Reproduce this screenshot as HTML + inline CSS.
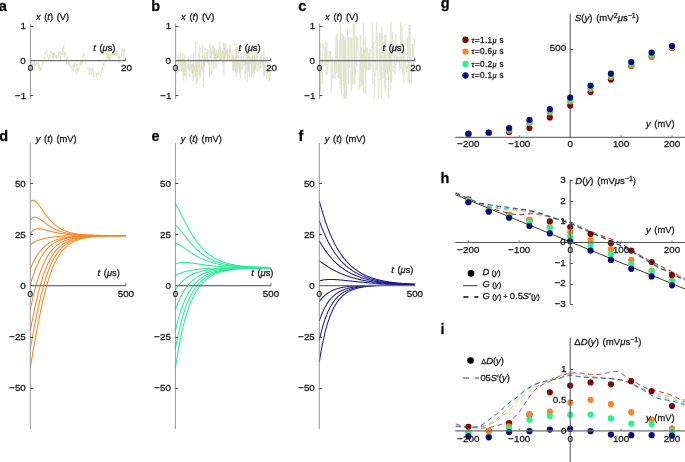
<!DOCTYPE html>
<html><head><meta charset="utf-8"><style>
html,body{margin:0;padding:0;background:#fff;width:685px;height:462px;overflow:hidden}
svg{display:block;font-family:"Liberation Sans", sans-serif;will-change:transform}
text{stroke:#1a1a1a;stroke-width:0.28px;stroke-linejoin:round}
</style></head><body>
<svg width="685" height="462" viewBox="0 0 685 462">
<rect width="685" height="462" fill="#fff"/>
<text x="-1.20" y="10.70" font-size="14.5" text-anchor="start" font-weight="bold" font-style="normal" fill="#000" >a</text>
<text x="151.20" y="10.70" font-size="14.5" text-anchor="start" font-weight="bold" font-style="normal" fill="#000" >b</text>
<text x="298.20" y="10.80" font-size="14.5" text-anchor="start" font-weight="bold" font-style="normal" fill="#000" >c</text>
<text x="-0.80" y="140.60" font-size="14.5" text-anchor="start" font-weight="bold" font-style="normal" fill="#000" >d</text>
<text x="151.60" y="140.80" font-size="14.5" text-anchor="start" font-weight="bold" font-style="normal" fill="#000" >e</text>
<text x="298.60" y="140.80" font-size="14.5" text-anchor="start" font-weight="bold" font-style="normal" fill="#000" >f</text>
<text x="440.80" y="7.60" font-size="14.5" text-anchor="start" font-weight="bold" font-style="normal" fill="#000" >g</text>
<text x="440.60" y="182.70" font-size="14.5" text-anchor="start" font-weight="bold" font-style="normal" fill="#000" >h</text>
<text x="440.60" y="333.80" font-size="14.5" text-anchor="start" font-weight="bold" font-style="normal" fill="#000" >i</text>
<polyline points="30.4,62.3 30.8,58.8 31.2,59.5 31.6,65.0 32.0,64.8 32.4,65.8 32.8,62.9 33.2,65.1 33.6,63.1 34.0,71.2 34.4,61.2 34.8,65.9 35.2,63.5 35.6,65.7 36.0,66.2 36.4,63.6 36.8,62.3 37.2,65.2 37.6,64.8 38.0,62.2 38.3,66.9 38.7,69.0 39.1,63.5 39.5,66.9 39.9,70.7 40.3,67.6 40.7,66.8 41.1,69.1 41.5,70.2 41.9,65.4 42.3,61.7 42.7,63.9 43.1,64.2 43.5,59.8 43.9,57.6 44.3,59.3 44.7,55.3 45.1,52.3 45.5,54.5 45.9,54.7 46.3,50.9 46.7,51.7 47.1,49.6 47.5,57.1 47.9,55.7 48.3,56.7 48.7,59.8 49.1,54.8 49.5,53.9 49.9,57.5 50.3,51.0 50.7,52.5 51.1,52.9 51.5,53.4 51.9,51.6 52.3,58.1 52.7,52.2 53.1,52.0 53.5,59.2 53.9,53.3 54.2,55.5 54.6,52.8 55.0,56.7 55.4,55.9 55.8,55.2 56.2,59.1 56.6,55.1 57.0,57.5 57.4,55.6 57.8,58.4 58.2,53.5 58.6,54.7 59.0,56.8 59.4,54.3 59.8,52.2 60.2,50.5 60.6,60.2 61.0,52.4 61.4,52.7 61.8,53.3 62.2,55.1 62.6,47.4 63.0,53.9 63.4,47.5 63.8,45.2 64.2,55.2 64.6,52.9 65.0,57.3 65.4,54.2 65.8,51.9 66.2,51.8 66.6,64.3 67.0,61.5 67.4,58.4 67.8,56.5 68.2,60.7 68.6,64.8 69.0,62.4 69.4,64.1 69.8,65.3 70.1,67.3 70.5,64.3 70.9,64.9 71.3,66.4 71.7,67.1 72.1,70.6 72.5,68.6 72.9,63.9 73.3,68.4 73.7,72.4 74.1,64.6 74.5,67.3 74.9,63.0 75.3,69.4 75.7,71.3 76.1,74.6 76.5,66.8 76.9,63.5 77.3,73.0 77.7,71.8 78.1,67.6 78.5,71.1 78.9,68.9 79.3,68.5 79.7,66.3 80.1,63.0 80.5,65.1 80.9,61.1 81.3,63.7 81.7,60.1 82.1,66.0 82.5,62.6 82.9,54.6 83.3,57.3 83.7,53.0 84.1,54.4 84.5,53.5 84.9,56.4 85.3,57.1 85.7,61.8 86.0,64.9 86.4,66.4 86.8,67.1 87.2,69.7 87.6,68.6 88.0,67.9 88.4,67.5 88.8,69.9 89.2,75.2 89.6,70.3 90.0,70.1 90.4,68.1 90.8,70.1 91.2,74.2 91.6,75.0 92.0,67.4 92.4,71.6 92.8,68.9 93.2,68.5 93.6,77.7 94.0,73.8 94.4,73.3 94.8,72.7 95.2,72.5 95.6,73.2 96.0,73.0 96.4,77.7 96.8,73.4 97.2,75.3 97.6,73.2 98.0,75.3 98.4,72.6 98.8,72.4 99.2,74.3 99.6,74.7 100.0,75.8 100.4,77.1 100.8,74.9 101.2,74.4 101.6,70.3 101.9,70.0 102.3,66.9 102.7,71.0 103.1,63.0 103.5,66.5 103.9,65.3 104.3,62.8 104.7,62.8 105.1,59.3 105.5,60.8 105.9,61.3 106.3,59.6 106.7,52.2 107.1,54.9 107.5,58.0 107.9,54.8 108.3,59.7 108.7,50.2 109.1,60.2 109.5,54.6 109.9,54.7 110.3,60.9 110.7,56.0 111.1,54.2 111.5,55.4 111.9,55.5 112.3,52.9 112.7,54.7 113.1,53.6 113.5,54.4 113.9,51.6 114.3,55.7 114.7,50.1 115.1,53.7 115.5,55.9 115.9,52.0 116.3,48.6 116.7,51.2 117.1,56.0 117.5,52.9 117.8,56.8 118.2,56.3 118.6,56.1 119.0,63.1 119.4,55.3 119.8,58.4 120.2,57.0 120.6,58.9 121.0,58.6 121.4,56.5 121.8,50.9 122.2,48.0 122.6,52.7 123.0,49.1 123.4,52.7 123.8,57.3 124.2,50.8 124.6,49.6 125.0,51.9 125.4,49.4" fill="none" stroke="#d8dbc0" stroke-width="0.6" stroke-linejoin="round" />
<line x1="30.40" y1="23.50" x2="30.40" y2="99.00" stroke="#8c8c8c" stroke-width="0.9" />
<line x1="30.40" y1="26.50" x2="33.20" y2="26.50" stroke="#444" stroke-width="1.0" />
<line x1="30.40" y1="95.50" x2="33.20" y2="95.50" stroke="#444" stroke-width="1.0" />
<line x1="30.40" y1="60.70" x2="125.40" y2="60.70" stroke="#707070" stroke-width="1.3" />
<line x1="125.40" y1="61.30" x2="125.40" y2="58.10" stroke="#707070" stroke-width="0.9" />
<text x="25.90" y="28.80" font-size="9.8" text-anchor="end" font-weight="normal" font-style="normal" fill="#111" >1</text>
<text x="25.80" y="63.90" font-size="9.8" text-anchor="end" font-weight="normal" font-style="normal" fill="#111" >0</text>
<text x="26.20" y="98.60" font-size="9.8" text-anchor="end" font-weight="normal" font-style="normal" fill="#111" >&#8722;1</text>
<text x="30.40" y="71.00" font-size="9.8" text-anchor="middle" font-weight="normal" font-style="normal" fill="#111" >0</text>
<text x="126.40" y="71.00" font-size="9.8" text-anchor="middle" font-weight="normal" font-style="normal" fill="#111" >20</text>
<text x="93.20" y="51.20" font-size="9.3" fill="#111" word-spacing="1.1"><tspan font-style="italic">t</tspan> (<tspan font-style="italic">&#956;</tspan>s)</text>
<text x="35.90" y="19.50" font-size="9.3" fill="#111" word-spacing="1.1"><tspan font-style="italic">x</tspan> (<tspan font-style="italic">t</tspan>) (V)</text>
<polyline points="175.6,64.9 175.9,60.6 176.2,73.0 176.6,74.0 176.9,64.3 177.2,67.2 177.5,67.5 177.8,57.3 178.1,54.9 178.5,72.1 178.8,58.5 179.1,60.9 179.4,62.0 179.7,59.3 180.0,71.2 180.4,59.1 180.7,53.0 181.0,64.3 181.3,71.9 181.6,60.4 182.0,59.0 182.3,66.3 182.6,71.4 182.9,53.9 183.2,80.6 183.5,59.3 183.9,69.8 184.2,75.7 184.5,55.6 184.8,68.4 185.1,76.3 185.4,60.5 185.8,73.1 186.1,80.5 186.4,69.0 186.7,65.2 187.0,63.5 187.4,67.6 187.7,67.3 188.0,64.2 188.3,70.3 188.6,57.9 188.9,69.4 189.3,64.9 189.6,64.3 189.9,76.7 190.2,70.3 190.5,55.2 190.9,68.8 191.2,69.4 191.5,64.5 191.8,72.3 192.1,64.1 192.4,73.8 192.8,63.7 193.1,80.9 193.4,53.5 193.7,75.8 194.0,77.3 194.3,66.5 194.7,70.8 195.0,65.4 195.3,76.8 195.6,61.4 195.9,41.2 196.3,84.6 196.6,59.1 196.9,71.5 197.2,63.8 197.5,81.3 197.8,70.8 198.2,61.5 198.5,68.0 198.8,53.1 199.1,75.3 199.4,61.8 199.7,44.8 200.1,77.8 200.4,68.8 200.7,64.7 201.0,65.8 201.3,58.6 201.7,66.1 202.0,70.4 202.3,61.6 202.6,45.5 202.9,60.6 203.2,86.9 203.6,58.7 203.9,72.6 204.2,56.8 204.5,67.2 204.8,47.5 205.1,60.5 205.5,56.4 205.8,62.5 206.1,61.9 206.4,58.7 206.7,51.9 207.1,59.2 207.4,63.3 207.7,49.1 208.0,61.1 208.3,59.1 208.6,64.7 209.0,60.8 209.3,62.0 209.6,77.6 209.9,43.3 210.2,56.5 210.5,58.0 210.9,47.4 211.2,54.7 211.5,52.9 211.8,75.3 212.1,51.5 212.5,52.8 212.8,44.3 213.1,45.2 213.4,48.1 213.7,67.0 214.0,69.3 214.4,47.6 214.7,58.3 215.0,48.0 215.3,59.5 215.6,53.4 216.0,68.4 216.3,49.1 216.6,61.8 216.9,52.0 217.2,54.2 217.5,58.0 217.9,53.6 218.2,57.5 218.5,50.4 218.8,54.3 219.1,60.9 219.4,59.1 219.8,41.6 220.1,60.7 220.4,46.5 220.7,55.1 221.0,59.6 221.4,59.5 221.7,52.7 222.0,53.5 222.3,50.3 222.6,65.4 222.9,55.6 223.3,54.5 223.6,41.7 223.9,75.6 224.2,43.8 224.5,60.6 224.8,48.0 225.2,58.6 225.5,48.7 225.8,42.7 226.1,54.1 226.4,50.4 226.8,52.3 227.1,60.7 227.4,48.6 227.7,58.3 228.0,60.4 228.3,54.2 228.7,57.8 229.0,49.6 229.3,58.5 229.6,59.9 229.9,44.6 230.2,53.1 230.6,48.8 230.9,55.5 231.2,59.3 231.5,60.8 231.8,59.6 232.2,51.0 232.5,60.3 232.8,70.0 233.1,56.3 233.4,71.1 233.7,54.8 234.1,70.4 234.4,66.4 234.7,57.3 235.0,61.7 235.3,72.7 235.7,51.2 236.0,47.1 236.3,76.4 236.6,42.6 236.9,72.1 237.2,62.0 237.6,62.9 237.9,72.5 238.2,48.9 238.5,62.4 238.8,68.1 239.1,63.0 239.5,74.2 239.8,62.1 240.1,56.2 240.4,78.4 240.7,62.2 241.1,62.8 241.4,56.0 241.7,56.0 242.0,70.0 242.3,68.0 242.6,59.5 243.0,68.3 243.3,65.2 243.6,55.5 243.9,53.7 244.2,65.1 244.5,65.1 244.9,59.3 245.2,79.8 245.5,59.3 245.8,73.4 246.1,42.8 246.5,64.7 246.8,62.5 247.1,65.7 247.4,82.4 247.7,52.7 248.0,54.6 248.4,72.0 248.7,56.0 249.0,60.5 249.3,76.4 249.6,52.6 249.9,56.5 250.3,63.9 250.6,63.9 250.9,57.4 251.2,77.1 251.5,58.7 251.9,56.8 252.2,74.9 252.5,52.4 252.8,69.8 253.1,77.2 253.4,59.9 253.8,71.7 254.1,58.2 254.4,73.6 254.7,52.0 255.0,72.1 255.3,57.6 255.7,69.2 256.0,63.6 256.3,53.7 256.6,64.1 256.9,65.6 257.3,71.6 257.6,51.3 257.9,60.6 258.2,65.9 258.5,59.9 258.8,71.4 259.2,67.8 259.5,67.4 259.8,58.4 260.1,61.5 260.4,68.5 260.8,55.0 261.1,58.7 261.4,62.5 261.7,55.0 262.0,67.7 262.3,62.8 262.7,60.1 263.0,65.1 263.3,57.6 263.6,75.8 263.9,50.2 264.2,75.0 264.6,63.1 264.9,76.3 265.2,57.5 265.5,58.3 265.8,59.9 266.2,61.6 266.5,79.6 266.8,68.6 267.1,69.8 267.4,73.3 267.7,56.8 268.1,69.2 268.4,68.2 268.7,66.8 269.0,80.6 269.3,78.5 269.6,81.3 270.0,72.4 270.3,78.7 270.6,77.4" fill="none" stroke="#d8dbc0" stroke-width="0.6" stroke-linejoin="round" />
<line x1="175.60" y1="23.50" x2="175.60" y2="99.00" stroke="#8c8c8c" stroke-width="0.9" />
<line x1="175.60" y1="26.50" x2="178.40" y2="26.50" stroke="#444" stroke-width="1.0" />
<line x1="175.60" y1="95.50" x2="178.40" y2="95.50" stroke="#444" stroke-width="1.0" />
<line x1="175.60" y1="60.70" x2="270.60" y2="60.70" stroke="#707070" stroke-width="1.3" />
<line x1="270.60" y1="61.30" x2="270.60" y2="58.10" stroke="#707070" stroke-width="0.9" />
<text x="171.10" y="28.80" font-size="9.8" text-anchor="end" font-weight="normal" font-style="normal" fill="#111" >1</text>
<text x="171.00" y="63.90" font-size="9.8" text-anchor="end" font-weight="normal" font-style="normal" fill="#111" >0</text>
<text x="171.40" y="98.60" font-size="9.8" text-anchor="end" font-weight="normal" font-style="normal" fill="#111" >&#8722;1</text>
<text x="175.60" y="71.00" font-size="9.8" text-anchor="middle" font-weight="normal" font-style="normal" fill="#111" >0</text>
<text x="271.60" y="71.00" font-size="9.8" text-anchor="middle" font-weight="normal" font-style="normal" fill="#111" >20</text>
<text x="238.40" y="51.20" font-size="9.3" fill="#111" word-spacing="1.1"><tspan font-style="italic">t</tspan> (<tspan font-style="italic">&#956;</tspan>s)</text>
<text x="181.10" y="19.50" font-size="9.3" fill="#111" word-spacing="1.1"><tspan font-style="italic">x</tspan> (<tspan font-style="italic">t</tspan>) (V)</text>
<polyline points="319.6,60.7 320.1,42.0 320.6,91.7 321.1,58.0 321.6,59.2 322.1,84.7 322.6,60.3 323.1,43.3 323.6,48.5 324.1,46.9 324.6,65.5 325.1,62.5 325.6,41.3 326.1,74.9 326.6,49.1 327.1,42.3 327.6,74.4 328.1,65.8 328.6,58.8 329.2,51.1 329.7,56.2 330.2,59.8 330.7,51.4 331.2,92.2 331.7,63.0 332.2,56.9 332.7,78.3 333.2,76.9 333.7,75.2 334.2,70.8 334.7,59.7 335.2,78.8 335.7,49.4 336.2,35.8 336.7,73.2 337.2,33.6 337.7,66.5 338.2,77.8 338.7,58.3 339.2,78.7 339.7,40.2 340.2,88.9 340.7,26.5 341.2,64.4 341.7,94.3 342.2,33.6 342.7,44.6 343.2,80.9 343.7,35.5 344.2,98.9 344.7,39.8 345.2,97.9 345.7,37.5 346.2,98.9 346.7,90.3 347.2,42.0 347.7,28.5 348.3,83.9 348.8,37.0 349.3,68.3 349.8,63.3 350.3,49.0 350.8,36.9 351.3,91.7 351.8,38.5 352.3,63.6 352.8,84.3 353.3,23.3 353.8,41.9 354.3,84.8 354.8,22.5 355.3,75.6 355.8,57.6 356.3,35.9 356.8,66.7 357.3,52.7 357.8,37.6 358.3,47.6 358.8,50.4 359.3,89.1 359.8,76.6 360.3,34.8 360.8,87.1 361.3,47.5 361.8,84.6 362.3,54.3 362.8,85.4 363.3,22.5 363.8,93.6 364.3,49.6 364.8,68.4 365.3,36.7 365.8,94.9 366.3,47.6 366.8,69.6 367.4,48.0 367.9,57.6 368.4,70.0 368.9,52.8 369.4,70.3 369.9,48.7 370.4,67.3 370.9,69.4 371.4,57.7 371.9,55.6 372.4,23.4 372.9,84.1 373.4,46.0 373.9,41.2 374.4,98.9 374.9,73.4 375.4,76.2 375.9,56.5 376.4,22.5 376.9,70.2 377.4,36.0 377.9,74.5 378.4,97.9 378.9,85.9 379.4,32.9 379.9,68.6 380.4,80.1 380.9,33.6 381.4,98.3 381.9,26.0 382.4,49.4 382.9,78.5 383.4,72.8 383.9,41.2 384.4,87.5 384.9,35.0 385.4,91.7 385.9,34.3 386.5,69.6 387.0,64.6 387.5,74.7 388.0,51.0 388.5,97.4 389.0,50.8 389.5,71.5 390.0,44.6 390.5,88.9 391.0,22.5 391.5,82.5 392.0,71.7 392.5,32.2 393.0,43.2 393.5,70.9 394.0,72.1 394.5,55.9 395.0,74.6 395.5,60.6 396.0,33.7 396.5,64.7 397.0,56.6 397.5,56.3 398.0,63.5 398.5,45.0 399.0,51.7 399.5,70.7 400.0,54.9 400.5,22.5 401.0,69.2 401.5,60.5 402.0,25.2 402.5,74.7 403.0,74.1 403.5,43.6 404.0,83.1 404.5,60.4 405.0,55.2 405.6,65.1 406.1,72.2 406.6,65.7 407.1,69.0 407.6,37.1 408.1,82.6 408.6,61.9 409.1,24.9 409.6,84.6 410.1,25.3 410.6,52.0 411.1,66.8 411.6,82.9 412.1,44.0 412.6,55.7 413.1,45.9 413.6,65.4 414.1,37.9 414.6,45.7" fill="none" stroke="#d9dcc2" stroke-width="0.6" stroke-linejoin="round" />
<line x1="319.60" y1="23.50" x2="319.60" y2="99.00" stroke="#8c8c8c" stroke-width="0.9" />
<line x1="319.60" y1="26.50" x2="322.40" y2="26.50" stroke="#444" stroke-width="1.0" />
<line x1="319.60" y1="95.50" x2="322.40" y2="95.50" stroke="#444" stroke-width="1.0" />
<line x1="319.60" y1="60.70" x2="414.60" y2="60.70" stroke="#707070" stroke-width="1.3" />
<line x1="414.60" y1="61.30" x2="414.60" y2="58.10" stroke="#707070" stroke-width="0.9" />
<text x="315.10" y="28.80" font-size="9.8" text-anchor="end" font-weight="normal" font-style="normal" fill="#111" >1</text>
<text x="315.00" y="63.90" font-size="9.8" text-anchor="end" font-weight="normal" font-style="normal" fill="#111" >0</text>
<text x="315.40" y="98.60" font-size="9.8" text-anchor="end" font-weight="normal" font-style="normal" fill="#111" >&#8722;1</text>
<text x="319.60" y="71.00" font-size="9.8" text-anchor="middle" font-weight="normal" font-style="normal" fill="#111" >0</text>
<text x="415.60" y="71.00" font-size="9.8" text-anchor="middle" font-weight="normal" font-style="normal" fill="#111" >20</text>
<text x="382.40" y="51.20" font-size="9.3" fill="#111" word-spacing="1.1"><tspan font-style="italic">t</tspan> (<tspan font-style="italic">&#956;</tspan>s)</text>
<text x="325.10" y="19.50" font-size="9.3" fill="#111" word-spacing="1.1"><tspan font-style="italic">x</tspan> (<tspan font-style="italic">t</tspan>) (V)</text>
<polyline points="30.3,202.4 30.4,202.3 30.5,202.2 30.5,202.0 30.6,201.9 30.7,201.8 30.8,201.7 30.8,201.6 30.9,201.5 31.0,201.4 31.1,201.3 31.2,201.2 31.2,201.1 31.3,201.1 31.4,201.0 31.5,200.9 31.5,200.8 31.6,200.8 31.7,200.7 31.8,200.7 31.9,200.6 31.9,200.6 32.0,200.5 32.1,200.5 32.2,200.4 32.3,200.4 32.3,200.4 32.4,200.3 32.5,200.3 32.6,200.3 32.6,200.3 32.7,200.3 32.8,200.2 32.9,200.2 33.0,200.2 33.0,200.2 33.1,200.2 33.2,200.2 33.3,200.2 33.3,200.2 33.4,200.2 33.5,200.2 33.6,200.2 33.7,200.3 33.7,200.3 33.8,200.3 33.9,200.3 34.0,200.3 34.0,200.4 34.1,200.4 34.3,200.5 34.7,200.7 35.1,200.9 35.5,201.2 35.8,201.5 36.2,201.9 36.6,202.2 37.0,202.7 37.4,203.1 37.8,203.5 38.1,204.0 38.5,204.5 38.9,205.0 39.3,205.5 39.7,206.0 40.1,206.6 40.4,207.1 40.8,207.7 41.2,208.2 41.6,208.8 42.0,209.3 42.4,209.9 42.7,210.4 43.1,211.0 43.5,211.5 43.9,212.1 44.3,212.6 44.7,213.2 45.0,213.7 45.4,214.2 45.8,214.7 46.2,215.2 46.6,215.8 47.0,216.3 47.3,216.8 47.7,217.2 48.1,217.7 48.5,218.2 48.9,218.6 49.3,219.1 49.6,219.5 50.0,220.0 50.4,220.4 50.8,220.8 51.2,221.2 51.6,221.6 51.9,222.0 52.3,222.4 52.7,222.8 53.1,223.2 53.5,223.5 53.9,223.9 54.2,224.2 54.6,224.6 55.0,224.9 55.4,225.2 55.8,225.5 56.2,225.8 56.5,226.1 56.9,226.4 57.3,226.7 57.7,226.9 58.1,227.2 58.5,227.5 58.8,227.7 59.2,228.0 59.6,228.2 60.0,228.4 60.4,228.6 60.8,228.9 61.1,229.1 61.5,229.3 61.9,229.5 62.3,229.7 62.7,229.9 63.1,230.0 63.4,230.2 63.8,230.4 64.2,230.6 64.6,230.7 65.0,230.9 65.4,231.0 65.7,231.2 66.1,231.3 66.5,231.5 66.9,231.6 67.3,231.7 67.7,231.8 68.0,232.0 68.4,232.1 68.8,232.2 69.2,232.3 69.6,232.4 70.0,232.5 70.3,232.6 70.7,232.7 71.1,232.8 71.5,232.9 71.9,233.0 72.3,233.1 72.6,233.2 73.0,233.2 73.4,233.3 73.8,233.4 74.2,233.5 74.6,233.5 74.9,233.6 75.3,233.7 75.7,233.7 76.1,233.8 76.5,233.9 76.9,233.9 77.2,234.0 77.6,234.0 78.0,234.1 78.4,234.1 78.8,234.2 79.1,234.2 79.5,234.3 79.9,234.3 80.3,234.4 80.7,234.4 81.1,234.4 81.4,234.5 81.8,234.5 82.2,234.6 82.6,234.6 83.0,234.6 83.4,234.7 83.7,234.7 84.1,234.7 84.5,234.7 84.9,234.8 85.3,234.8 85.7,234.8 86.0,234.8 86.4,234.9 86.8,234.9 87.2,234.9 87.6,234.9 88.0,235.0 88.3,235.0 88.7,235.0 89.1,235.0 89.5,235.0 89.9,235.1 90.3,235.1 90.6,235.1 91.0,235.1 91.4,235.1 91.8,235.1 92.2,235.1 92.6,235.2 92.9,235.2 93.3,235.2 93.7,235.2 94.1,235.2 94.5,235.2 94.9,235.2 95.2,235.2 95.6,235.3 96.0,235.3 96.4,235.3 96.8,235.3 97.2,235.3 97.5,235.3 97.9,235.3 98.3,235.3 98.7,235.3 99.1,235.3 99.5,235.3 99.8,235.3 100.2,235.4 100.6,235.4 101.0,235.4 101.4,235.4 101.8,235.4 102.1,235.4 102.5,235.4 102.9,235.4 103.3,235.4 103.7,235.4 104.1,235.4 104.4,235.4 104.8,235.4 105.2,235.4 105.6,235.4 106.0,235.4 106.4,235.4 106.7,235.4 107.1,235.4 107.5,235.4 107.9,235.4 108.3,235.4 108.7,235.4 109.0,235.5 109.4,235.5 109.8,235.5 110.2,235.5 110.6,235.5 111.0,235.5 111.3,235.5 111.7,235.5 112.1,235.5 112.5,235.5 112.9,235.5 113.3,235.5 113.6,235.5 114.0,235.5 114.4,235.5 114.8,235.5 115.2,235.5 115.6,235.5 115.9,235.5 116.3,235.5 116.7,235.5 117.1,235.5 117.5,235.5 117.9,235.5 118.2,235.5 118.6,235.5 119.0,235.5 119.4,235.5 119.8,235.5 120.2,235.5 120.5,235.5 120.9,235.5 121.3,235.5 121.7,235.5 122.1,235.5 122.5,235.5 122.8,235.5 123.2,235.5 123.6,235.5 124.0,235.5 124.4,235.5 124.8,235.5 125.1,235.5 125.5,235.5 125.9,235.5" fill="none" stroke="#f08a2a" stroke-width="1.05" stroke-linejoin="round" />
<polyline points="30.3,220.4 30.4,220.3 30.5,220.1 30.5,220.0 30.6,219.9 30.7,219.8 30.8,219.7 30.8,219.5 30.9,219.4 31.0,219.3 31.1,219.2 31.2,219.1 31.2,219.0 31.3,218.9 31.4,218.8 31.5,218.8 31.5,218.7 31.6,218.6 31.7,218.5 31.8,218.4 31.9,218.4 31.9,218.3 32.0,218.2 32.1,218.1 32.2,218.1 32.3,218.0 32.3,218.0 32.4,217.9 32.5,217.8 32.6,217.8 32.6,217.7 32.7,217.7 32.8,217.6 32.9,217.6 33.0,217.6 33.0,217.5 33.1,217.5 33.2,217.4 33.3,217.4 33.3,217.4 33.4,217.4 33.5,217.3 33.6,217.3 33.7,217.3 33.7,217.2 33.8,217.2 33.9,217.2 34.0,217.2 34.0,217.2 34.1,217.2 34.3,217.1 34.7,217.1 35.1,217.1 35.5,217.1 35.8,217.2 36.2,217.3 36.6,217.4 37.0,217.6 37.4,217.7 37.8,217.9 38.1,218.1 38.5,218.3 38.9,218.5 39.3,218.7 39.7,219.0 40.1,219.2 40.4,219.5 40.8,219.8 41.2,220.0 41.6,220.3 42.0,220.6 42.4,220.9 42.7,221.2 43.1,221.4 43.5,221.7 43.9,222.0 44.3,222.3 44.7,222.6 45.0,222.9 45.4,223.2 45.8,223.5 46.2,223.7 46.6,224.0 47.0,224.3 47.3,224.6 47.7,224.8 48.1,225.1 48.5,225.4 48.9,225.6 49.3,225.9 49.6,226.1 50.0,226.4 50.4,226.6 50.8,226.9 51.2,227.1 51.6,227.3 51.9,227.6 52.3,227.8 52.7,228.0 53.1,228.2 53.5,228.4 53.9,228.6 54.2,228.8 54.6,229.0 55.0,229.2 55.4,229.4 55.8,229.6 56.2,229.7 56.5,229.9 56.9,230.1 57.3,230.2 57.7,230.4 58.1,230.5 58.5,230.7 58.8,230.8 59.2,231.0 59.6,231.1 60.0,231.3 60.4,231.4 60.8,231.5 61.1,231.6 61.5,231.8 61.9,231.9 62.3,232.0 62.7,232.1 63.1,232.2 63.4,232.3 63.8,232.4 64.2,232.5 64.6,232.6 65.0,232.7 65.4,232.8 65.7,232.9 66.1,233.0 66.5,233.1 66.9,233.1 67.3,233.2 67.7,233.3 68.0,233.4 68.4,233.4 68.8,233.5 69.2,233.6 69.6,233.6 70.0,233.7 70.3,233.8 70.7,233.8 71.1,233.9 71.5,233.9 71.9,234.0 72.3,234.0 72.6,234.1 73.0,234.1 73.4,234.2 73.8,234.2 74.2,234.3 74.6,234.3 74.9,234.4 75.3,234.4 75.7,234.4 76.1,234.5 76.5,234.5 76.9,234.5 77.2,234.6 77.6,234.6 78.0,234.6 78.4,234.7 78.8,234.7 79.1,234.7 79.5,234.8 79.9,234.8 80.3,234.8 80.7,234.8 81.1,234.9 81.4,234.9 81.8,234.9 82.2,234.9 82.6,235.0 83.0,235.0 83.4,235.0 83.7,235.0 84.1,235.0 84.5,235.0 84.9,235.1 85.3,235.1 85.7,235.1 86.0,235.1 86.4,235.1 86.8,235.1 87.2,235.2 87.6,235.2 88.0,235.2 88.3,235.2 88.7,235.2 89.1,235.2 89.5,235.2 89.9,235.2 90.3,235.2 90.6,235.3 91.0,235.3 91.4,235.3 91.8,235.3 92.2,235.3 92.6,235.3 92.9,235.3 93.3,235.3 93.7,235.3 94.1,235.3 94.5,235.3 94.9,235.3 95.2,235.4 95.6,235.4 96.0,235.4 96.4,235.4 96.8,235.4 97.2,235.4 97.5,235.4 97.9,235.4 98.3,235.4 98.7,235.4 99.1,235.4 99.5,235.4 99.8,235.4 100.2,235.4 100.6,235.4 101.0,235.4 101.4,235.4 101.8,235.4 102.1,235.4 102.5,235.4 102.9,235.4 103.3,235.4 103.7,235.4 104.1,235.4 104.4,235.5 104.8,235.5 105.2,235.5 105.6,235.5 106.0,235.5 106.4,235.5 106.7,235.5 107.1,235.5 107.5,235.5 107.9,235.5 108.3,235.5 108.7,235.5 109.0,235.5 109.4,235.5 109.8,235.5 110.2,235.5 110.6,235.5 111.0,235.5 111.3,235.5 111.7,235.5 112.1,235.5 112.5,235.5 112.9,235.5 113.3,235.5 113.6,235.5 114.0,235.5 114.4,235.5 114.8,235.5 115.2,235.5 115.6,235.5 115.9,235.5 116.3,235.5 116.7,235.5 117.1,235.5 117.5,235.5 117.9,235.5 118.2,235.5 118.6,235.5 119.0,235.5 119.4,235.5 119.8,235.5 120.2,235.5 120.5,235.5 120.9,235.5 121.3,235.5 121.7,235.5 122.1,235.5 122.5,235.5 122.8,235.5 123.2,235.5 123.6,235.5 124.0,235.5 124.4,235.5 124.8,235.5 125.1,235.5 125.5,235.5 125.9,235.5" fill="none" stroke="#f08a2a" stroke-width="1.05" stroke-linejoin="round" />
<polyline points="30.3,233.9 30.4,233.8 30.5,233.6 30.5,233.5 30.6,233.4 30.7,233.2 30.8,233.1 30.8,233.0 30.9,232.9 31.0,232.8 31.1,232.7 31.2,232.6 31.2,232.5 31.3,232.3 31.4,232.2 31.5,232.1 31.5,232.0 31.6,231.9 31.7,231.8 31.8,231.8 31.9,231.7 31.9,231.6 32.0,231.5 32.1,231.4 32.2,231.3 32.3,231.2 32.3,231.2 32.4,231.1 32.5,231.0 32.6,230.9 32.6,230.8 32.7,230.8 32.8,230.7 32.9,230.6 33.0,230.6 33.0,230.5 33.1,230.4 33.2,230.4 33.3,230.3 33.3,230.3 33.4,230.2 33.5,230.1 33.6,230.1 33.7,230.0 33.7,230.0 33.8,229.9 33.9,229.9 34.0,229.8 34.0,229.8 34.1,229.7 34.3,229.6 34.7,229.4 35.1,229.2 35.5,229.1 35.8,229.0 36.2,228.9 36.6,228.8 37.0,228.7 37.4,228.7 37.8,228.7 38.1,228.6 38.5,228.6 38.9,228.6 39.3,228.7 39.7,228.7 40.1,228.7 40.4,228.8 40.8,228.8 41.2,228.9 41.6,229.0 42.0,229.1 42.4,229.1 42.7,229.2 43.1,229.3 43.5,229.4 43.9,229.5 44.3,229.6 44.7,229.7 45.0,229.8 45.4,229.9 45.8,230.0 46.2,230.1 46.6,230.2 47.0,230.3 47.3,230.4 47.7,230.5 48.1,230.7 48.5,230.8 48.9,230.9 49.3,231.0 49.6,231.1 50.0,231.2 50.4,231.3 50.8,231.4 51.2,231.5 51.6,231.6 51.9,231.7 52.3,231.8 52.7,231.9 53.1,232.0 53.5,232.1 53.9,232.2 54.2,232.3 54.6,232.3 55.0,232.4 55.4,232.5 55.8,232.6 56.2,232.7 56.5,232.8 56.9,232.8 57.3,232.9 57.7,233.0 58.1,233.1 58.5,233.1 58.8,233.2 59.2,233.3 59.6,233.3 60.0,233.4 60.4,233.5 60.8,233.5 61.1,233.6 61.5,233.6 61.9,233.7 62.3,233.8 62.7,233.8 63.1,233.9 63.4,233.9 63.8,234.0 64.2,234.0 64.6,234.1 65.0,234.1 65.4,234.1 65.7,234.2 66.1,234.2 66.5,234.3 66.9,234.3 67.3,234.4 67.7,234.4 68.0,234.4 68.4,234.5 68.8,234.5 69.2,234.5 69.6,234.6 70.0,234.6 70.3,234.6 70.7,234.7 71.1,234.7 71.5,234.7 71.9,234.7 72.3,234.8 72.6,234.8 73.0,234.8 73.4,234.8 73.8,234.9 74.2,234.9 74.6,234.9 74.9,234.9 75.3,234.9 75.7,235.0 76.1,235.0 76.5,235.0 76.9,235.0 77.2,235.0 77.6,235.1 78.0,235.1 78.4,235.1 78.8,235.1 79.1,235.1 79.5,235.1 79.9,235.1 80.3,235.2 80.7,235.2 81.1,235.2 81.4,235.2 81.8,235.2 82.2,235.2 82.6,235.2 83.0,235.2 83.4,235.2 83.7,235.3 84.1,235.3 84.5,235.3 84.9,235.3 85.3,235.3 85.7,235.3 86.0,235.3 86.4,235.3 86.8,235.3 87.2,235.3 87.6,235.3 88.0,235.3 88.3,235.3 88.7,235.4 89.1,235.4 89.5,235.4 89.9,235.4 90.3,235.4 90.6,235.4 91.0,235.4 91.4,235.4 91.8,235.4 92.2,235.4 92.6,235.4 92.9,235.4 93.3,235.4 93.7,235.4 94.1,235.4 94.5,235.4 94.9,235.4 95.2,235.4 95.6,235.4 96.0,235.4 96.4,235.4 96.8,235.4 97.2,235.4 97.5,235.4 97.9,235.5 98.3,235.5 98.7,235.5 99.1,235.5 99.5,235.5 99.8,235.5 100.2,235.5 100.6,235.5 101.0,235.5 101.4,235.5 101.8,235.5 102.1,235.5 102.5,235.5 102.9,235.5 103.3,235.5 103.7,235.5 104.1,235.5 104.4,235.5 104.8,235.5 105.2,235.5 105.6,235.5 106.0,235.5 106.4,235.5 106.7,235.5 107.1,235.5 107.5,235.5 107.9,235.5 108.3,235.5 108.7,235.5 109.0,235.5 109.4,235.5 109.8,235.5 110.2,235.5 110.6,235.5 111.0,235.5 111.3,235.5 111.7,235.5 112.1,235.5 112.5,235.5 112.9,235.5 113.3,235.5 113.6,235.5 114.0,235.5 114.4,235.5 114.8,235.5 115.2,235.5 115.6,235.5 115.9,235.5 116.3,235.5 116.7,235.5 117.1,235.5 117.5,235.5 117.9,235.5 118.2,235.5 118.6,235.5 119.0,235.5 119.4,235.5 119.8,235.5 120.2,235.5 120.5,235.5 120.9,235.5 121.3,235.5 121.7,235.5 122.1,235.5 122.5,235.5 122.8,235.5 123.2,235.5 123.6,235.5 124.0,235.5 124.4,235.5 124.8,235.5 125.1,235.5 125.5,235.5 125.9,235.5" fill="none" stroke="#f08a2a" stroke-width="1.05" stroke-linejoin="round" />
<polyline points="30.3,244.7 30.4,244.7 30.5,244.6 30.5,244.5 30.6,244.5 30.7,244.4 30.8,244.4 30.8,244.3 30.9,244.3 31.0,244.2 31.1,244.2 31.2,244.1 31.2,244.1 31.3,244.0 31.4,243.9 31.5,243.9 31.5,243.8 31.6,243.8 31.7,243.7 31.8,243.7 31.9,243.6 31.9,243.6 32.0,243.5 32.1,243.5 32.2,243.4 32.3,243.4 32.3,243.3 32.4,243.3 32.5,243.2 32.6,243.2 32.6,243.1 32.7,243.1 32.8,243.1 32.9,243.0 33.0,243.0 33.0,242.9 33.1,242.9 33.2,242.8 33.3,242.8 33.3,242.7 33.4,242.7 33.5,242.6 33.6,242.6 33.7,242.5 33.7,242.5 33.8,242.5 33.9,242.4 34.0,242.4 34.0,242.3 34.1,242.3 34.3,242.2 34.7,242.0 35.1,241.8 35.5,241.6 35.8,241.4 36.2,241.2 36.6,241.1 37.0,240.9 37.4,240.7 37.8,240.6 38.1,240.4 38.5,240.3 38.9,240.1 39.3,240.0 39.7,239.9 40.1,239.7 40.4,239.6 40.8,239.5 41.2,239.4 41.6,239.2 42.0,239.1 42.4,239.0 42.7,238.9 43.1,238.8 43.5,238.7 43.9,238.6 44.3,238.5 44.7,238.4 45.0,238.3 45.4,238.3 45.8,238.2 46.2,238.1 46.6,238.0 47.0,237.9 47.3,237.9 47.7,237.8 48.1,237.7 48.5,237.7 48.9,237.6 49.3,237.5 49.6,237.5 50.0,237.4 50.4,237.3 50.8,237.3 51.2,237.2 51.6,237.2 51.9,237.1 52.3,237.1 52.7,237.0 53.1,237.0 53.5,237.0 53.9,236.9 54.2,236.9 54.6,236.8 55.0,236.8 55.4,236.7 55.8,236.7 56.2,236.7 56.5,236.6 56.9,236.6 57.3,236.6 57.7,236.5 58.1,236.5 58.5,236.5 58.8,236.4 59.2,236.4 59.6,236.4 60.0,236.4 60.4,236.3 60.8,236.3 61.1,236.3 61.5,236.3 61.9,236.2 62.3,236.2 62.7,236.2 63.1,236.2 63.4,236.2 63.8,236.1 64.2,236.1 64.6,236.1 65.0,236.1 65.4,236.1 65.7,236.1 66.1,236.0 66.5,236.0 66.9,236.0 67.3,236.0 67.7,236.0 68.0,236.0 68.4,236.0 68.8,235.9 69.2,235.9 69.6,235.9 70.0,235.9 70.3,235.9 70.7,235.9 71.1,235.9 71.5,235.9 71.9,235.8 72.3,235.8 72.6,235.8 73.0,235.8 73.4,235.8 73.8,235.8 74.2,235.8 74.6,235.8 74.9,235.8 75.3,235.8 75.7,235.8 76.1,235.8 76.5,235.7 76.9,235.7 77.2,235.7 77.6,235.7 78.0,235.7 78.4,235.7 78.8,235.7 79.1,235.7 79.5,235.7 79.9,235.7 80.3,235.7 80.7,235.7 81.1,235.7 81.4,235.7 81.8,235.7 82.2,235.7 82.6,235.7 83.0,235.7 83.4,235.7 83.7,235.6 84.1,235.6 84.5,235.6 84.9,235.6 85.3,235.6 85.7,235.6 86.0,235.6 86.4,235.6 86.8,235.6 87.2,235.6 87.6,235.6 88.0,235.6 88.3,235.6 88.7,235.6 89.1,235.6 89.5,235.6 89.9,235.6 90.3,235.6 90.6,235.6 91.0,235.6 91.4,235.6 91.8,235.6 92.2,235.6 92.6,235.6 92.9,235.6 93.3,235.6 93.7,235.6 94.1,235.6 94.5,235.6 94.9,235.6 95.2,235.6 95.6,235.6 96.0,235.6 96.4,235.6 96.8,235.6 97.2,235.6 97.5,235.6 97.9,235.6 98.3,235.6 98.7,235.6 99.1,235.6 99.5,235.6 99.8,235.6 100.2,235.6 100.6,235.6 101.0,235.6 101.4,235.6 101.8,235.6 102.1,235.6 102.5,235.5 102.9,235.5 103.3,235.5 103.7,235.5 104.1,235.5 104.4,235.5 104.8,235.5 105.2,235.5 105.6,235.5 106.0,235.5 106.4,235.5 106.7,235.5 107.1,235.5 107.5,235.5 107.9,235.5 108.3,235.5 108.7,235.5 109.0,235.5 109.4,235.5 109.8,235.5 110.2,235.5 110.6,235.5 111.0,235.5 111.3,235.5 111.7,235.5 112.1,235.5 112.5,235.5 112.9,235.5 113.3,235.5 113.6,235.5 114.0,235.5 114.4,235.5 114.8,235.5 115.2,235.5 115.6,235.5 115.9,235.5 116.3,235.5 116.7,235.5 117.1,235.5 117.5,235.5 117.9,235.5 118.2,235.5 118.6,235.5 119.0,235.5 119.4,235.5 119.8,235.5 120.2,235.5 120.5,235.5 120.9,235.5 121.3,235.5 121.7,235.5 122.1,235.5 122.5,235.5 122.8,235.5 123.2,235.5 123.6,235.5 124.0,235.5 124.4,235.5 124.8,235.5 125.1,235.5 125.5,235.5 125.9,235.5" fill="none" stroke="#f08a2a" stroke-width="1.05" stroke-linejoin="round" />
<polyline points="30.3,269.2 30.4,269.0 30.5,268.9 30.5,268.7 30.6,268.5 30.7,268.3 30.8,268.1 30.8,267.9 30.9,267.7 31.0,267.5 31.1,267.3 31.2,267.1 31.2,266.9 31.3,266.7 31.4,266.5 31.5,266.4 31.5,266.2 31.6,266.0 31.7,265.8 31.8,265.6 31.9,265.5 31.9,265.3 32.0,265.1 32.1,264.9 32.2,264.7 32.3,264.6 32.3,264.4 32.4,264.2 32.5,264.0 32.6,263.9 32.6,263.7 32.7,263.5 32.8,263.4 32.9,263.2 33.0,263.0 33.0,262.9 33.1,262.7 33.2,262.5 33.3,262.4 33.3,262.2 33.4,262.1 33.5,261.9 33.6,261.7 33.7,261.6 33.7,261.4 33.8,261.3 33.9,261.1 34.0,261.0 34.0,260.8 34.1,260.6 34.3,260.3 34.7,259.5 35.1,258.8 35.5,258.1 35.8,257.5 36.2,256.8 36.6,256.2 37.0,255.6 37.4,255.0 37.8,254.4 38.1,253.8 38.5,253.3 38.9,252.8 39.3,252.2 39.7,251.7 40.1,251.3 40.4,250.8 40.8,250.3 41.2,249.9 41.6,249.5 42.0,249.0 42.4,248.6 42.7,248.2 43.1,247.8 43.5,247.5 43.9,247.1 44.3,246.8 44.7,246.4 45.0,246.1 45.4,245.8 45.8,245.5 46.2,245.2 46.6,244.9 47.0,244.6 47.3,244.3 47.7,244.1 48.1,243.8 48.5,243.5 48.9,243.3 49.3,243.1 49.6,242.8 50.0,242.6 50.4,242.4 50.8,242.2 51.2,242.0 51.6,241.8 51.9,241.6 52.3,241.4 52.7,241.2 53.1,241.1 53.5,240.9 53.9,240.7 54.2,240.6 54.6,240.4 55.0,240.3 55.4,240.1 55.8,240.0 56.2,239.9 56.5,239.7 56.9,239.6 57.3,239.5 57.7,239.4 58.1,239.2 58.5,239.1 58.8,239.0 59.2,238.9 59.6,238.8 60.0,238.7 60.4,238.6 60.8,238.5 61.1,238.4 61.5,238.3 61.9,238.3 62.3,238.2 62.7,238.1 63.1,238.0 63.4,237.9 63.8,237.9 64.2,237.8 64.6,237.7 65.0,237.7 65.4,237.6 65.7,237.5 66.1,237.5 66.5,237.4 66.9,237.4 67.3,237.3 67.7,237.2 68.0,237.2 68.4,237.1 68.8,237.1 69.2,237.0 69.6,237.0 70.0,237.0 70.3,236.9 70.7,236.9 71.1,236.8 71.5,236.8 71.9,236.7 72.3,236.7 72.6,236.7 73.0,236.6 73.4,236.6 73.8,236.6 74.2,236.5 74.6,236.5 74.9,236.5 75.3,236.5 75.7,236.4 76.1,236.4 76.5,236.4 76.9,236.3 77.2,236.3 77.6,236.3 78.0,236.3 78.4,236.2 78.8,236.2 79.1,236.2 79.5,236.2 79.9,236.2 80.3,236.1 80.7,236.1 81.1,236.1 81.4,236.1 81.8,236.1 82.2,236.1 82.6,236.0 83.0,236.0 83.4,236.0 83.7,236.0 84.1,236.0 84.5,236.0 84.9,236.0 85.3,235.9 85.7,235.9 86.0,235.9 86.4,235.9 86.8,235.9 87.2,235.9 87.6,235.9 88.0,235.9 88.3,235.8 88.7,235.8 89.1,235.8 89.5,235.8 89.9,235.8 90.3,235.8 90.6,235.8 91.0,235.8 91.4,235.8 91.8,235.8 92.2,235.8 92.6,235.8 92.9,235.7 93.3,235.7 93.7,235.7 94.1,235.7 94.5,235.7 94.9,235.7 95.2,235.7 95.6,235.7 96.0,235.7 96.4,235.7 96.8,235.7 97.2,235.7 97.5,235.7 97.9,235.7 98.3,235.7 98.7,235.7 99.1,235.7 99.5,235.7 99.8,235.7 100.2,235.6 100.6,235.6 101.0,235.6 101.4,235.6 101.8,235.6 102.1,235.6 102.5,235.6 102.9,235.6 103.3,235.6 103.7,235.6 104.1,235.6 104.4,235.6 104.8,235.6 105.2,235.6 105.6,235.6 106.0,235.6 106.4,235.6 106.7,235.6 107.1,235.6 107.5,235.6 107.9,235.6 108.3,235.6 108.7,235.6 109.0,235.6 109.4,235.6 109.8,235.6 110.2,235.6 110.6,235.6 111.0,235.6 111.3,235.6 111.7,235.6 112.1,235.6 112.5,235.6 112.9,235.6 113.3,235.6 113.6,235.6 114.0,235.6 114.4,235.6 114.8,235.6 115.2,235.6 115.6,235.6 115.9,235.6 116.3,235.6 116.7,235.6 117.1,235.6 117.5,235.6 117.9,235.6 118.2,235.6 118.6,235.6 119.0,235.5 119.4,235.5 119.8,235.5 120.2,235.5 120.5,235.5 120.9,235.5 121.3,235.5 121.7,235.5 122.1,235.5 122.5,235.5 122.8,235.5 123.2,235.5 123.6,235.5 124.0,235.5 124.4,235.5 124.8,235.5 125.1,235.5 125.5,235.5 125.9,235.5" fill="none" stroke="#f08a2a" stroke-width="1.05" stroke-linejoin="round" />
<polyline points="30.3,284.8 30.4,284.5 30.5,284.2 30.5,284.0 30.6,283.7 30.7,283.4 30.8,283.2 30.8,282.9 30.9,282.6 31.0,282.4 31.1,282.1 31.2,281.8 31.2,281.6 31.3,281.3 31.4,281.0 31.5,280.8 31.5,280.5 31.6,280.3 31.7,280.0 31.8,279.8 31.9,279.5 31.9,279.3 32.0,279.0 32.1,278.8 32.2,278.5 32.3,278.3 32.3,278.0 32.4,277.8 32.5,277.5 32.6,277.3 32.6,277.1 32.7,276.8 32.8,276.6 32.9,276.4 33.0,276.1 33.0,275.9 33.1,275.6 33.2,275.4 33.3,275.2 33.3,275.0 33.4,274.7 33.5,274.5 33.6,274.3 33.7,274.0 33.7,273.8 33.8,273.6 33.9,273.4 34.0,273.2 34.0,272.9 34.1,272.7 34.3,272.2 34.7,271.1 35.1,270.1 35.5,269.1 35.8,268.2 36.2,267.2 36.6,266.3 37.0,265.4 37.4,264.5 37.8,263.7 38.1,262.9 38.5,262.1 38.9,261.3 39.3,260.5 39.7,259.8 40.1,259.1 40.4,258.4 40.8,257.7 41.2,257.1 41.6,256.4 42.0,255.8 42.4,255.2 42.7,254.6 43.1,254.0 43.5,253.5 43.9,253.0 44.3,252.4 44.7,251.9 45.0,251.4 45.4,251.0 45.8,250.5 46.2,250.0 46.6,249.6 47.0,249.2 47.3,248.8 47.7,248.4 48.1,248.0 48.5,247.6 48.9,247.2 49.3,246.9 49.6,246.5 50.0,246.2 50.4,245.9 50.8,245.6 51.2,245.3 51.6,245.0 51.9,244.7 52.3,244.4 52.7,244.1 53.1,243.9 53.5,243.6 53.9,243.4 54.2,243.2 54.6,242.9 55.0,242.7 55.4,242.5 55.8,242.3 56.2,242.1 56.5,241.9 56.9,241.7 57.3,241.5 57.7,241.3 58.1,241.1 58.5,241.0 58.8,240.8 59.2,240.6 59.6,240.5 60.0,240.3 60.4,240.2 60.8,240.0 61.1,239.9 61.5,239.8 61.9,239.6 62.3,239.5 62.7,239.4 63.1,239.3 63.4,239.2 63.8,239.1 64.2,238.9 64.6,238.8 65.0,238.7 65.4,238.6 65.7,238.6 66.1,238.5 66.5,238.4 66.9,238.3 67.3,238.2 67.7,238.1 68.0,238.0 68.4,238.0 68.8,237.9 69.2,237.8 69.6,237.7 70.0,237.7 70.3,237.6 70.7,237.6 71.1,237.5 71.5,237.4 71.9,237.4 72.3,237.3 72.6,237.3 73.0,237.2 73.4,237.2 73.8,237.1 74.2,237.1 74.6,237.0 74.9,237.0 75.3,236.9 75.7,236.9 76.1,236.8 76.5,236.8 76.9,236.8 77.2,236.7 77.6,236.7 78.0,236.7 78.4,236.6 78.8,236.6 79.1,236.6 79.5,236.5 79.9,236.5 80.3,236.5 80.7,236.4 81.1,236.4 81.4,236.4 81.8,236.4 82.2,236.3 82.6,236.3 83.0,236.3 83.4,236.3 83.7,236.2 84.1,236.2 84.5,236.2 84.9,236.2 85.3,236.2 85.7,236.1 86.0,236.1 86.4,236.1 86.8,236.1 87.2,236.1 87.6,236.0 88.0,236.0 88.3,236.0 88.7,236.0 89.1,236.0 89.5,236.0 89.9,236.0 90.3,235.9 90.6,235.9 91.0,235.9 91.4,235.9 91.8,235.9 92.2,235.9 92.6,235.9 92.9,235.9 93.3,235.9 93.7,235.8 94.1,235.8 94.5,235.8 94.9,235.8 95.2,235.8 95.6,235.8 96.0,235.8 96.4,235.8 96.8,235.8 97.2,235.8 97.5,235.8 97.9,235.7 98.3,235.7 98.7,235.7 99.1,235.7 99.5,235.7 99.8,235.7 100.2,235.7 100.6,235.7 101.0,235.7 101.4,235.7 101.8,235.7 102.1,235.7 102.5,235.7 102.9,235.7 103.3,235.7 103.7,235.7 104.1,235.7 104.4,235.7 104.8,235.7 105.2,235.6 105.6,235.6 106.0,235.6 106.4,235.6 106.7,235.6 107.1,235.6 107.5,235.6 107.9,235.6 108.3,235.6 108.7,235.6 109.0,235.6 109.4,235.6 109.8,235.6 110.2,235.6 110.6,235.6 111.0,235.6 111.3,235.6 111.7,235.6 112.1,235.6 112.5,235.6 112.9,235.6 113.3,235.6 113.6,235.6 114.0,235.6 114.4,235.6 114.8,235.6 115.2,235.6 115.6,235.6 115.9,235.6 116.3,235.6 116.7,235.6 117.1,235.6 117.5,235.6 117.9,235.6 118.2,235.6 118.6,235.6 119.0,235.6 119.4,235.6 119.8,235.6 120.2,235.6 120.5,235.6 120.9,235.6 121.3,235.6 121.7,235.6 122.1,235.6 122.5,235.6 122.8,235.6 123.2,235.6 123.6,235.6 124.0,235.5 124.4,235.5 124.8,235.5 125.1,235.5 125.5,235.5 125.9,235.5" fill="none" stroke="#f08a2a" stroke-width="1.05" stroke-linejoin="round" />
<polyline points="30.3,309.1 30.4,308.7 30.5,308.4 30.5,308.0 30.6,307.7 30.7,307.3 30.8,306.9 30.8,306.6 30.9,306.2 31.0,305.9 31.1,305.5 31.2,305.2 31.2,304.8 31.3,304.5 31.4,304.1 31.5,303.8 31.5,303.4 31.6,303.1 31.7,302.7 31.8,302.4 31.9,302.0 31.9,301.7 32.0,301.4 32.1,301.0 32.2,300.7 32.3,300.3 32.3,300.0 32.4,299.7 32.5,299.3 32.6,299.0 32.6,298.7 32.7,298.4 32.8,298.0 32.9,297.7 33.0,297.4 33.0,297.0 33.1,296.7 33.2,296.4 33.3,296.1 33.3,295.8 33.4,295.4 33.5,295.1 33.6,294.8 33.7,294.5 33.7,294.2 33.8,293.9 33.9,293.6 34.0,293.2 34.0,292.9 34.1,292.6 34.3,291.9 34.7,290.4 35.1,288.9 35.5,287.5 35.8,286.1 36.2,284.8 36.6,283.4 37.0,282.1 37.4,280.8 37.8,279.6 38.1,278.4 38.5,277.2 38.9,276.0 39.3,274.9 39.7,273.8 40.1,272.7 40.4,271.6 40.8,270.6 41.2,269.6 41.6,268.6 42.0,267.7 42.4,266.7 42.7,265.8 43.1,264.9 43.5,264.1 43.9,263.3 44.3,262.4 44.7,261.7 45.0,260.9 45.4,260.1 45.8,259.4 46.2,258.7 46.6,258.0 47.0,257.4 47.3,256.7 47.7,256.1 48.1,255.5 48.5,254.9 48.9,254.3 49.3,253.7 49.6,253.2 50.0,252.7 50.4,252.2 50.8,251.7 51.2,251.2 51.6,250.7 51.9,250.2 52.3,249.8 52.7,249.4 53.1,249.0 53.5,248.6 53.9,248.2 54.2,247.8 54.6,247.4 55.0,247.1 55.4,246.7 55.8,246.4 56.2,246.0 56.5,245.7 56.9,245.4 57.3,245.1 57.7,244.8 58.1,244.5 58.5,244.3 58.8,244.0 59.2,243.8 59.6,243.5 60.0,243.3 60.4,243.0 60.8,242.8 61.1,242.6 61.5,242.4 61.9,242.2 62.3,242.0 62.7,241.8 63.1,241.6 63.4,241.4 63.8,241.2 64.2,241.0 64.6,240.9 65.0,240.7 65.4,240.6 65.7,240.4 66.1,240.3 66.5,240.1 66.9,240.0 67.3,239.8 67.7,239.7 68.0,239.6 68.4,239.5 68.8,239.3 69.2,239.2 69.6,239.1 70.0,239.0 70.3,238.9 70.7,238.8 71.1,238.7 71.5,238.6 71.9,238.5 72.3,238.4 72.6,238.3 73.0,238.2 73.4,238.2 73.8,238.1 74.2,238.0 74.6,237.9 74.9,237.9 75.3,237.8 75.7,237.7 76.1,237.6 76.5,237.6 76.9,237.5 77.2,237.5 77.6,237.4 78.0,237.3 78.4,237.3 78.8,237.2 79.1,237.2 79.5,237.1 79.9,237.1 80.3,237.0 80.7,237.0 81.1,236.9 81.4,236.9 81.8,236.9 82.2,236.8 82.6,236.8 83.0,236.7 83.4,236.7 83.7,236.7 84.1,236.6 84.5,236.6 84.9,236.6 85.3,236.5 85.7,236.5 86.0,236.5 86.4,236.4 86.8,236.4 87.2,236.4 87.6,236.4 88.0,236.3 88.3,236.3 88.7,236.3 89.1,236.3 89.5,236.2 89.9,236.2 90.3,236.2 90.6,236.2 91.0,236.2 91.4,236.1 91.8,236.1 92.2,236.1 92.6,236.1 92.9,236.1 93.3,236.1 93.7,236.0 94.1,236.0 94.5,236.0 94.9,236.0 95.2,236.0 95.6,236.0 96.0,235.9 96.4,235.9 96.8,235.9 97.2,235.9 97.5,235.9 97.9,235.9 98.3,235.9 98.7,235.9 99.1,235.9 99.5,235.8 99.8,235.8 100.2,235.8 100.6,235.8 101.0,235.8 101.4,235.8 101.8,235.8 102.1,235.8 102.5,235.8 102.9,235.8 103.3,235.8 103.7,235.8 104.1,235.7 104.4,235.7 104.8,235.7 105.2,235.7 105.6,235.7 106.0,235.7 106.4,235.7 106.7,235.7 107.1,235.7 107.5,235.7 107.9,235.7 108.3,235.7 108.7,235.7 109.0,235.7 109.4,235.7 109.8,235.7 110.2,235.7 110.6,235.7 111.0,235.7 111.3,235.6 111.7,235.6 112.1,235.6 112.5,235.6 112.9,235.6 113.3,235.6 113.6,235.6 114.0,235.6 114.4,235.6 114.8,235.6 115.2,235.6 115.6,235.6 115.9,235.6 116.3,235.6 116.7,235.6 117.1,235.6 117.5,235.6 117.9,235.6 118.2,235.6 118.6,235.6 119.0,235.6 119.4,235.6 119.8,235.6 120.2,235.6 120.5,235.6 120.9,235.6 121.3,235.6 121.7,235.6 122.1,235.6 122.5,235.6 122.8,235.6 123.2,235.6 123.6,235.6 124.0,235.6 124.4,235.6 124.8,235.6 125.1,235.6 125.5,235.6 125.9,235.6" fill="none" stroke="#f08a2a" stroke-width="1.05" stroke-linejoin="round" />
<polyline points="30.3,330.6 30.4,330.2 30.5,329.7 30.5,329.3 30.6,328.9 30.7,328.5 30.8,328.1 30.8,327.7 30.9,327.3 31.0,326.9 31.1,326.4 31.2,326.0 31.2,325.6 31.3,325.2 31.4,324.8 31.5,324.4 31.5,324.0 31.6,323.6 31.7,323.2 31.8,322.8 31.9,322.4 31.9,322.0 32.0,321.6 32.1,321.2 32.2,320.8 32.3,320.4 32.3,320.0 32.4,319.6 32.5,319.3 32.6,318.9 32.6,318.5 32.7,318.1 32.8,317.7 32.9,317.3 33.0,316.9 33.0,316.5 33.1,316.2 33.2,315.8 33.3,315.4 33.3,315.0 33.4,314.6 33.5,314.2 33.6,313.9 33.7,313.5 33.7,313.1 33.8,312.7 33.9,312.4 34.0,312.0 34.0,311.6 34.1,311.3 34.3,310.3 34.7,308.6 35.1,306.8 35.5,305.0 35.8,303.3 36.2,301.6 36.6,300.0 37.0,298.4 37.4,296.8 37.8,295.2 38.1,293.6 38.5,292.1 38.9,290.6 39.3,289.2 39.7,287.8 40.1,286.4 40.4,285.0 40.8,283.6 41.2,282.3 41.6,281.0 42.0,279.8 42.4,278.6 42.7,277.4 43.1,276.2 43.5,275.1 43.9,273.9 44.3,272.9 44.7,271.8 45.0,270.8 45.4,269.8 45.8,268.8 46.2,267.8 46.6,266.9 47.0,266.0 47.3,265.1 47.7,264.2 48.1,263.4 48.5,262.6 48.9,261.8 49.3,261.0 49.6,260.3 50.0,259.5 50.4,258.8 50.8,258.1 51.2,257.5 51.6,256.8 51.9,256.2 52.3,255.6 52.7,255.0 53.1,254.4 53.5,253.8 53.9,253.3 54.2,252.8 54.6,252.2 55.0,251.7 55.4,251.3 55.8,250.8 56.2,250.3 56.5,249.9 56.9,249.4 57.3,249.0 57.7,248.6 58.1,248.2 58.5,247.8 58.8,247.5 59.2,247.1 59.6,246.8 60.0,246.4 60.4,246.1 60.8,245.8 61.1,245.5 61.5,245.2 61.9,244.9 62.3,244.6 62.7,244.3 63.1,244.1 63.4,243.8 63.8,243.5 64.2,243.3 64.6,243.1 65.0,242.8 65.4,242.6 65.7,242.4 66.1,242.2 66.5,242.0 66.9,241.8 67.3,241.6 67.7,241.4 68.0,241.2 68.4,241.1 68.8,240.9 69.2,240.7 69.6,240.6 70.0,240.4 70.3,240.3 70.7,240.1 71.1,240.0 71.5,239.9 71.9,239.7 72.3,239.6 72.6,239.5 73.0,239.4 73.4,239.2 73.8,239.1 74.2,239.0 74.6,238.9 74.9,238.8 75.3,238.7 75.7,238.6 76.1,238.5 76.5,238.4 76.9,238.3 77.2,238.3 77.6,238.2 78.0,238.1 78.4,238.0 78.8,237.9 79.1,237.9 79.5,237.8 79.9,237.7 80.3,237.7 80.7,237.6 81.1,237.5 81.4,237.5 81.8,237.4 82.2,237.4 82.6,237.3 83.0,237.2 83.4,237.2 83.7,237.1 84.1,237.1 84.5,237.0 84.9,237.0 85.3,237.0 85.7,236.9 86.0,236.9 86.4,236.8 86.8,236.8 87.2,236.7 87.6,236.7 88.0,236.7 88.3,236.6 88.7,236.6 89.1,236.6 89.5,236.5 89.9,236.5 90.3,236.5 90.6,236.5 91.0,236.4 91.4,236.4 91.8,236.4 92.2,236.3 92.6,236.3 92.9,236.3 93.3,236.3 93.7,236.2 94.1,236.2 94.5,236.2 94.9,236.2 95.2,236.2 95.6,236.1 96.0,236.1 96.4,236.1 96.8,236.1 97.2,236.1 97.5,236.1 97.9,236.0 98.3,236.0 98.7,236.0 99.1,236.0 99.5,236.0 99.8,236.0 100.2,236.0 100.6,235.9 101.0,235.9 101.4,235.9 101.8,235.9 102.1,235.9 102.5,235.9 102.9,235.9 103.3,235.9 103.7,235.8 104.1,235.8 104.4,235.8 104.8,235.8 105.2,235.8 105.6,235.8 106.0,235.8 106.4,235.8 106.7,235.8 107.1,235.8 107.5,235.8 107.9,235.8 108.3,235.7 108.7,235.7 109.0,235.7 109.4,235.7 109.8,235.7 110.2,235.7 110.6,235.7 111.0,235.7 111.3,235.7 111.7,235.7 112.1,235.7 112.5,235.7 112.9,235.7 113.3,235.7 113.6,235.7 114.0,235.7 114.4,235.7 114.8,235.7 115.2,235.7 115.6,235.6 115.9,235.6 116.3,235.6 116.7,235.6 117.1,235.6 117.5,235.6 117.9,235.6 118.2,235.6 118.6,235.6 119.0,235.6 119.4,235.6 119.8,235.6 120.2,235.6 120.5,235.6 120.9,235.6 121.3,235.6 121.7,235.6 122.1,235.6 122.5,235.6 122.8,235.6 123.2,235.6 123.6,235.6 124.0,235.6 124.4,235.6 124.8,235.6 125.1,235.6 125.5,235.6 125.9,235.6" fill="none" stroke="#f08a2a" stroke-width="1.05" stroke-linejoin="round" />
<polyline points="30.3,349.0 30.4,348.5 30.5,348.1 30.5,347.6 30.6,347.2 30.7,346.7 30.8,346.3 30.8,345.9 30.9,345.4 31.0,345.0 31.1,344.5 31.2,344.1 31.2,343.7 31.3,343.2 31.4,342.8 31.5,342.3 31.5,341.9 31.6,341.5 31.7,341.0 31.8,340.6 31.9,340.2 31.9,339.7 32.0,339.3 32.1,338.9 32.2,338.4 32.3,338.0 32.3,337.6 32.4,337.2 32.5,336.7 32.6,336.3 32.6,335.9 32.7,335.5 32.8,335.0 32.9,334.6 33.0,334.2 33.0,333.8 33.1,333.3 33.2,332.9 33.3,332.5 33.3,332.1 33.4,331.7 33.5,331.2 33.6,330.8 33.7,330.4 33.7,330.0 33.8,329.6 33.9,329.2 34.0,328.8 34.0,328.3 34.1,327.9 34.3,326.9 34.7,324.9 35.1,323.0 35.5,321.0 35.8,319.1 36.2,317.2 36.6,315.3 37.0,313.4 37.4,311.6 37.8,309.8 38.1,308.0 38.5,306.2 38.9,304.5 39.3,302.8 39.7,301.1 40.1,299.5 40.4,297.8 40.8,296.3 41.2,294.7 41.6,293.2 42.0,291.6 42.4,290.2 42.7,288.7 43.1,287.3 43.5,285.9 43.9,284.6 44.3,283.2 44.7,281.9 45.0,280.6 45.4,279.4 45.8,278.2 46.2,277.0 46.6,275.8 47.0,274.7 47.3,273.6 47.7,272.5 48.1,271.5 48.5,270.4 48.9,269.4 49.3,268.5 49.6,267.5 50.0,266.6 50.4,265.7 50.8,264.8 51.2,264.0 51.6,263.1 51.9,262.3 52.3,261.5 52.7,260.8 53.1,260.0 53.5,259.3 53.9,258.6 54.2,257.9 54.6,257.3 55.0,256.6 55.4,256.0 55.8,255.4 56.2,254.8 56.5,254.2 56.9,253.7 57.3,253.1 57.7,252.6 58.1,252.1 58.5,251.6 58.8,251.1 59.2,250.6 59.6,250.2 60.0,249.7 60.4,249.3 60.8,248.9 61.1,248.5 61.5,248.1 61.9,247.7 62.3,247.4 62.7,247.0 63.1,246.7 63.4,246.3 63.8,246.0 64.2,245.7 64.6,245.4 65.0,245.1 65.4,244.8 65.7,244.5 66.1,244.2 66.5,244.0 66.9,243.7 67.3,243.5 67.7,243.2 68.0,243.0 68.4,242.8 68.8,242.5 69.2,242.3 69.6,242.1 70.0,241.9 70.3,241.7 70.7,241.5 71.1,241.4 71.5,241.2 71.9,241.0 72.3,240.8 72.6,240.7 73.0,240.5 73.4,240.4 73.8,240.2 74.2,240.1 74.6,239.9 74.9,239.8 75.3,239.7 75.7,239.6 76.1,239.4 76.5,239.3 76.9,239.2 77.2,239.1 77.6,239.0 78.0,238.9 78.4,238.8 78.8,238.7 79.1,238.6 79.5,238.5 79.9,238.4 80.3,238.3 80.7,238.2 81.1,238.1 81.4,238.1 81.8,238.0 82.2,237.9 82.6,237.8 83.0,237.8 83.4,237.7 83.7,237.6 84.1,237.6 84.5,237.5 84.9,237.4 85.3,237.4 85.7,237.3 86.0,237.3 86.4,237.2 86.8,237.2 87.2,237.1 87.6,237.1 88.0,237.0 88.3,237.0 88.7,236.9 89.1,236.9 89.5,236.9 89.9,236.8 90.3,236.8 90.6,236.7 91.0,236.7 91.4,236.7 91.8,236.6 92.2,236.6 92.6,236.6 92.9,236.5 93.3,236.5 93.7,236.5 94.1,236.4 94.5,236.4 94.9,236.4 95.2,236.4 95.6,236.3 96.0,236.3 96.4,236.3 96.8,236.3 97.2,236.2 97.5,236.2 97.9,236.2 98.3,236.2 98.7,236.2 99.1,236.1 99.5,236.1 99.8,236.1 100.2,236.1 100.6,236.1 101.0,236.0 101.4,236.0 101.8,236.0 102.1,236.0 102.5,236.0 102.9,236.0 103.3,236.0 103.7,235.9 104.1,235.9 104.4,235.9 104.8,235.9 105.2,235.9 105.6,235.9 106.0,235.9 106.4,235.9 106.7,235.9 107.1,235.8 107.5,235.8 107.9,235.8 108.3,235.8 108.7,235.8 109.0,235.8 109.4,235.8 109.8,235.8 110.2,235.8 110.6,235.8 111.0,235.8 111.3,235.8 111.7,235.7 112.1,235.7 112.5,235.7 112.9,235.7 113.3,235.7 113.6,235.7 114.0,235.7 114.4,235.7 114.8,235.7 115.2,235.7 115.6,235.7 115.9,235.7 116.3,235.7 116.7,235.7 117.1,235.7 117.5,235.7 117.9,235.7 118.2,235.7 118.6,235.6 119.0,235.6 119.4,235.6 119.8,235.6 120.2,235.6 120.5,235.6 120.9,235.6 121.3,235.6 121.7,235.6 122.1,235.6 122.5,235.6 122.8,235.6 123.2,235.6 123.6,235.6 124.0,235.6 124.4,235.6 124.8,235.6 125.1,235.6 125.5,235.6 125.9,235.6" fill="none" stroke="#f08a2a" stroke-width="1.05" stroke-linejoin="round" />
<polyline points="30.3,367.4 30.4,366.9 30.5,366.4 30.5,366.0 30.6,365.5 30.7,365.0 30.8,364.6 30.8,364.1 30.9,363.7 31.0,363.2 31.1,362.7 31.2,362.3 31.2,361.8 31.3,361.3 31.4,360.9 31.5,360.4 31.5,360.0 31.6,359.5 31.7,359.1 31.8,358.6 31.9,358.1 31.9,357.7 32.0,357.2 32.1,356.8 32.2,356.3 32.3,355.9 32.3,355.4 32.4,355.0 32.5,354.5 32.6,354.1 32.6,353.6 32.7,353.2 32.8,352.7 32.9,352.2 33.0,351.8 33.0,351.4 33.1,350.9 33.2,350.5 33.3,350.0 33.3,349.6 33.4,349.1 33.5,348.7 33.6,348.2 33.7,347.8 33.7,347.3 33.8,346.9 33.9,346.5 34.0,346.0 34.0,345.6 34.1,345.1 34.3,344.0 34.7,341.9 35.1,339.8 35.5,337.7 35.8,335.6 36.2,333.5 36.6,331.4 37.0,329.4 37.4,327.4 37.8,325.4 38.1,323.4 38.5,321.4 38.9,319.5 39.3,317.6 39.7,315.7 40.1,313.8 40.4,312.0 40.8,310.2 41.2,308.4 41.6,306.6 42.0,304.9 42.4,303.2 42.7,301.5 43.1,299.8 43.5,298.2 43.9,296.6 44.3,295.0 44.7,293.5 45.0,292.0 45.4,290.5 45.8,289.0 46.2,287.6 46.6,286.2 47.0,284.8 47.3,283.5 47.7,282.2 48.1,280.9 48.5,279.7 48.9,278.4 49.3,277.2 49.6,276.1 50.0,274.9 50.4,273.8 50.8,272.7 51.2,271.7 51.6,270.7 51.9,269.6 52.3,268.7 52.7,267.7 53.1,266.8 53.5,265.9 53.9,265.0 54.2,264.1 54.6,263.3 55.0,262.5 55.4,261.7 55.8,260.9 56.2,260.2 56.5,259.5 56.9,258.8 57.3,258.1 57.7,257.4 58.1,256.8 58.5,256.1 58.8,255.5 59.2,254.9 59.6,254.3 60.0,253.8 60.4,253.2 60.8,252.7 61.1,252.2 61.5,251.7 61.9,251.2 62.3,250.7 62.7,250.3 63.1,249.8 63.4,249.4 63.8,249.0 64.2,248.6 64.6,248.2 65.0,247.8 65.4,247.4 65.7,247.1 66.1,246.7 66.5,246.4 66.9,246.1 67.3,245.7 67.7,245.4 68.0,245.1 68.4,244.8 68.8,244.6 69.2,244.3 69.6,244.0 70.0,243.8 70.3,243.5 70.7,243.3 71.1,243.0 71.5,242.8 71.9,242.6 72.3,242.4 72.6,242.2 73.0,242.0 73.4,241.8 73.8,241.6 74.2,241.4 74.6,241.2 74.9,241.0 75.3,240.9 75.7,240.7 76.1,240.6 76.5,240.4 76.9,240.3 77.2,240.1 77.6,240.0 78.0,239.8 78.4,239.7 78.8,239.6 79.1,239.5 79.5,239.3 79.9,239.2 80.3,239.1 80.7,239.0 81.1,238.9 81.4,238.8 81.8,238.7 82.2,238.6 82.6,238.5 83.0,238.4 83.4,238.3 83.7,238.2 84.1,238.2 84.5,238.1 84.9,238.0 85.3,237.9 85.7,237.9 86.0,237.8 86.4,237.7 86.8,237.6 87.2,237.6 87.6,237.5 88.0,237.5 88.3,237.4 88.7,237.3 89.1,237.3 89.5,237.2 89.9,237.2 90.3,237.1 90.6,237.1 91.0,237.0 91.4,237.0 91.8,236.9 92.2,236.9 92.6,236.9 92.9,236.8 93.3,236.8 93.7,236.7 94.1,236.7 94.5,236.7 94.9,236.6 95.2,236.6 95.6,236.6 96.0,236.5 96.4,236.5 96.8,236.5 97.2,236.4 97.5,236.4 97.9,236.4 98.3,236.4 98.7,236.3 99.1,236.3 99.5,236.3 99.8,236.3 100.2,236.2 100.6,236.2 101.0,236.2 101.4,236.2 101.8,236.2 102.1,236.1 102.5,236.1 102.9,236.1 103.3,236.1 103.7,236.1 104.1,236.1 104.4,236.0 104.8,236.0 105.2,236.0 105.6,236.0 106.0,236.0 106.4,236.0 106.7,235.9 107.1,235.9 107.5,235.9 107.9,235.9 108.3,235.9 108.7,235.9 109.0,235.9 109.4,235.9 109.8,235.9 110.2,235.8 110.6,235.8 111.0,235.8 111.3,235.8 111.7,235.8 112.1,235.8 112.5,235.8 112.9,235.8 113.3,235.8 113.6,235.8 114.0,235.8 114.4,235.8 114.8,235.7 115.2,235.7 115.6,235.7 115.9,235.7 116.3,235.7 116.7,235.7 117.1,235.7 117.5,235.7 117.9,235.7 118.2,235.7 118.6,235.7 119.0,235.7 119.4,235.7 119.8,235.7 120.2,235.7 120.5,235.7 120.9,235.7 121.3,235.7 121.7,235.7 122.1,235.6 122.5,235.6 122.8,235.6 123.2,235.6 123.6,235.6 124.0,235.6 124.4,235.6 124.8,235.6 125.1,235.6 125.5,235.6 125.9,235.6" fill="none" stroke="#f08a2a" stroke-width="1.05" stroke-linejoin="round" />
<line x1="30.30" y1="143.00" x2="30.30" y2="429.00" stroke="#8c8c8c" stroke-width="0.9" />
<line x1="30.30" y1="183.50" x2="33.10" y2="183.50" stroke="#444" stroke-width="1.0" />
<line x1="30.30" y1="234.50" x2="33.10" y2="234.50" stroke="#444" stroke-width="1.0" />
<line x1="30.30" y1="337.50" x2="33.10" y2="337.50" stroke="#444" stroke-width="1.0" />
<line x1="30.30" y1="388.50" x2="33.10" y2="388.50" stroke="#444" stroke-width="1.0" />
<line x1="30.30" y1="285.60" x2="125.90" y2="285.60" stroke="#707070" stroke-width="1.2" />
<line x1="125.90" y1="286.20" x2="125.90" y2="283.00" stroke="#707070" stroke-width="0.9" />
<text x="25.80" y="186.70" font-size="9.8" text-anchor="end" font-weight="normal" font-style="normal" fill="#111" >50</text>
<text x="25.80" y="237.80" font-size="9.8" text-anchor="end" font-weight="normal" font-style="normal" fill="#111" >25</text>
<text x="25.80" y="288.90" font-size="9.8" text-anchor="end" font-weight="normal" font-style="normal" fill="#111" >0</text>
<text x="25.80" y="340.00" font-size="9.8" text-anchor="end" font-weight="normal" font-style="normal" fill="#111" >&#8722;25</text>
<text x="25.80" y="391.10" font-size="9.8" text-anchor="end" font-weight="normal" font-style="normal" fill="#111" >&#8722;50</text>
<text x="30.30" y="296.50" font-size="9.8" text-anchor="middle" font-weight="normal" font-style="normal" fill="#111" >0</text>
<text x="125.90" y="296.50" font-size="9.8" text-anchor="middle" font-weight="normal" font-style="normal" fill="#111" >500</text>
<text x="97.60" y="275.60" font-size="9.3" fill="#111" word-spacing="1.1"><tspan font-style="italic">t</tspan> (<tspan font-style="italic">&#956;</tspan>s)</text>
<text x="35.70" y="141.80" font-size="9.3" fill="#111" word-spacing="1.1"><tspan font-style="italic">y</tspan> (<tspan font-style="italic">t</tspan>) (mV)</text>
<polyline points="175.4,203.8 175.5,204.0 175.6,204.1 175.6,204.2 175.7,204.3 175.8,204.5 175.9,204.6 175.9,204.7 176.0,204.8 176.1,205.0 176.2,205.1 176.3,205.2 176.3,205.4 176.4,205.5 176.5,205.6 176.6,205.8 176.6,205.9 176.7,206.0 176.8,206.2 176.9,206.3 177.0,206.4 177.0,206.6 177.1,206.7 177.2,206.8 177.3,207.0 177.4,207.1 177.4,207.3 177.5,207.4 177.6,207.5 177.7,207.7 177.7,207.8 177.8,208.0 177.9,208.1 178.0,208.3 178.1,208.4 178.1,208.5 178.2,208.7 178.3,208.8 178.4,209.0 178.4,209.1 178.5,209.3 178.6,209.4 178.7,209.6 178.8,209.7 178.8,209.8 178.9,210.0 179.0,210.1 179.1,210.3 179.1,210.4 179.2,210.6 179.4,211.0 179.8,211.7 180.2,212.4 180.6,213.2 180.9,213.9 181.3,214.7 181.7,215.4 182.1,216.2 182.5,216.9 182.9,217.7 183.2,218.4 183.6,219.2 184.0,219.9 184.4,220.7 184.8,221.4 185.2,222.2 185.5,222.9 185.9,223.6 186.3,224.4 186.7,225.1 187.1,225.8 187.5,226.5 187.8,227.2 188.2,227.9 188.6,228.6 189.0,229.3 189.4,230.0 189.8,230.6 190.1,231.3 190.5,232.0 190.9,232.6 191.3,233.3 191.7,233.9 192.1,234.5 192.4,235.1 192.8,235.7 193.2,236.3 193.6,236.9 194.0,237.5 194.4,238.1 194.7,238.7 195.1,239.2 195.5,239.8 195.9,240.3 196.3,240.9 196.7,241.4 197.0,241.9 197.4,242.4 197.8,242.9 198.2,243.4 198.6,243.9 199.0,244.4 199.3,244.9 199.7,245.4 200.1,245.8 200.5,246.3 200.9,246.7 201.3,247.1 201.6,247.6 202.0,248.0 202.4,248.4 202.8,248.8 203.2,249.2 203.6,249.6 203.9,250.0 204.3,250.4 204.7,250.7 205.1,251.1 205.5,251.4 205.9,251.8 206.2,252.1 206.6,252.5 207.0,252.8 207.4,253.1 207.8,253.4 208.2,253.8 208.5,254.1 208.9,254.4 209.3,254.7 209.7,254.9 210.1,255.2 210.5,255.5 210.8,255.8 211.2,256.0 211.6,256.3 212.0,256.5 212.4,256.8 212.8,257.0 213.1,257.3 213.5,257.5 213.9,257.7 214.3,258.0 214.7,258.2 215.1,258.4 215.4,258.6 215.8,258.8 216.2,259.0 216.6,259.2 217.0,259.4 217.4,259.6 217.7,259.8 218.1,260.0 218.5,260.2 218.9,260.3 219.3,260.5 219.7,260.7 220.0,260.8 220.4,261.0 220.8,261.1 221.2,261.3 221.6,261.5 222.0,261.6 222.3,261.7 222.7,261.9 223.1,262.0 223.5,262.2 223.9,262.3 224.2,262.4 224.6,262.5 225.0,262.7 225.4,262.8 225.8,262.9 226.2,263.0 226.5,263.1 226.9,263.2 227.3,263.3 227.7,263.4 228.1,263.5 228.5,263.6 228.8,263.7 229.2,263.8 229.6,263.9 230.0,264.0 230.4,264.1 230.8,264.2 231.1,264.3 231.5,264.4 231.9,264.4 232.3,264.5 232.7,264.6 233.1,264.7 233.4,264.7 233.8,264.8 234.2,264.9 234.6,265.0 235.0,265.0 235.4,265.1 235.7,265.2 236.1,265.2 236.5,265.3 236.9,265.3 237.3,265.4 237.7,265.5 238.0,265.5 238.4,265.6 238.8,265.6 239.2,265.7 239.6,265.7 240.0,265.8 240.3,265.8 240.7,265.9 241.1,265.9 241.5,265.9 241.9,266.0 242.3,266.0 242.6,266.1 243.0,266.1 243.4,266.2 243.8,266.2 244.2,266.2 244.6,266.3 244.9,266.3 245.3,266.3 245.7,266.4 246.1,266.4 246.5,266.4 246.9,266.5 247.2,266.5 247.6,266.5 248.0,266.6 248.4,266.6 248.8,266.6 249.2,266.6 249.5,266.7 249.9,266.7 250.3,266.7 250.7,266.8 251.1,266.8 251.5,266.8 251.8,266.8 252.2,266.8 252.6,266.9 253.0,266.9 253.4,266.9 253.8,266.9 254.1,266.9 254.5,267.0 254.9,267.0 255.3,267.0 255.7,267.0 256.1,267.0 256.4,267.1 256.8,267.1 257.2,267.1 257.6,267.1 258.0,267.1 258.4,267.1 258.7,267.2 259.1,267.2 259.5,267.2 259.9,267.2 260.3,267.2 260.7,267.2 261.0,267.2 261.4,267.2 261.8,267.3 262.2,267.3 262.6,267.3 263.0,267.3 263.3,267.3 263.7,267.3 264.1,267.3 264.5,267.3 264.9,267.3 265.3,267.4 265.6,267.4 266.0,267.4 266.4,267.4 266.8,267.4 267.2,267.4 267.6,267.4 267.9,267.4 268.3,267.4 268.7,267.4 269.1,267.4 269.5,267.4 269.9,267.4 270.2,267.5 270.6,267.5 271.0,267.5" fill="none" stroke="#2ee89c" stroke-width="1.05" stroke-linejoin="round" />
<polyline points="175.4,225.1 175.5,225.2 175.6,225.2 175.6,225.3 175.7,225.4 175.8,225.4 175.9,225.5 175.9,225.6 176.0,225.6 176.1,225.7 176.2,225.8 176.3,225.9 176.3,225.9 176.4,226.0 176.5,226.1 176.6,226.2 176.6,226.2 176.7,226.3 176.8,226.4 176.9,226.5 177.0,226.5 177.0,226.6 177.1,226.7 177.2,226.8 177.3,226.9 177.4,226.9 177.4,227.0 177.5,227.1 177.6,227.2 177.7,227.3 177.7,227.3 177.8,227.4 177.9,227.5 178.0,227.6 178.1,227.7 178.1,227.8 178.2,227.8 178.3,227.9 178.4,228.0 178.4,228.1 178.5,228.2 178.6,228.3 178.7,228.4 178.8,228.5 178.8,228.5 178.9,228.6 179.0,228.7 179.1,228.8 179.1,228.9 179.2,229.0 179.4,229.2 179.8,229.7 180.2,230.1 180.6,230.6 180.9,231.1 181.3,231.5 181.7,232.0 182.1,232.5 182.5,233.0 182.9,233.4 183.2,233.9 183.6,234.4 184.0,234.9 184.4,235.4 184.8,235.9 185.2,236.3 185.5,236.8 185.9,237.3 186.3,237.8 186.7,238.3 187.1,238.7 187.5,239.2 187.8,239.7 188.2,240.1 188.6,240.6 189.0,241.1 189.4,241.5 189.8,242.0 190.1,242.4 190.5,242.9 190.9,243.3 191.3,243.7 191.7,244.2 192.1,244.6 192.4,245.0 192.8,245.4 193.2,245.8 193.6,246.2 194.0,246.6 194.4,247.0 194.7,247.4 195.1,247.8 195.5,248.2 195.9,248.5 196.3,248.9 196.7,249.3 197.0,249.6 197.4,250.0 197.8,250.3 198.2,250.7 198.6,251.0 199.0,251.3 199.3,251.7 199.7,252.0 200.1,252.3 200.5,252.6 200.9,252.9 201.3,253.2 201.6,253.5 202.0,253.8 202.4,254.1 202.8,254.4 203.2,254.7 203.6,254.9 203.9,255.2 204.3,255.5 204.7,255.7 205.1,256.0 205.5,256.2 205.9,256.5 206.2,256.7 206.6,256.9 207.0,257.2 207.4,257.4 207.8,257.6 208.2,257.8 208.5,258.1 208.9,258.3 209.3,258.5 209.7,258.7 210.1,258.9 210.5,259.1 210.8,259.2 211.2,259.4 211.6,259.6 212.0,259.8 212.4,260.0 212.8,260.1 213.1,260.3 213.5,260.5 213.9,260.6 214.3,260.8 214.7,261.0 215.1,261.1 215.4,261.3 215.8,261.4 216.2,261.5 216.6,261.7 217.0,261.8 217.4,262.0 217.7,262.1 218.1,262.2 218.5,262.3 218.9,262.5 219.3,262.6 219.7,262.7 220.0,262.8 220.4,262.9 220.8,263.0 221.2,263.1 221.6,263.3 222.0,263.4 222.3,263.5 222.7,263.6 223.1,263.7 223.5,263.7 223.9,263.8 224.2,263.9 224.6,264.0 225.0,264.1 225.4,264.2 225.8,264.3 226.2,264.4 226.5,264.4 226.9,264.5 227.3,264.6 227.7,264.7 228.1,264.7 228.5,264.8 228.8,264.9 229.2,264.9 229.6,265.0 230.0,265.1 230.4,265.1 230.8,265.2 231.1,265.3 231.5,265.3 231.9,265.4 232.3,265.4 232.7,265.5 233.1,265.5 233.4,265.6 233.8,265.6 234.2,265.7 234.6,265.7 235.0,265.8 235.4,265.8 235.7,265.9 236.1,265.9 236.5,266.0 236.9,266.0 237.3,266.1 237.7,266.1 238.0,266.1 238.4,266.2 238.8,266.2 239.2,266.2 239.6,266.3 240.0,266.3 240.3,266.4 240.7,266.4 241.1,266.4 241.5,266.4 241.9,266.5 242.3,266.5 242.6,266.5 243.0,266.6 243.4,266.6 243.8,266.6 244.2,266.7 244.6,266.7 244.9,266.7 245.3,266.7 245.7,266.8 246.1,266.8 246.5,266.8 246.9,266.8 247.2,266.8 247.6,266.9 248.0,266.9 248.4,266.9 248.8,266.9 249.2,266.9 249.5,267.0 249.9,267.0 250.3,267.0 250.7,267.0 251.1,267.0 251.5,267.1 251.8,267.1 252.2,267.1 252.6,267.1 253.0,267.1 253.4,267.1 253.8,267.1 254.1,267.2 254.5,267.2 254.9,267.2 255.3,267.2 255.7,267.2 256.1,267.2 256.4,267.2 256.8,267.3 257.2,267.3 257.6,267.3 258.0,267.3 258.4,267.3 258.7,267.3 259.1,267.3 259.5,267.3 259.9,267.3 260.3,267.3 260.7,267.4 261.0,267.4 261.4,267.4 261.8,267.4 262.2,267.4 262.6,267.4 263.0,267.4 263.3,267.4 263.7,267.4 264.1,267.4 264.5,267.4 264.9,267.4 265.3,267.5 265.6,267.5 266.0,267.5 266.4,267.5 266.8,267.5 267.2,267.5 267.6,267.5 267.9,267.5 268.3,267.5 268.7,267.5 269.1,267.5 269.5,267.5 269.9,267.5 270.2,267.5 270.6,267.5 271.0,267.5" fill="none" stroke="#2ee89c" stroke-width="1.05" stroke-linejoin="round" />
<polyline points="175.4,243.3 175.5,243.3 175.6,243.3 175.6,243.3 175.7,243.4 175.8,243.4 175.9,243.4 175.9,243.4 176.0,243.4 176.1,243.5 176.2,243.5 176.3,243.5 176.3,243.5 176.4,243.6 176.5,243.6 176.6,243.6 176.6,243.6 176.7,243.7 176.8,243.7 176.9,243.7 177.0,243.7 177.0,243.8 177.1,243.8 177.2,243.8 177.3,243.9 177.4,243.9 177.4,243.9 177.5,243.9 177.6,244.0 177.7,244.0 177.7,244.0 177.8,244.1 177.9,244.1 178.0,244.1 178.1,244.2 178.1,244.2 178.2,244.2 178.3,244.3 178.4,244.3 178.4,244.4 178.5,244.4 178.6,244.4 178.7,244.5 178.8,244.5 178.8,244.5 178.9,244.6 179.0,244.6 179.1,244.7 179.1,244.7 179.2,244.7 179.4,244.8 179.8,245.0 180.2,245.3 180.6,245.5 180.9,245.7 181.3,245.9 181.7,246.2 182.1,246.4 182.5,246.7 182.9,246.9 183.2,247.2 183.6,247.4 184.0,247.7 184.4,247.9 184.8,248.2 185.2,248.5 185.5,248.7 185.9,249.0 186.3,249.3 186.7,249.5 187.1,249.8 187.5,250.1 187.8,250.3 188.2,250.6 188.6,250.9 189.0,251.1 189.4,251.4 189.8,251.7 190.1,251.9 190.5,252.2 190.9,252.4 191.3,252.7 191.7,252.9 192.1,253.2 192.4,253.4 192.8,253.7 193.2,253.9 193.6,254.2 194.0,254.4 194.4,254.6 194.7,254.9 195.1,255.1 195.5,255.3 195.9,255.6 196.3,255.8 196.7,256.0 197.0,256.2 197.4,256.4 197.8,256.7 198.2,256.9 198.6,257.1 199.0,257.3 199.3,257.5 199.7,257.7 200.1,257.9 200.5,258.1 200.9,258.3 201.3,258.4 201.6,258.6 202.0,258.8 202.4,259.0 202.8,259.2 203.2,259.3 203.6,259.5 203.9,259.7 204.3,259.8 204.7,260.0 205.1,260.2 205.5,260.3 205.9,260.5 206.2,260.6 206.6,260.8 207.0,260.9 207.4,261.1 207.8,261.2 208.2,261.3 208.5,261.5 208.9,261.6 209.3,261.7 209.7,261.9 210.1,262.0 210.5,262.1 210.8,262.2 211.2,262.3 211.6,262.5 212.0,262.6 212.4,262.7 212.8,262.8 213.1,262.9 213.5,263.0 213.9,263.1 214.3,263.2 214.7,263.3 215.1,263.4 215.4,263.5 215.8,263.6 216.2,263.7 216.6,263.8 217.0,263.9 217.4,264.0 217.7,264.0 218.1,264.1 218.5,264.2 218.9,264.3 219.3,264.4 219.7,264.4 220.0,264.5 220.4,264.6 220.8,264.7 221.2,264.7 221.6,264.8 222.0,264.9 222.3,264.9 222.7,265.0 223.1,265.1 223.5,265.1 223.9,265.2 224.2,265.2 224.6,265.3 225.0,265.3 225.4,265.4 225.8,265.5 226.2,265.5 226.5,265.6 226.9,265.6 227.3,265.7 227.7,265.7 228.1,265.8 228.5,265.8 228.8,265.8 229.2,265.9 229.6,265.9 230.0,266.0 230.4,266.0 230.8,266.1 231.1,266.1 231.5,266.1 231.9,266.2 232.3,266.2 232.7,266.2 233.1,266.3 233.4,266.3 233.8,266.3 234.2,266.4 234.6,266.4 235.0,266.4 235.4,266.5 235.7,266.5 236.1,266.5 236.5,266.6 236.9,266.6 237.3,266.6 237.7,266.6 238.0,266.7 238.4,266.7 238.8,266.7 239.2,266.7 239.6,266.8 240.0,266.8 240.3,266.8 240.7,266.8 241.1,266.9 241.5,266.9 241.9,266.9 242.3,266.9 242.6,266.9 243.0,267.0 243.4,267.0 243.8,267.0 244.2,267.0 244.6,267.0 244.9,267.0 245.3,267.1 245.7,267.1 246.1,267.1 246.5,267.1 246.9,267.1 247.2,267.1 247.6,267.2 248.0,267.2 248.4,267.2 248.8,267.2 249.2,267.2 249.5,267.2 249.9,267.2 250.3,267.2 250.7,267.3 251.1,267.3 251.5,267.3 251.8,267.3 252.2,267.3 252.6,267.3 253.0,267.3 253.4,267.3 253.8,267.3 254.1,267.3 254.5,267.4 254.9,267.4 255.3,267.4 255.7,267.4 256.1,267.4 256.4,267.4 256.8,267.4 257.2,267.4 257.6,267.4 258.0,267.4 258.4,267.4 258.7,267.4 259.1,267.5 259.5,267.5 259.9,267.5 260.3,267.5 260.7,267.5 261.0,267.5 261.4,267.5 261.8,267.5 262.2,267.5 262.6,267.5 263.0,267.5 263.3,267.5 263.7,267.5 264.1,267.5 264.5,267.5 264.9,267.5 265.3,267.5 265.6,267.5 266.0,267.5 266.4,267.6 266.8,267.6 267.2,267.6 267.6,267.6 267.9,267.6 268.3,267.6 268.7,267.6 269.1,267.6 269.5,267.6 269.9,267.6 270.2,267.6 270.6,267.6 271.0,267.6" fill="none" stroke="#2ee89c" stroke-width="1.05" stroke-linejoin="round" />
<polyline points="175.4,264.1 175.5,264.1 175.6,264.1 175.6,264.0 175.7,264.0 175.8,263.9 175.9,263.9 175.9,263.9 176.0,263.8 176.1,263.8 176.2,263.8 176.3,263.7 176.3,263.7 176.4,263.7 176.5,263.6 176.6,263.6 176.6,263.6 176.7,263.5 176.8,263.5 176.9,263.5 177.0,263.4 177.0,263.4 177.1,263.4 177.2,263.4 177.3,263.3 177.4,263.3 177.4,263.3 177.5,263.3 177.6,263.2 177.7,263.2 177.7,263.2 177.8,263.2 177.9,263.1 178.0,263.1 178.1,263.1 178.1,263.1 178.2,263.0 178.3,263.0 178.4,263.0 178.4,263.0 178.5,263.0 178.6,262.9 178.7,262.9 178.8,262.9 178.8,262.9 178.9,262.9 179.0,262.8 179.1,262.8 179.1,262.8 179.2,262.8 179.4,262.8 179.8,262.7 180.2,262.6 180.6,262.6 180.9,262.5 181.3,262.5 181.7,262.4 182.1,262.4 182.5,262.4 182.9,262.4 183.2,262.4 183.6,262.4 184.0,262.4 184.4,262.4 184.8,262.4 185.2,262.4 185.5,262.4 185.9,262.4 186.3,262.4 186.7,262.5 187.1,262.5 187.5,262.5 187.8,262.6 188.2,262.6 188.6,262.6 189.0,262.7 189.4,262.7 189.8,262.8 190.1,262.8 190.5,262.9 190.9,262.9 191.3,263.0 191.7,263.0 192.1,263.1 192.4,263.1 192.8,263.2 193.2,263.2 193.6,263.3 194.0,263.3 194.4,263.4 194.7,263.4 195.1,263.5 195.5,263.6 195.9,263.6 196.3,263.7 196.7,263.7 197.0,263.8 197.4,263.8 197.8,263.9 198.2,264.0 198.6,264.0 199.0,264.1 199.3,264.1 199.7,264.2 200.1,264.3 200.5,264.3 200.9,264.4 201.3,264.4 201.6,264.5 202.0,264.5 202.4,264.6 202.8,264.6 203.2,264.7 203.6,264.7 203.9,264.8 204.3,264.8 204.7,264.9 205.1,265.0 205.5,265.0 205.9,265.1 206.2,265.1 206.6,265.1 207.0,265.2 207.4,265.2 207.8,265.3 208.2,265.3 208.5,265.4 208.9,265.4 209.3,265.5 209.7,265.5 210.1,265.6 210.5,265.6 210.8,265.6 211.2,265.7 211.6,265.7 212.0,265.8 212.4,265.8 212.8,265.8 213.1,265.9 213.5,265.9 213.9,266.0 214.3,266.0 214.7,266.0 215.1,266.1 215.4,266.1 215.8,266.1 216.2,266.2 216.6,266.2 217.0,266.2 217.4,266.3 217.7,266.3 218.1,266.3 218.5,266.3 218.9,266.4 219.3,266.4 219.7,266.4 220.0,266.5 220.4,266.5 220.8,266.5 221.2,266.5 221.6,266.6 222.0,266.6 222.3,266.6 222.7,266.6 223.1,266.7 223.5,266.7 223.9,266.7 224.2,266.7 224.6,266.7 225.0,266.8 225.4,266.8 225.8,266.8 226.2,266.8 226.5,266.9 226.9,266.9 227.3,266.9 227.7,266.9 228.1,266.9 228.5,266.9 228.8,267.0 229.2,267.0 229.6,267.0 230.0,267.0 230.4,267.0 230.8,267.0 231.1,267.1 231.5,267.1 231.9,267.1 232.3,267.1 232.7,267.1 233.1,267.1 233.4,267.1 233.8,267.2 234.2,267.2 234.6,267.2 235.0,267.2 235.4,267.2 235.7,267.2 236.1,267.2 236.5,267.2 236.9,267.3 237.3,267.3 237.7,267.3 238.0,267.3 238.4,267.3 238.8,267.3 239.2,267.3 239.6,267.3 240.0,267.3 240.3,267.3 240.7,267.4 241.1,267.4 241.5,267.4 241.9,267.4 242.3,267.4 242.6,267.4 243.0,267.4 243.4,267.4 243.8,267.4 244.2,267.4 244.6,267.4 244.9,267.4 245.3,267.4 245.7,267.4 246.1,267.5 246.5,267.5 246.9,267.5 247.2,267.5 247.6,267.5 248.0,267.5 248.4,267.5 248.8,267.5 249.2,267.5 249.5,267.5 249.9,267.5 250.3,267.5 250.7,267.5 251.1,267.5 251.5,267.5 251.8,267.5 252.2,267.5 252.6,267.5 253.0,267.5 253.4,267.6 253.8,267.6 254.1,267.6 254.5,267.6 254.9,267.6 255.3,267.6 255.7,267.6 256.1,267.6 256.4,267.6 256.8,267.6 257.2,267.6 257.6,267.6 258.0,267.6 258.4,267.6 258.7,267.6 259.1,267.6 259.5,267.6 259.9,267.6 260.3,267.6 260.7,267.6 261.0,267.6 261.4,267.6 261.8,267.6 262.2,267.6 262.6,267.6 263.0,267.6 263.3,267.6 263.7,267.6 264.1,267.6 264.5,267.6 264.9,267.6 265.3,267.6 265.6,267.6 266.0,267.6 266.4,267.6 266.8,267.6 267.2,267.6 267.6,267.7 267.9,267.7 268.3,267.7 268.7,267.7 269.1,267.7 269.5,267.7 269.9,267.7 270.2,267.7 270.6,267.7 271.0,267.7" fill="none" stroke="#2ee89c" stroke-width="1.05" stroke-linejoin="round" />
<polyline points="175.4,275.4 175.5,275.3 175.6,275.3 175.6,275.3 175.7,275.2 175.8,275.2 175.9,275.1 175.9,275.1 176.0,275.1 176.1,275.0 176.2,275.0 176.3,274.9 176.3,274.9 176.4,274.9 176.5,274.8 176.6,274.8 176.6,274.7 176.7,274.7 176.8,274.7 176.9,274.6 177.0,274.6 177.0,274.6 177.1,274.5 177.2,274.5 177.3,274.4 177.4,274.4 177.4,274.4 177.5,274.3 177.6,274.3 177.7,274.3 177.7,274.2 177.8,274.2 177.9,274.2 178.0,274.1 178.1,274.1 178.1,274.1 178.2,274.0 178.3,274.0 178.4,273.9 178.4,273.9 178.5,273.9 178.6,273.8 178.7,273.8 178.8,273.8 178.8,273.7 178.9,273.7 179.0,273.7 179.1,273.7 179.1,273.6 179.2,273.6 179.4,273.5 179.8,273.4 180.2,273.2 180.6,273.1 180.9,272.9 181.3,272.8 181.7,272.7 182.1,272.5 182.5,272.4 182.9,272.3 183.2,272.1 183.6,272.0 184.0,271.9 184.4,271.8 184.8,271.7 185.2,271.6 185.5,271.5 185.9,271.4 186.3,271.3 186.7,271.2 187.1,271.1 187.5,271.0 187.8,270.9 188.2,270.8 188.6,270.8 189.0,270.7 189.4,270.6 189.8,270.5 190.1,270.5 190.5,270.4 190.9,270.3 191.3,270.2 191.7,270.2 192.1,270.1 192.4,270.1 192.8,270.0 193.2,269.9 193.6,269.9 194.0,269.8 194.4,269.8 194.7,269.7 195.1,269.7 195.5,269.6 195.9,269.6 196.3,269.5 196.7,269.5 197.0,269.4 197.4,269.4 197.8,269.3 198.2,269.3 198.6,269.2 199.0,269.2 199.3,269.2 199.7,269.1 200.1,269.1 200.5,269.0 200.9,269.0 201.3,269.0 201.6,268.9 202.0,268.9 202.4,268.9 202.8,268.9 203.2,268.8 203.6,268.8 203.9,268.8 204.3,268.7 204.7,268.7 205.1,268.7 205.5,268.7 205.9,268.6 206.2,268.6 206.6,268.6 207.0,268.6 207.4,268.5 207.8,268.5 208.2,268.5 208.5,268.5 208.9,268.5 209.3,268.4 209.7,268.4 210.1,268.4 210.5,268.4 210.8,268.4 211.2,268.3 211.6,268.3 212.0,268.3 212.4,268.3 212.8,268.3 213.1,268.3 213.5,268.3 213.9,268.2 214.3,268.2 214.7,268.2 215.1,268.2 215.4,268.2 215.8,268.2 216.2,268.2 216.6,268.1 217.0,268.1 217.4,268.1 217.7,268.1 218.1,268.1 218.5,268.1 218.9,268.1 219.3,268.1 219.7,268.1 220.0,268.1 220.4,268.0 220.8,268.0 221.2,268.0 221.6,268.0 222.0,268.0 222.3,268.0 222.7,268.0 223.1,268.0 223.5,268.0 223.9,268.0 224.2,268.0 224.6,268.0 225.0,268.0 225.4,267.9 225.8,267.9 226.2,267.9 226.5,267.9 226.9,267.9 227.3,267.9 227.7,267.9 228.1,267.9 228.5,267.9 228.8,267.9 229.2,267.9 229.6,267.9 230.0,267.9 230.4,267.9 230.8,267.9 231.1,267.9 231.5,267.9 231.9,267.9 232.3,267.9 232.7,267.9 233.1,267.9 233.4,267.8 233.8,267.8 234.2,267.8 234.6,267.8 235.0,267.8 235.4,267.8 235.7,267.8 236.1,267.8 236.5,267.8 236.9,267.8 237.3,267.8 237.7,267.8 238.0,267.8 238.4,267.8 238.8,267.8 239.2,267.8 239.6,267.8 240.0,267.8 240.3,267.8 240.7,267.8 241.1,267.8 241.5,267.8 241.9,267.8 242.3,267.8 242.6,267.8 243.0,267.8 243.4,267.8 243.8,267.8 244.2,267.8 244.6,267.8 244.9,267.8 245.3,267.8 245.7,267.8 246.1,267.8 246.5,267.8 246.9,267.8 247.2,267.8 247.6,267.8 248.0,267.8 248.4,267.8 248.8,267.8 249.2,267.8 249.5,267.8 249.9,267.8 250.3,267.8 250.7,267.8 251.1,267.8 251.5,267.8 251.8,267.8 252.2,267.8 252.6,267.8 253.0,267.7 253.4,267.7 253.8,267.7 254.1,267.7 254.5,267.7 254.9,267.7 255.3,267.7 255.7,267.7 256.1,267.7 256.4,267.7 256.8,267.7 257.2,267.7 257.6,267.7 258.0,267.7 258.4,267.7 258.7,267.7 259.1,267.7 259.5,267.7 259.9,267.7 260.3,267.7 260.7,267.7 261.0,267.7 261.4,267.7 261.8,267.7 262.2,267.7 262.6,267.7 263.0,267.7 263.3,267.7 263.7,267.7 264.1,267.7 264.5,267.7 264.9,267.7 265.3,267.7 265.6,267.7 266.0,267.7 266.4,267.7 266.8,267.7 267.2,267.7 267.6,267.7 267.9,267.7 268.3,267.7 268.7,267.7 269.1,267.7 269.5,267.7 269.9,267.7 270.2,267.7 270.6,267.7 271.0,267.7" fill="none" stroke="#2ee89c" stroke-width="1.05" stroke-linejoin="round" />
<polyline points="175.4,289.7 175.5,289.6 175.6,289.5 175.6,289.3 175.7,289.2 175.8,289.1 175.9,289.0 175.9,288.9 176.0,288.8 176.1,288.6 176.2,288.5 176.3,288.4 176.3,288.3 176.4,288.2 176.5,288.1 176.6,288.0 176.6,287.9 176.7,287.7 176.8,287.6 176.9,287.5 177.0,287.4 177.0,287.3 177.1,287.2 177.2,287.1 177.3,287.0 177.4,286.9 177.4,286.8 177.5,286.7 177.6,286.6 177.7,286.5 177.7,286.4 177.8,286.3 177.9,286.2 178.0,286.1 178.1,286.0 178.1,285.9 178.2,285.8 178.3,285.7 178.4,285.6 178.4,285.5 178.5,285.4 178.6,285.3 178.7,285.2 178.8,285.1 178.8,285.0 178.9,284.9 179.0,284.8 179.1,284.7 179.1,284.6 179.2,284.5 179.4,284.3 179.8,283.9 180.2,283.5 180.6,283.0 180.9,282.6 181.3,282.2 181.7,281.9 182.1,281.5 182.5,281.1 182.9,280.8 183.2,280.4 183.6,280.1 184.0,279.8 184.4,279.5 184.8,279.1 185.2,278.8 185.5,278.5 185.9,278.3 186.3,278.0 186.7,277.7 187.1,277.4 187.5,277.2 187.8,276.9 188.2,276.7 188.6,276.5 189.0,276.2 189.4,276.0 189.8,275.8 190.1,275.6 190.5,275.4 190.9,275.2 191.3,275.0 191.7,274.8 192.1,274.6 192.4,274.4 192.8,274.2 193.2,274.1 193.6,273.9 194.0,273.7 194.4,273.6 194.7,273.4 195.1,273.3 195.5,273.1 195.9,273.0 196.3,272.8 196.7,272.7 197.0,272.6 197.4,272.4 197.8,272.3 198.2,272.2 198.6,272.1 199.0,272.0 199.3,271.9 199.7,271.7 200.1,271.6 200.5,271.5 200.9,271.4 201.3,271.3 201.6,271.2 202.0,271.1 202.4,271.1 202.8,271.0 203.2,270.9 203.6,270.8 203.9,270.7 204.3,270.6 204.7,270.6 205.1,270.5 205.5,270.4 205.9,270.3 206.2,270.3 206.6,270.2 207.0,270.1 207.4,270.1 207.8,270.0 208.2,270.0 208.5,269.9 208.9,269.8 209.3,269.8 209.7,269.7 210.1,269.7 210.5,269.6 210.8,269.6 211.2,269.5 211.6,269.5 212.0,269.4 212.4,269.4 212.8,269.3 213.1,269.3 213.5,269.3 213.9,269.2 214.3,269.2 214.7,269.1 215.1,269.1 215.4,269.1 215.8,269.0 216.2,269.0 216.6,269.0 217.0,268.9 217.4,268.9 217.7,268.9 218.1,268.8 218.5,268.8 218.9,268.8 219.3,268.7 219.7,268.7 220.0,268.7 220.4,268.7 220.8,268.6 221.2,268.6 221.6,268.6 222.0,268.6 222.3,268.5 222.7,268.5 223.1,268.5 223.5,268.5 223.9,268.5 224.2,268.4 224.6,268.4 225.0,268.4 225.4,268.4 225.8,268.4 226.2,268.4 226.5,268.3 226.9,268.3 227.3,268.3 227.7,268.3 228.1,268.3 228.5,268.3 228.8,268.2 229.2,268.2 229.6,268.2 230.0,268.2 230.4,268.2 230.8,268.2 231.1,268.2 231.5,268.2 231.9,268.1 232.3,268.1 232.7,268.1 233.1,268.1 233.4,268.1 233.8,268.1 234.2,268.1 234.6,268.1 235.0,268.1 235.4,268.1 235.7,268.0 236.1,268.0 236.5,268.0 236.9,268.0 237.3,268.0 237.7,268.0 238.0,268.0 238.4,268.0 238.8,268.0 239.2,268.0 239.6,268.0 240.0,268.0 240.3,268.0 240.7,267.9 241.1,267.9 241.5,267.9 241.9,267.9 242.3,267.9 242.6,267.9 243.0,267.9 243.4,267.9 243.8,267.9 244.2,267.9 244.6,267.9 244.9,267.9 245.3,267.9 245.7,267.9 246.1,267.9 246.5,267.9 246.9,267.9 247.2,267.9 247.6,267.9 248.0,267.9 248.4,267.9 248.8,267.8 249.2,267.8 249.5,267.8 249.9,267.8 250.3,267.8 250.7,267.8 251.1,267.8 251.5,267.8 251.8,267.8 252.2,267.8 252.6,267.8 253.0,267.8 253.4,267.8 253.8,267.8 254.1,267.8 254.5,267.8 254.9,267.8 255.3,267.8 255.7,267.8 256.1,267.8 256.4,267.8 256.8,267.8 257.2,267.8 257.6,267.8 258.0,267.8 258.4,267.8 258.7,267.8 259.1,267.8 259.5,267.8 259.9,267.8 260.3,267.8 260.7,267.8 261.0,267.8 261.4,267.8 261.8,267.8 262.2,267.8 262.6,267.8 263.0,267.8 263.3,267.8 263.7,267.8 264.1,267.8 264.5,267.8 264.9,267.8 265.3,267.8 265.6,267.8 266.0,267.8 266.4,267.8 266.8,267.8 267.2,267.8 267.6,267.8 267.9,267.7 268.3,267.7 268.7,267.7 269.1,267.7 269.5,267.7 269.9,267.7 270.2,267.7 270.6,267.7 271.0,267.7" fill="none" stroke="#2ee89c" stroke-width="1.05" stroke-linejoin="round" />
<polyline points="175.4,310.1 175.5,309.9 175.6,309.7 175.6,309.4 175.7,309.2 175.8,309.0 175.9,308.8 175.9,308.5 176.0,308.3 176.1,308.1 176.2,307.9 176.3,307.7 176.3,307.5 176.4,307.2 176.5,307.0 176.6,306.8 176.6,306.6 176.7,306.4 176.8,306.2 176.9,306.0 177.0,305.8 177.0,305.6 177.1,305.4 177.2,305.1 177.3,304.9 177.4,304.7 177.4,304.5 177.5,304.3 177.6,304.1 177.7,303.9 177.7,303.8 177.8,303.6 177.9,303.4 178.0,303.2 178.1,303.0 178.1,302.8 178.2,302.6 178.3,302.4 178.4,302.2 178.4,302.0 178.5,301.8 178.6,301.7 178.7,301.5 178.8,301.3 178.8,301.1 178.9,300.9 179.0,300.8 179.1,300.6 179.1,300.4 179.2,300.2 179.4,299.8 179.8,298.9 180.2,298.1 180.6,297.3 180.9,296.5 181.3,295.8 181.7,295.0 182.1,294.3 182.5,293.6 182.9,292.9 183.2,292.3 183.6,291.6 184.0,291.0 184.4,290.4 184.8,289.8 185.2,289.2 185.5,288.6 185.9,288.1 186.3,287.6 186.7,287.0 187.1,286.5 187.5,286.0 187.8,285.5 188.2,285.1 188.6,284.6 189.0,284.2 189.4,283.7 189.8,283.3 190.1,282.9 190.5,282.5 190.9,282.1 191.3,281.7 191.7,281.4 192.1,281.0 192.4,280.7 192.8,280.3 193.2,280.0 193.6,279.7 194.0,279.3 194.4,279.0 194.7,278.7 195.1,278.4 195.5,278.2 195.9,277.9 196.3,277.6 196.7,277.4 197.0,277.1 197.4,276.9 197.8,276.6 198.2,276.4 198.6,276.2 199.0,275.9 199.3,275.7 199.7,275.5 200.1,275.3 200.5,275.1 200.9,274.9 201.3,274.7 201.6,274.5 202.0,274.3 202.4,274.2 202.8,274.0 203.2,273.8 203.6,273.7 203.9,273.5 204.3,273.4 204.7,273.2 205.1,273.1 205.5,272.9 205.9,272.8 206.2,272.7 206.6,272.5 207.0,272.4 207.4,272.3 207.8,272.2 208.2,272.0 208.5,271.9 208.9,271.8 209.3,271.7 209.7,271.6 210.1,271.5 210.5,271.4 210.8,271.3 211.2,271.2 211.6,271.1 212.0,271.0 212.4,270.9 212.8,270.9 213.1,270.8 213.5,270.7 213.9,270.6 214.3,270.5 214.7,270.5 215.1,270.4 215.4,270.3 215.8,270.3 216.2,270.2 216.6,270.1 217.0,270.1 217.4,270.0 217.7,269.9 218.1,269.9 218.5,269.8 218.9,269.8 219.3,269.7 219.7,269.7 220.0,269.6 220.4,269.6 220.8,269.5 221.2,269.5 221.6,269.4 222.0,269.4 222.3,269.3 222.7,269.3 223.1,269.2 223.5,269.2 223.9,269.2 224.2,269.1 224.6,269.1 225.0,269.0 225.4,269.0 225.8,269.0 226.2,268.9 226.5,268.9 226.9,268.9 227.3,268.9 227.7,268.8 228.1,268.8 228.5,268.8 228.8,268.7 229.2,268.7 229.6,268.7 230.0,268.7 230.4,268.6 230.8,268.6 231.1,268.6 231.5,268.6 231.9,268.5 232.3,268.5 232.7,268.5 233.1,268.5 233.4,268.5 233.8,268.4 234.2,268.4 234.6,268.4 235.0,268.4 235.4,268.4 235.7,268.3 236.1,268.3 236.5,268.3 236.9,268.3 237.3,268.3 237.7,268.3 238.0,268.3 238.4,268.2 238.8,268.2 239.2,268.2 239.6,268.2 240.0,268.2 240.3,268.2 240.7,268.2 241.1,268.1 241.5,268.1 241.9,268.1 242.3,268.1 242.6,268.1 243.0,268.1 243.4,268.1 243.8,268.1 244.2,268.1 244.6,268.1 244.9,268.0 245.3,268.0 245.7,268.0 246.1,268.0 246.5,268.0 246.9,268.0 247.2,268.0 247.6,268.0 248.0,268.0 248.4,268.0 248.8,268.0 249.2,268.0 249.5,268.0 249.9,268.0 250.3,267.9 250.7,267.9 251.1,267.9 251.5,267.9 251.8,267.9 252.2,267.9 252.6,267.9 253.0,267.9 253.4,267.9 253.8,267.9 254.1,267.9 254.5,267.9 254.9,267.9 255.3,267.9 255.7,267.9 256.1,267.9 256.4,267.9 256.8,267.9 257.2,267.9 257.6,267.9 258.0,267.8 258.4,267.8 258.7,267.8 259.1,267.8 259.5,267.8 259.9,267.8 260.3,267.8 260.7,267.8 261.0,267.8 261.4,267.8 261.8,267.8 262.2,267.8 262.6,267.8 263.0,267.8 263.3,267.8 263.7,267.8 264.1,267.8 264.5,267.8 264.9,267.8 265.3,267.8 265.6,267.8 266.0,267.8 266.4,267.8 266.8,267.8 267.2,267.8 267.6,267.8 267.9,267.8 268.3,267.8 268.7,267.8 269.1,267.8 269.5,267.8 269.9,267.8 270.2,267.8 270.6,267.8 271.0,267.8" fill="none" stroke="#2ee89c" stroke-width="1.05" stroke-linejoin="round" />
<polyline points="175.4,330.6 175.5,330.2 175.6,329.9 175.6,329.6 175.7,329.2 175.8,328.9 175.9,328.6 175.9,328.2 176.0,327.9 176.1,327.6 176.2,327.3 176.3,326.9 176.3,326.6 176.4,326.3 176.5,326.0 176.6,325.7 176.6,325.4 176.7,325.0 176.8,324.7 176.9,324.4 177.0,324.1 177.0,323.8 177.1,323.5 177.2,323.2 177.3,322.9 177.4,322.6 177.4,322.3 177.5,322.0 177.6,321.7 177.7,321.4 177.7,321.1 177.8,320.9 177.9,320.6 178.0,320.3 178.1,320.0 178.1,319.7 178.2,319.4 178.3,319.2 178.4,318.9 178.4,318.6 178.5,318.3 178.6,318.1 178.7,317.8 178.8,317.5 178.8,317.2 178.9,317.0 179.0,316.7 179.1,316.4 179.1,316.2 179.2,315.9 179.4,315.3 179.8,314.0 180.2,312.8 180.6,311.6 180.9,310.5 181.3,309.3 181.7,308.3 182.1,307.2 182.5,306.1 182.9,305.1 183.2,304.2 183.6,303.2 184.0,302.3 184.4,301.4 184.8,300.5 185.2,299.6 185.5,298.8 185.9,297.9 186.3,297.2 186.7,296.4 187.1,295.6 187.5,294.9 187.8,294.2 188.2,293.5 188.6,292.8 189.0,292.1 189.4,291.5 189.8,290.9 190.1,290.3 190.5,289.7 190.9,289.1 191.3,288.5 191.7,288.0 192.1,287.4 192.4,286.9 192.8,286.4 193.2,285.9 193.6,285.4 194.0,285.0 194.4,284.5 194.7,284.1 195.1,283.6 195.5,283.2 195.9,282.8 196.3,282.4 196.7,282.0 197.0,281.7 197.4,281.3 197.8,280.9 198.2,280.6 198.6,280.2 199.0,279.9 199.3,279.6 199.7,279.3 200.1,279.0 200.5,278.7 200.9,278.4 201.3,278.1 201.6,277.8 202.0,277.6 202.4,277.3 202.8,277.1 203.2,276.8 203.6,276.6 203.9,276.3 204.3,276.1 204.7,275.9 205.1,275.7 205.5,275.5 205.9,275.3 206.2,275.1 206.6,274.9 207.0,274.7 207.4,274.5 207.8,274.3 208.2,274.1 208.5,274.0 208.9,273.8 209.3,273.6 209.7,273.5 210.1,273.3 210.5,273.2 210.8,273.0 211.2,272.9 211.6,272.8 212.0,272.6 212.4,272.5 212.8,272.4 213.1,272.3 213.5,272.1 213.9,272.0 214.3,271.9 214.7,271.8 215.1,271.7 215.4,271.6 215.8,271.5 216.2,271.4 216.6,271.3 217.0,271.2 217.4,271.1 217.7,271.0 218.1,270.9 218.5,270.8 218.9,270.8 219.3,270.7 219.7,270.6 220.0,270.5 220.4,270.4 220.8,270.4 221.2,270.3 221.6,270.2 222.0,270.2 222.3,270.1 222.7,270.0 223.1,270.0 223.5,269.9 223.9,269.9 224.2,269.8 224.6,269.8 225.0,269.7 225.4,269.6 225.8,269.6 226.2,269.5 226.5,269.5 226.9,269.4 227.3,269.4 227.7,269.4 228.1,269.3 228.5,269.3 228.8,269.2 229.2,269.2 229.6,269.2 230.0,269.1 230.4,269.1 230.8,269.0 231.1,269.0 231.5,269.0 231.9,268.9 232.3,268.9 232.7,268.9 233.1,268.8 233.4,268.8 233.8,268.8 234.2,268.8 234.6,268.7 235.0,268.7 235.4,268.7 235.7,268.7 236.1,268.6 236.5,268.6 236.9,268.6 237.3,268.6 237.7,268.5 238.0,268.5 238.4,268.5 238.8,268.5 239.2,268.5 239.6,268.4 240.0,268.4 240.3,268.4 240.7,268.4 241.1,268.4 241.5,268.3 241.9,268.3 242.3,268.3 242.6,268.3 243.0,268.3 243.4,268.3 243.8,268.3 244.2,268.2 244.6,268.2 244.9,268.2 245.3,268.2 245.7,268.2 246.1,268.2 246.5,268.2 246.9,268.1 247.2,268.1 247.6,268.1 248.0,268.1 248.4,268.1 248.8,268.1 249.2,268.1 249.5,268.1 249.9,268.1 250.3,268.1 250.7,268.0 251.1,268.0 251.5,268.0 251.8,268.0 252.2,268.0 252.6,268.0 253.0,268.0 253.4,268.0 253.8,268.0 254.1,268.0 254.5,268.0 254.9,268.0 255.3,268.0 255.7,267.9 256.1,267.9 256.4,267.9 256.8,267.9 257.2,267.9 257.6,267.9 258.0,267.9 258.4,267.9 258.7,267.9 259.1,267.9 259.5,267.9 259.9,267.9 260.3,267.9 260.7,267.9 261.0,267.9 261.4,267.9 261.8,267.9 262.2,267.9 262.6,267.9 263.0,267.9 263.3,267.9 263.7,267.8 264.1,267.8 264.5,267.8 264.9,267.8 265.3,267.8 265.6,267.8 266.0,267.8 266.4,267.8 266.8,267.8 267.2,267.8 267.6,267.8 267.9,267.8 268.3,267.8 268.7,267.8 269.1,267.8 269.5,267.8 269.9,267.8 270.2,267.8 270.6,267.8 271.0,267.8" fill="none" stroke="#2ee89c" stroke-width="1.05" stroke-linejoin="round" />
<polyline points="175.4,349.0 175.5,348.5 175.6,348.1 175.6,347.7 175.7,347.2 175.8,346.8 175.9,346.4 175.9,346.0 176.0,345.5 176.1,345.1 176.2,344.7 176.3,344.3 176.3,343.9 176.4,343.5 176.5,343.1 176.6,342.7 176.6,342.2 176.7,341.8 176.8,341.4 176.9,341.1 177.0,340.7 177.0,340.3 177.1,339.9 177.2,339.5 177.3,339.1 177.4,338.7 177.4,338.3 177.5,338.0 177.6,337.6 177.7,337.2 177.7,336.8 177.8,336.5 177.9,336.1 178.0,335.7 178.1,335.3 178.1,335.0 178.2,334.6 178.3,334.3 178.4,333.9 178.4,333.5 178.5,333.2 178.6,332.8 178.7,332.5 178.8,332.1 178.8,331.8 178.9,331.4 179.0,331.1 179.1,330.8 179.1,330.4 179.2,330.1 179.4,329.3 179.8,327.6 180.2,326.1 180.6,324.5 180.9,323.1 181.3,321.6 181.7,320.2 182.1,318.8 182.5,317.5 182.9,316.2 183.2,314.9 183.6,313.6 184.0,312.4 184.4,311.3 184.8,310.1 185.2,309.0 185.5,307.9 185.9,306.9 186.3,305.8 186.7,304.8 187.1,303.8 187.5,302.9 187.8,302.0 188.2,301.1 188.6,300.2 189.0,299.3 189.4,298.5 189.8,297.7 190.1,296.9 190.5,296.1 190.9,295.4 191.3,294.7 191.7,293.9 192.1,293.3 192.4,292.6 192.8,291.9 193.2,291.3 193.6,290.7 194.0,290.1 194.4,289.5 194.7,288.9 195.1,288.3 195.5,287.8 195.9,287.3 196.3,286.8 196.7,286.3 197.0,285.8 197.4,285.3 197.8,284.8 198.2,284.4 198.6,283.9 199.0,283.5 199.3,283.1 199.7,282.7 200.1,282.3 200.5,281.9 200.9,281.5 201.3,281.2 201.6,280.8 202.0,280.5 202.4,280.1 202.8,279.8 203.2,279.5 203.6,279.2 203.9,278.9 204.3,278.6 204.7,278.3 205.1,278.0 205.5,277.7 205.9,277.5 206.2,277.2 206.6,277.0 207.0,276.7 207.4,276.5 207.8,276.3 208.2,276.0 208.5,275.8 208.9,275.6 209.3,275.4 209.7,275.2 210.1,275.0 210.5,274.8 210.8,274.6 211.2,274.4 211.6,274.3 212.0,274.1 212.4,273.9 212.8,273.8 213.1,273.6 213.5,273.4 213.9,273.3 214.3,273.1 214.7,273.0 215.1,272.9 215.4,272.7 215.8,272.6 216.2,272.5 216.6,272.3 217.0,272.2 217.4,272.1 217.7,272.0 218.1,271.9 218.5,271.8 218.9,271.7 219.3,271.5 219.7,271.4 220.0,271.3 220.4,271.3 220.8,271.2 221.2,271.1 221.6,271.0 222.0,270.9 222.3,270.8 222.7,270.7 223.1,270.6 223.5,270.6 223.9,270.5 224.2,270.4 224.6,270.4 225.0,270.3 225.4,270.2 225.8,270.1 226.2,270.1 226.5,270.0 226.9,270.0 227.3,269.9 227.7,269.8 228.1,269.8 228.5,269.7 228.8,269.7 229.2,269.6 229.6,269.6 230.0,269.5 230.4,269.5 230.8,269.4 231.1,269.4 231.5,269.3 231.9,269.3 232.3,269.3 232.7,269.2 233.1,269.2 233.4,269.1 233.8,269.1 234.2,269.1 234.6,269.0 235.0,269.0 235.4,269.0 235.7,268.9 236.1,268.9 236.5,268.9 236.9,268.8 237.3,268.8 237.7,268.8 238.0,268.7 238.4,268.7 238.8,268.7 239.2,268.7 239.6,268.6 240.0,268.6 240.3,268.6 240.7,268.6 241.1,268.6 241.5,268.5 241.9,268.5 242.3,268.5 242.6,268.5 243.0,268.4 243.4,268.4 243.8,268.4 244.2,268.4 244.6,268.4 244.9,268.4 245.3,268.3 245.7,268.3 246.1,268.3 246.5,268.3 246.9,268.3 247.2,268.3 247.6,268.2 248.0,268.2 248.4,268.2 248.8,268.2 249.2,268.2 249.5,268.2 249.9,268.2 250.3,268.2 250.7,268.1 251.1,268.1 251.5,268.1 251.8,268.1 252.2,268.1 252.6,268.1 253.0,268.1 253.4,268.1 253.8,268.1 254.1,268.1 254.5,268.0 254.9,268.0 255.3,268.0 255.7,268.0 256.1,268.0 256.4,268.0 256.8,268.0 257.2,268.0 257.6,268.0 258.0,268.0 258.4,268.0 258.7,268.0 259.1,268.0 259.5,267.9 259.9,267.9 260.3,267.9 260.7,267.9 261.0,267.9 261.4,267.9 261.8,267.9 262.2,267.9 262.6,267.9 263.0,267.9 263.3,267.9 263.7,267.9 264.1,267.9 264.5,267.9 264.9,267.9 265.3,267.9 265.6,267.9 266.0,267.9 266.4,267.9 266.8,267.9 267.2,267.9 267.6,267.8 267.9,267.8 268.3,267.8 268.7,267.8 269.1,267.8 269.5,267.8 269.9,267.8 270.2,267.8 270.6,267.8 271.0,267.8" fill="none" stroke="#2ee89c" stroke-width="1.05" stroke-linejoin="round" />
<polyline points="175.4,368.4 175.5,367.8 175.6,367.3 175.6,366.8 175.7,366.2 175.8,365.7 175.9,365.2 175.9,364.7 176.0,364.2 176.1,363.6 176.2,363.1 176.3,362.6 176.3,362.1 176.4,361.6 176.5,361.1 176.6,360.6 176.6,360.1 176.7,359.6 176.8,359.1 176.9,358.6 177.0,358.1 177.0,357.7 177.1,357.2 177.2,356.7 177.3,356.2 177.4,355.7 177.4,355.3 177.5,354.8 177.6,354.3 177.7,353.9 177.7,353.4 177.8,352.9 177.9,352.5 178.0,352.0 178.1,351.6 178.1,351.1 178.2,350.7 178.3,350.2 178.4,349.8 178.4,349.4 178.5,348.9 178.6,348.5 178.7,348.0 178.8,347.6 178.8,347.2 178.9,346.8 179.0,346.3 179.1,345.9 179.1,345.5 179.2,345.1 179.4,344.1 179.8,342.1 180.2,340.1 180.6,338.2 180.9,336.4 181.3,334.6 181.7,332.8 182.1,331.1 182.5,329.5 182.9,327.8 183.2,326.3 183.6,324.7 184.0,323.2 184.4,321.8 184.8,320.4 185.2,319.0 185.5,317.6 185.9,316.3 186.3,315.0 186.7,313.8 187.1,312.6 187.5,311.4 187.8,310.3 188.2,309.1 188.6,308.0 189.0,307.0 189.4,306.0 189.8,304.9 190.1,304.0 190.5,303.0 190.9,302.1 191.3,301.2 191.7,300.3 192.1,299.4 192.4,298.6 192.8,297.8 193.2,297.0 193.6,296.2 194.0,295.5 194.4,294.7 194.7,294.0 195.1,293.3 195.5,292.7 195.9,292.0 196.3,291.4 196.7,290.7 197.0,290.1 197.4,289.5 197.8,289.0 198.2,288.4 198.6,287.9 199.0,287.3 199.3,286.8 199.7,286.3 200.1,285.8 200.5,285.3 200.9,284.9 201.3,284.4 201.6,284.0 202.0,283.6 202.4,283.1 202.8,282.7 203.2,282.3 203.6,282.0 203.9,281.6 204.3,281.2 204.7,280.9 205.1,280.5 205.5,280.2 205.9,279.8 206.2,279.5 206.6,279.2 207.0,278.9 207.4,278.6 207.8,278.3 208.2,278.0 208.5,277.8 208.9,277.5 209.3,277.3 209.7,277.0 210.1,276.8 210.5,276.5 210.8,276.3 211.2,276.1 211.6,275.8 212.0,275.6 212.4,275.4 212.8,275.2 213.1,275.0 213.5,274.8 213.9,274.6 214.3,274.5 214.7,274.3 215.1,274.1 215.4,273.9 215.8,273.8 216.2,273.6 216.6,273.5 217.0,273.3 217.4,273.2 217.7,273.0 218.1,272.9 218.5,272.7 218.9,272.6 219.3,272.5 219.7,272.4 220.0,272.2 220.4,272.1 220.8,272.0 221.2,271.9 221.6,271.8 222.0,271.7 222.3,271.6 222.7,271.5 223.1,271.4 223.5,271.3 223.9,271.2 224.2,271.1 224.6,271.0 225.0,270.9 225.4,270.8 225.8,270.7 226.2,270.7 226.5,270.6 226.9,270.5 227.3,270.4 227.7,270.4 228.1,270.3 228.5,270.2 228.8,270.2 229.2,270.1 229.6,270.0 230.0,270.0 230.4,269.9 230.8,269.9 231.1,269.8 231.5,269.7 231.9,269.7 232.3,269.6 232.7,269.6 233.1,269.5 233.4,269.5 233.8,269.4 234.2,269.4 234.6,269.4 235.0,269.3 235.4,269.3 235.7,269.2 236.1,269.2 236.5,269.1 236.9,269.1 237.3,269.1 237.7,269.0 238.0,269.0 238.4,269.0 238.8,268.9 239.2,268.9 239.6,268.9 240.0,268.8 240.3,268.8 240.7,268.8 241.1,268.8 241.5,268.7 241.9,268.7 242.3,268.7 242.6,268.6 243.0,268.6 243.4,268.6 243.8,268.6 244.2,268.6 244.6,268.5 244.9,268.5 245.3,268.5 245.7,268.5 246.1,268.4 246.5,268.4 246.9,268.4 247.2,268.4 247.6,268.4 248.0,268.4 248.4,268.3 248.8,268.3 249.2,268.3 249.5,268.3 249.9,268.3 250.3,268.3 250.7,268.2 251.1,268.2 251.5,268.2 251.8,268.2 252.2,268.2 252.6,268.2 253.0,268.2 253.4,268.2 253.8,268.1 254.1,268.1 254.5,268.1 254.9,268.1 255.3,268.1 255.7,268.1 256.1,268.1 256.4,268.1 256.8,268.1 257.2,268.1 257.6,268.0 258.0,268.0 258.4,268.0 258.7,268.0 259.1,268.0 259.5,268.0 259.9,268.0 260.3,268.0 260.7,268.0 261.0,268.0 261.4,268.0 261.8,268.0 262.2,268.0 262.6,267.9 263.0,267.9 263.3,267.9 263.7,267.9 264.1,267.9 264.5,267.9 264.9,267.9 265.3,267.9 265.6,267.9 266.0,267.9 266.4,267.9 266.8,267.9 267.2,267.9 267.6,267.9 267.9,267.9 268.3,267.9 268.7,267.9 269.1,267.9 269.5,267.9 269.9,267.9 270.2,267.9 270.6,267.8 271.0,267.8" fill="none" stroke="#2ee89c" stroke-width="1.05" stroke-linejoin="round" />
<line x1="175.40" y1="143.00" x2="175.40" y2="429.00" stroke="#8c8c8c" stroke-width="0.9" />
<line x1="175.40" y1="183.50" x2="178.20" y2="183.50" stroke="#444" stroke-width="1.0" />
<line x1="175.40" y1="234.50" x2="178.20" y2="234.50" stroke="#444" stroke-width="1.0" />
<line x1="175.40" y1="337.50" x2="178.20" y2="337.50" stroke="#444" stroke-width="1.0" />
<line x1="175.40" y1="388.50" x2="178.20" y2="388.50" stroke="#444" stroke-width="1.0" />
<line x1="175.40" y1="285.60" x2="271.00" y2="285.60" stroke="#707070" stroke-width="1.2" />
<line x1="271.00" y1="286.20" x2="271.00" y2="283.00" stroke="#707070" stroke-width="0.9" />
<text x="170.90" y="186.70" font-size="9.8" text-anchor="end" font-weight="normal" font-style="normal" fill="#111" >50</text>
<text x="170.90" y="237.80" font-size="9.8" text-anchor="end" font-weight="normal" font-style="normal" fill="#111" >25</text>
<text x="170.90" y="288.90" font-size="9.8" text-anchor="end" font-weight="normal" font-style="normal" fill="#111" >0</text>
<text x="170.90" y="340.00" font-size="9.8" text-anchor="end" font-weight="normal" font-style="normal" fill="#111" >&#8722;25</text>
<text x="170.90" y="391.10" font-size="9.8" text-anchor="end" font-weight="normal" font-style="normal" fill="#111" >&#8722;50</text>
<text x="175.40" y="296.50" font-size="9.8" text-anchor="middle" font-weight="normal" font-style="normal" fill="#111" >0</text>
<text x="271.00" y="296.50" font-size="9.8" text-anchor="middle" font-weight="normal" font-style="normal" fill="#111" >500</text>
<text x="251.20" y="275.60" font-size="9.3" fill="#111" word-spacing="1.1"><tspan font-style="italic">t</tspan> (<tspan font-style="italic">&#956;</tspan>s)</text>
<text x="180.80" y="141.80" font-size="9.3" fill="#111" word-spacing="1.1"><tspan font-style="italic">y</tspan> (<tspan font-style="italic">t</tspan>) (mV)</text>
<polyline points="319.3,200.8 319.4,201.1 319.5,201.4 319.5,201.7 319.6,202.0 319.7,202.3 319.8,202.6 319.8,202.9 319.9,203.2 320.0,203.5 320.1,203.7 320.2,204.0 320.2,204.3 320.3,204.6 320.4,204.9 320.5,205.2 320.5,205.5 320.6,205.8 320.7,206.0 320.8,206.3 320.9,206.6 320.9,206.9 321.0,207.2 321.1,207.5 321.2,207.7 321.3,208.0 321.3,208.3 321.4,208.6 321.5,208.8 321.6,209.1 321.6,209.4 321.7,209.7 321.8,209.9 321.9,210.2 322.0,210.5 322.0,210.7 322.1,211.0 322.2,211.3 322.3,211.5 322.3,211.8 322.4,212.1 322.5,212.3 322.6,212.6 322.7,212.8 322.7,213.1 322.8,213.4 322.9,213.6 323.0,213.9 323.0,214.1 323.1,214.4 323.3,215.0 323.7,216.2 324.1,217.4 324.5,218.6 324.8,219.8 325.2,220.9 325.6,222.1 326.0,223.2 326.4,224.3 326.8,225.3 327.1,226.4 327.5,227.4 327.9,228.4 328.3,229.4 328.7,230.4 329.1,231.4 329.4,232.3 329.8,233.2 330.2,234.1 330.6,235.0 331.0,235.9 331.4,236.8 331.7,237.6 332.1,238.5 332.5,239.3 332.9,240.1 333.3,240.9 333.7,241.7 334.0,242.5 334.4,243.2 334.8,243.9 335.2,244.7 335.6,245.4 336.0,246.1 336.3,246.8 336.7,247.5 337.1,248.1 337.5,248.8 337.9,249.4 338.3,250.1 338.6,250.7 339.0,251.3 339.4,251.9 339.8,252.5 340.2,253.0 340.6,253.6 340.9,254.2 341.3,254.7 341.7,255.3 342.1,255.8 342.5,256.3 342.9,256.8 343.2,257.3 343.6,257.8 344.0,258.3 344.4,258.8 344.8,259.2 345.2,259.7 345.5,260.2 345.9,260.6 346.3,261.0 346.7,261.5 347.1,261.9 347.5,262.3 347.8,262.7 348.2,263.1 348.6,263.5 349.0,263.9 349.4,264.3 349.8,264.6 350.1,265.0 350.5,265.4 350.9,265.7 351.3,266.1 351.7,266.4 352.1,266.7 352.4,267.1 352.8,267.4 353.2,267.7 353.6,268.0 354.0,268.3 354.4,268.6 354.7,268.9 355.1,269.2 355.5,269.5 355.9,269.8 356.3,270.0 356.7,270.3 357.0,270.6 357.4,270.8 357.8,271.1 358.2,271.3 358.6,271.6 359.0,271.8 359.3,272.1 359.7,272.3 360.1,272.5 360.5,272.8 360.9,273.0 361.3,273.2 361.6,273.4 362.0,273.6 362.4,273.8 362.8,274.0 363.2,274.2 363.6,274.4 363.9,274.6 364.3,274.8 364.7,275.0 365.1,275.2 365.5,275.3 365.9,275.5 366.2,275.7 366.6,275.9 367.0,276.0 367.4,276.2 367.8,276.4 368.1,276.5 368.5,276.7 368.9,276.8 369.3,277.0 369.7,277.1 370.1,277.3 370.4,277.4 370.8,277.5 371.2,277.7 371.6,277.8 372.0,277.9 372.4,278.1 372.7,278.2 373.1,278.3 373.5,278.4 373.9,278.6 374.3,278.7 374.7,278.8 375.0,278.9 375.4,279.0 375.8,279.1 376.2,279.2 376.6,279.3 377.0,279.4 377.3,279.5 377.7,279.6 378.1,279.7 378.5,279.8 378.9,279.9 379.3,280.0 379.6,280.1 380.0,280.2 380.4,280.3 380.8,280.4 381.2,280.5 381.6,280.6 381.9,280.6 382.3,280.7 382.7,280.8 383.1,280.9 383.5,281.0 383.9,281.0 384.2,281.1 384.6,281.2 385.0,281.2 385.4,281.3 385.8,281.4 386.2,281.5 386.5,281.5 386.9,281.6 387.3,281.6 387.7,281.7 388.1,281.8 388.5,281.8 388.8,281.9 389.2,281.9 389.6,282.0 390.0,282.1 390.4,282.1 390.8,282.2 391.1,282.2 391.5,282.3 391.9,282.3 392.3,282.4 392.7,282.4 393.1,282.5 393.4,282.5 393.8,282.6 394.2,282.6 394.6,282.7 395.0,282.7 395.4,282.7 395.7,282.8 396.1,282.8 396.5,282.9 396.9,282.9 397.3,283.0 397.7,283.0 398.0,283.0 398.4,283.1 398.8,283.1 399.2,283.1 399.6,283.2 400.0,283.2 400.3,283.2 400.7,283.3 401.1,283.3 401.5,283.3 401.9,283.4 402.3,283.4 402.6,283.4 403.0,283.5 403.4,283.5 403.8,283.5 404.2,283.6 404.6,283.6 404.9,283.6 405.3,283.6 405.7,283.7 406.1,283.7 406.5,283.7 406.9,283.7 407.2,283.8 407.6,283.8 408.0,283.8 408.4,283.8 408.8,283.9 409.2,283.9 409.5,283.9 409.9,283.9 410.3,283.9 410.7,284.0 411.1,284.0 411.5,284.0 411.8,284.0 412.2,284.1 412.6,284.1 413.0,284.1 413.4,284.1 413.8,284.1 414.1,284.1 414.5,284.2 414.9,284.2" fill="none" stroke="#1d1d8a" stroke-width="1.05" stroke-linejoin="round" />
<polyline points="319.3,220.8 319.4,221.0 319.5,221.2 319.5,221.5 319.6,221.7 319.7,221.9 319.8,222.1 319.8,222.3 319.9,222.5 320.0,222.8 320.1,223.0 320.2,223.2 320.2,223.4 320.3,223.6 320.4,223.8 320.5,224.0 320.5,224.2 320.6,224.5 320.7,224.7 320.8,224.9 320.9,225.1 320.9,225.3 321.0,225.5 321.1,225.7 321.2,225.9 321.3,226.1 321.3,226.3 321.4,226.5 321.5,226.7 321.6,226.9 321.6,227.1 321.7,227.3 321.8,227.5 321.9,227.7 322.0,227.9 322.0,228.1 322.1,228.3 322.2,228.5 322.3,228.7 322.3,228.9 322.4,229.1 322.5,229.3 322.6,229.5 322.7,229.6 322.7,229.8 322.8,230.0 322.9,230.2 323.0,230.4 323.0,230.6 323.1,230.8 323.3,231.2 323.7,232.1 324.1,233.0 324.5,233.9 324.8,234.8 325.2,235.6 325.6,236.5 326.0,237.3 326.4,238.1 326.8,238.9 327.1,239.7 327.5,240.4 327.9,241.2 328.3,241.9 328.7,242.7 329.1,243.4 329.4,244.1 329.8,244.8 330.2,245.5 330.6,246.1 331.0,246.8 331.4,247.5 331.7,248.1 332.1,248.7 332.5,249.3 332.9,249.9 333.3,250.5 333.7,251.1 334.0,251.7 334.4,252.3 334.8,252.8 335.2,253.4 335.6,253.9 336.0,254.5 336.3,255.0 336.7,255.5 337.1,256.0 337.5,256.5 337.9,257.0 338.3,257.5 338.6,258.0 339.0,258.4 339.4,258.9 339.8,259.3 340.2,259.8 340.6,260.2 340.9,260.6 341.3,261.1 341.7,261.5 342.1,261.9 342.5,262.3 342.9,262.7 343.2,263.1 343.6,263.4 344.0,263.8 344.4,264.2 344.8,264.5 345.2,264.9 345.5,265.2 345.9,265.6 346.3,265.9 346.7,266.2 347.1,266.6 347.5,266.9 347.8,267.2 348.2,267.5 348.6,267.8 349.0,268.1 349.4,268.4 349.8,268.7 350.1,269.0 350.5,269.3 350.9,269.5 351.3,269.8 351.7,270.1 352.1,270.3 352.4,270.6 352.8,270.9 353.2,271.1 353.6,271.3 354.0,271.6 354.4,271.8 354.7,272.0 355.1,272.3 355.5,272.5 355.9,272.7 356.3,272.9 356.7,273.1 357.0,273.4 357.4,273.6 357.8,273.8 358.2,274.0 358.6,274.2 359.0,274.3 359.3,274.5 359.7,274.7 360.1,274.9 360.5,275.1 360.9,275.3 361.3,275.4 361.6,275.6 362.0,275.8 362.4,275.9 362.8,276.1 363.2,276.2 363.6,276.4 363.9,276.6 364.3,276.7 364.7,276.8 365.1,277.0 365.5,277.1 365.9,277.3 366.2,277.4 366.6,277.5 367.0,277.7 367.4,277.8 367.8,277.9 368.1,278.1 368.5,278.2 368.9,278.3 369.3,278.4 369.7,278.5 370.1,278.7 370.4,278.8 370.8,278.9 371.2,279.0 371.6,279.1 372.0,279.2 372.4,279.3 372.7,279.4 373.1,279.5 373.5,279.6 373.9,279.7 374.3,279.8 374.7,279.9 375.0,280.0 375.4,280.1 375.8,280.2 376.2,280.3 376.6,280.3 377.0,280.4 377.3,280.5 377.7,280.6 378.1,280.7 378.5,280.8 378.9,280.8 379.3,280.9 379.6,281.0 380.0,281.1 380.4,281.1 380.8,281.2 381.2,281.3 381.6,281.3 381.9,281.4 382.3,281.5 382.7,281.5 383.1,281.6 383.5,281.7 383.9,281.7 384.2,281.8 384.6,281.8 385.0,281.9 385.4,281.9 385.8,282.0 386.2,282.1 386.5,282.1 386.9,282.2 387.3,282.2 387.7,282.3 388.1,282.3 388.5,282.4 388.8,282.4 389.2,282.5 389.6,282.5 390.0,282.6 390.4,282.6 390.8,282.6 391.1,282.7 391.5,282.7 391.9,282.8 392.3,282.8 392.7,282.9 393.1,282.9 393.4,282.9 393.8,283.0 394.2,283.0 394.6,283.1 395.0,283.1 395.4,283.1 395.7,283.2 396.1,283.2 396.5,283.2 396.9,283.3 397.3,283.3 397.7,283.3 398.0,283.4 398.4,283.4 398.8,283.4 399.2,283.4 399.6,283.5 400.0,283.5 400.3,283.5 400.7,283.6 401.1,283.6 401.5,283.6 401.9,283.6 402.3,283.7 402.6,283.7 403.0,283.7 403.4,283.7 403.8,283.8 404.2,283.8 404.6,283.8 404.9,283.8 405.3,283.9 405.7,283.9 406.1,283.9 406.5,283.9 406.9,283.9 407.2,284.0 407.6,284.0 408.0,284.0 408.4,284.0 408.8,284.0 409.2,284.1 409.5,284.1 409.9,284.1 410.3,284.1 410.7,284.1 411.1,284.2 411.5,284.2 411.8,284.2 412.2,284.2 412.6,284.2 413.0,284.2 413.4,284.3 413.8,284.3 414.1,284.3 414.5,284.3 414.9,284.3" fill="none" stroke="#1d1d8a" stroke-width="1.05" stroke-linejoin="round" />
<polyline points="319.3,240.8 319.4,241.0 319.5,241.1 319.5,241.3 319.6,241.4 319.7,241.5 319.8,241.7 319.8,241.8 319.9,241.9 320.0,242.1 320.1,242.2 320.2,242.3 320.2,242.5 320.3,242.6 320.4,242.7 320.5,242.9 320.5,243.0 320.6,243.1 320.7,243.3 320.8,243.4 320.9,243.5 320.9,243.7 321.0,243.8 321.1,243.9 321.2,244.1 321.3,244.2 321.3,244.3 321.4,244.4 321.5,244.6 321.6,244.7 321.6,244.8 321.7,245.0 321.8,245.1 321.9,245.2 322.0,245.3 322.0,245.5 322.1,245.6 322.2,245.7 322.3,245.8 322.3,246.0 322.4,246.1 322.5,246.2 322.6,246.3 322.7,246.5 322.7,246.6 322.8,246.7 322.9,246.8 323.0,246.9 323.0,247.1 323.1,247.2 323.3,247.5 323.7,248.1 324.1,248.6 324.5,249.2 324.8,249.8 325.2,250.3 325.6,250.9 326.0,251.4 326.4,251.9 326.8,252.4 327.1,253.0 327.5,253.5 327.9,254.0 328.3,254.4 328.7,254.9 329.1,255.4 329.4,255.9 329.8,256.3 330.2,256.8 330.6,257.2 331.0,257.7 331.4,258.1 331.7,258.5 332.1,259.0 332.5,259.4 332.9,259.8 333.3,260.2 333.7,260.6 334.0,261.0 334.4,261.4 334.8,261.7 335.2,262.1 335.6,262.5 336.0,262.8 336.3,263.2 336.7,263.6 337.1,263.9 337.5,264.2 337.9,264.6 338.3,264.9 338.6,265.2 339.0,265.6 339.4,265.9 339.8,266.2 340.2,266.5 340.6,266.8 340.9,267.1 341.3,267.4 341.7,267.7 342.1,268.0 342.5,268.2 342.9,268.5 343.2,268.8 343.6,269.0 344.0,269.3 344.4,269.6 344.8,269.8 345.2,270.1 345.5,270.3 345.9,270.6 346.3,270.8 346.7,271.0 347.1,271.3 347.5,271.5 347.8,271.7 348.2,271.9 348.6,272.2 349.0,272.4 349.4,272.6 349.8,272.8 350.1,273.0 350.5,273.2 350.9,273.4 351.3,273.6 351.7,273.8 352.1,274.0 352.4,274.1 352.8,274.3 353.2,274.5 353.6,274.7 354.0,274.8 354.4,275.0 354.7,275.2 355.1,275.4 355.5,275.5 355.9,275.7 356.3,275.8 356.7,276.0 357.0,276.1 357.4,276.3 357.8,276.4 358.2,276.6 358.6,276.7 359.0,276.9 359.3,277.0 359.7,277.1 360.1,277.3 360.5,277.4 360.9,277.5 361.3,277.7 361.6,277.8 362.0,277.9 362.4,278.0 362.8,278.1 363.2,278.3 363.6,278.4 363.9,278.5 364.3,278.6 364.7,278.7 365.1,278.8 365.5,278.9 365.9,279.0 366.2,279.1 366.6,279.2 367.0,279.3 367.4,279.4 367.8,279.5 368.1,279.6 368.5,279.7 368.9,279.8 369.3,279.9 369.7,280.0 370.1,280.1 370.4,280.2 370.8,280.2 371.2,280.3 371.6,280.4 372.0,280.5 372.4,280.6 372.7,280.6 373.1,280.7 373.5,280.8 373.9,280.9 374.3,280.9 374.7,281.0 375.0,281.1 375.4,281.1 375.8,281.2 376.2,281.3 376.6,281.3 377.0,281.4 377.3,281.5 377.7,281.5 378.1,281.6 378.5,281.7 378.9,281.7 379.3,281.8 379.6,281.8 380.0,281.9 380.4,281.9 380.8,282.0 381.2,282.0 381.6,282.1 381.9,282.2 382.3,282.2 382.7,282.3 383.1,282.3 383.5,282.4 383.9,282.4 384.2,282.4 384.6,282.5 385.0,282.5 385.4,282.6 385.8,282.6 386.2,282.7 386.5,282.7 386.9,282.7 387.3,282.8 387.7,282.8 388.1,282.9 388.5,282.9 388.8,282.9 389.2,283.0 389.6,283.0 390.0,283.1 390.4,283.1 390.8,283.1 391.1,283.2 391.5,283.2 391.9,283.2 392.3,283.3 392.7,283.3 393.1,283.3 393.4,283.4 393.8,283.4 394.2,283.4 394.6,283.4 395.0,283.5 395.4,283.5 395.7,283.5 396.1,283.6 396.5,283.6 396.9,283.6 397.3,283.6 397.7,283.7 398.0,283.7 398.4,283.7 398.8,283.7 399.2,283.8 399.6,283.8 400.0,283.8 400.3,283.8 400.7,283.8 401.1,283.9 401.5,283.9 401.9,283.9 402.3,283.9 402.6,284.0 403.0,284.0 403.4,284.0 403.8,284.0 404.2,284.0 404.6,284.0 404.9,284.1 405.3,284.1 405.7,284.1 406.1,284.1 406.5,284.1 406.9,284.2 407.2,284.2 407.6,284.2 408.0,284.2 408.4,284.2 408.8,284.2 409.2,284.2 409.5,284.3 409.9,284.3 410.3,284.3 410.7,284.3 411.1,284.3 411.5,284.3 411.8,284.3 412.2,284.4 412.6,284.4 413.0,284.4 413.4,284.4 413.8,284.4 414.1,284.4 414.5,284.4 414.9,284.4" fill="none" stroke="#1d1d8a" stroke-width="1.05" stroke-linejoin="round" />
<polyline points="319.3,260.9 319.4,260.9 319.5,261.0 319.5,261.0 319.6,261.1 319.7,261.2 319.8,261.2 319.8,261.3 319.9,261.3 320.0,261.4 320.1,261.4 320.2,261.5 320.2,261.5 320.3,261.6 320.4,261.7 320.5,261.7 320.5,261.8 320.6,261.8 320.7,261.9 320.8,261.9 320.9,262.0 320.9,262.1 321.0,262.1 321.1,262.2 321.2,262.2 321.3,262.3 321.3,262.3 321.4,262.4 321.5,262.4 321.6,262.5 321.6,262.6 321.7,262.6 321.8,262.7 321.9,262.7 322.0,262.8 322.0,262.8 322.1,262.9 322.2,262.9 322.3,263.0 322.3,263.0 322.4,263.1 322.5,263.2 322.6,263.2 322.7,263.3 322.7,263.3 322.8,263.4 322.9,263.4 323.0,263.5 323.0,263.5 323.1,263.6 323.3,263.7 323.7,264.0 324.1,264.2 324.5,264.5 324.8,264.7 325.2,265.0 325.6,265.3 326.0,265.5 326.4,265.8 326.8,266.0 327.1,266.2 327.5,266.5 327.9,266.7 328.3,267.0 328.7,267.2 329.1,267.4 329.4,267.7 329.8,267.9 330.2,268.1 330.6,268.3 331.0,268.6 331.4,268.8 331.7,269.0 332.1,269.2 332.5,269.4 332.9,269.6 333.3,269.8 333.7,270.0 334.0,270.2 334.4,270.4 334.8,270.6 335.2,270.8 335.6,271.0 336.0,271.2 336.3,271.4 336.7,271.6 337.1,271.8 337.5,272.0 337.9,272.2 338.3,272.3 338.6,272.5 339.0,272.7 339.4,272.9 339.8,273.0 340.2,273.2 340.6,273.4 340.9,273.5 341.3,273.7 341.7,273.9 342.1,274.0 342.5,274.2 342.9,274.4 343.2,274.5 343.6,274.7 344.0,274.8 344.4,275.0 344.8,275.1 345.2,275.3 345.5,275.4 345.9,275.5 346.3,275.7 346.7,275.8 347.1,275.9 347.5,276.1 347.8,276.2 348.2,276.3 348.6,276.5 349.0,276.6 349.4,276.7 349.8,276.9 350.1,277.0 350.5,277.1 350.9,277.2 351.3,277.3 351.7,277.5 352.1,277.6 352.4,277.7 352.8,277.8 353.2,277.9 353.6,278.0 354.0,278.1 354.4,278.2 354.7,278.3 355.1,278.4 355.5,278.5 355.9,278.6 356.3,278.7 356.7,278.8 357.0,278.9 357.4,279.0 357.8,279.1 358.2,279.2 358.6,279.3 359.0,279.4 359.3,279.5 359.7,279.6 360.1,279.6 360.5,279.7 360.9,279.8 361.3,279.9 361.6,280.0 362.0,280.1 362.4,280.1 362.8,280.2 363.2,280.3 363.6,280.4 363.9,280.4 364.3,280.5 364.7,280.6 365.1,280.6 365.5,280.7 365.9,280.8 366.2,280.9 366.6,280.9 367.0,281.0 367.4,281.1 367.8,281.1 368.1,281.2 368.5,281.2 368.9,281.3 369.3,281.4 369.7,281.4 370.1,281.5 370.4,281.5 370.8,281.6 371.2,281.6 371.6,281.7 372.0,281.8 372.4,281.8 372.7,281.9 373.1,281.9 373.5,282.0 373.9,282.0 374.3,282.1 374.7,282.1 375.0,282.2 375.4,282.2 375.8,282.3 376.2,282.3 376.6,282.3 377.0,282.4 377.3,282.4 377.7,282.5 378.1,282.5 378.5,282.6 378.9,282.6 379.3,282.6 379.6,282.7 380.0,282.7 380.4,282.8 380.8,282.8 381.2,282.8 381.6,282.9 381.9,282.9 382.3,282.9 382.7,283.0 383.1,283.0 383.5,283.0 383.9,283.1 384.2,283.1 384.6,283.1 385.0,283.2 385.4,283.2 385.8,283.2 386.2,283.3 386.5,283.3 386.9,283.3 387.3,283.4 387.7,283.4 388.1,283.4 388.5,283.4 388.8,283.5 389.2,283.5 389.6,283.5 390.0,283.6 390.4,283.6 390.8,283.6 391.1,283.6 391.5,283.7 391.9,283.7 392.3,283.7 392.7,283.7 393.1,283.7 393.4,283.8 393.8,283.8 394.2,283.8 394.6,283.8 395.0,283.9 395.4,283.9 395.7,283.9 396.1,283.9 396.5,283.9 396.9,284.0 397.3,284.0 397.7,284.0 398.0,284.0 398.4,284.0 398.8,284.0 399.2,284.1 399.6,284.1 400.0,284.1 400.3,284.1 400.7,284.1 401.1,284.1 401.5,284.2 401.9,284.2 402.3,284.2 402.6,284.2 403.0,284.2 403.4,284.2 403.8,284.3 404.2,284.3 404.6,284.3 404.9,284.3 405.3,284.3 405.7,284.3 406.1,284.3 406.5,284.3 406.9,284.4 407.2,284.4 407.6,284.4 408.0,284.4 408.4,284.4 408.8,284.4 409.2,284.4 409.5,284.4 409.9,284.5 410.3,284.5 410.7,284.5 411.1,284.5 411.5,284.5 411.8,284.5 412.2,284.5 412.6,284.5 413.0,284.5 413.4,284.5 413.8,284.6 414.1,284.6 414.5,284.6 414.9,284.6" fill="none" stroke="#1d1d8a" stroke-width="1.05" stroke-linejoin="round" />
<polyline points="319.3,280.9 319.4,280.9 319.5,280.9 319.5,280.8 319.6,280.8 319.7,280.8 319.8,280.8 319.8,280.7 319.9,280.7 320.0,280.7 320.1,280.7 320.2,280.6 320.2,280.6 320.3,280.6 320.4,280.6 320.5,280.6 320.5,280.5 320.6,280.5 320.7,280.5 320.8,280.5 320.9,280.5 320.9,280.4 321.0,280.4 321.1,280.4 321.2,280.4 321.3,280.4 321.3,280.3 321.4,280.3 321.5,280.3 321.6,280.3 321.6,280.3 321.7,280.3 321.8,280.2 321.9,280.2 322.0,280.2 322.0,280.2 322.1,280.2 322.2,280.2 322.3,280.1 322.3,280.1 322.4,280.1 322.5,280.1 322.6,280.1 322.7,280.1 322.7,280.1 322.8,280.0 322.9,280.0 323.0,280.0 323.0,280.0 323.1,280.0 323.3,280.0 323.7,279.9 324.1,279.8 324.5,279.8 324.8,279.7 325.2,279.7 325.6,279.7 326.0,279.6 326.4,279.6 326.8,279.6 327.1,279.5 327.5,279.5 327.9,279.5 328.3,279.5 328.7,279.5 329.1,279.4 329.4,279.4 329.8,279.4 330.2,279.4 330.6,279.4 331.0,279.4 331.4,279.4 331.7,279.4 332.1,279.4 332.5,279.5 332.9,279.5 333.3,279.5 333.7,279.5 334.0,279.5 334.4,279.5 334.8,279.5 335.2,279.6 335.6,279.6 336.0,279.6 336.3,279.6 336.7,279.7 337.1,279.7 337.5,279.7 337.9,279.7 338.3,279.8 338.6,279.8 339.0,279.8 339.4,279.9 339.8,279.9 340.2,279.9 340.6,280.0 340.9,280.0 341.3,280.0 341.7,280.1 342.1,280.1 342.5,280.2 342.9,280.2 343.2,280.2 343.6,280.3 344.0,280.3 344.4,280.4 344.8,280.4 345.2,280.4 345.5,280.5 345.9,280.5 346.3,280.6 346.7,280.6 347.1,280.6 347.5,280.7 347.8,280.7 348.2,280.8 348.6,280.8 349.0,280.8 349.4,280.9 349.8,280.9 350.1,281.0 350.5,281.0 350.9,281.1 351.3,281.1 351.7,281.1 352.1,281.2 352.4,281.2 352.8,281.3 353.2,281.3 353.6,281.3 354.0,281.4 354.4,281.4 354.7,281.5 355.1,281.5 355.5,281.5 355.9,281.6 356.3,281.6 356.7,281.7 357.0,281.7 357.4,281.7 357.8,281.8 358.2,281.8 358.6,281.9 359.0,281.9 359.3,281.9 359.7,282.0 360.1,282.0 360.5,282.0 360.9,282.1 361.3,282.1 361.6,282.2 362.0,282.2 362.4,282.2 362.8,282.3 363.2,282.3 363.6,282.3 363.9,282.4 364.3,282.4 364.7,282.4 365.1,282.5 365.5,282.5 365.9,282.5 366.2,282.6 366.6,282.6 367.0,282.6 367.4,282.7 367.8,282.7 368.1,282.7 368.5,282.8 368.9,282.8 369.3,282.8 369.7,282.9 370.1,282.9 370.4,282.9 370.8,282.9 371.2,283.0 371.6,283.0 372.0,283.0 372.4,283.1 372.7,283.1 373.1,283.1 373.5,283.1 373.9,283.2 374.3,283.2 374.7,283.2 375.0,283.2 375.4,283.3 375.8,283.3 376.2,283.3 376.6,283.3 377.0,283.4 377.3,283.4 377.7,283.4 378.1,283.4 378.5,283.5 378.9,283.5 379.3,283.5 379.6,283.5 380.0,283.6 380.4,283.6 380.8,283.6 381.2,283.6 381.6,283.6 381.9,283.7 382.3,283.7 382.7,283.7 383.1,283.7 383.5,283.7 383.9,283.8 384.2,283.8 384.6,283.8 385.0,283.8 385.4,283.8 385.8,283.9 386.2,283.9 386.5,283.9 386.9,283.9 387.3,283.9 387.7,283.9 388.1,284.0 388.5,284.0 388.8,284.0 389.2,284.0 389.6,284.0 390.0,284.0 390.4,284.1 390.8,284.1 391.1,284.1 391.5,284.1 391.9,284.1 392.3,284.1 392.7,284.2 393.1,284.2 393.4,284.2 393.8,284.2 394.2,284.2 394.6,284.2 395.0,284.2 395.4,284.2 395.7,284.3 396.1,284.3 396.5,284.3 396.9,284.3 397.3,284.3 397.7,284.3 398.0,284.3 398.4,284.3 398.8,284.4 399.2,284.4 399.6,284.4 400.0,284.4 400.3,284.4 400.7,284.4 401.1,284.4 401.5,284.4 401.9,284.4 402.3,284.5 402.6,284.5 403.0,284.5 403.4,284.5 403.8,284.5 404.2,284.5 404.6,284.5 404.9,284.5 405.3,284.5 405.7,284.5 406.1,284.5 406.5,284.6 406.9,284.6 407.2,284.6 407.6,284.6 408.0,284.6 408.4,284.6 408.8,284.6 409.2,284.6 409.5,284.6 409.9,284.6 410.3,284.6 410.7,284.6 411.1,284.7 411.5,284.7 411.8,284.7 412.2,284.7 412.6,284.7 413.0,284.7 413.4,284.7 413.8,284.7 414.1,284.7 414.5,284.7 414.9,284.7" fill="none" stroke="#1d1d8a" stroke-width="1.05" stroke-linejoin="round" />
<polyline points="319.3,301.5 319.4,301.4 319.5,301.3 319.5,301.2 319.6,301.1 319.7,301.0 319.8,300.9 319.8,300.8 319.9,300.7 320.0,300.6 320.1,300.5 320.2,300.4 320.2,300.3 320.3,300.2 320.4,300.1 320.5,300.0 320.5,299.9 320.6,299.8 320.7,299.7 320.8,299.6 320.9,299.5 320.9,299.4 321.0,299.3 321.1,299.2 321.2,299.1 321.3,299.0 321.3,299.0 321.4,298.9 321.5,298.8 321.6,298.7 321.6,298.6 321.7,298.5 321.8,298.4 321.9,298.3 322.0,298.2 322.0,298.2 322.1,298.1 322.2,298.0 322.3,297.9 322.3,297.8 322.4,297.7 322.5,297.7 322.6,297.6 322.7,297.5 322.7,297.4 322.8,297.3 322.9,297.2 323.0,297.2 323.0,297.1 323.1,297.0 323.3,296.8 323.7,296.4 324.1,296.1 324.5,295.7 324.8,295.4 325.2,295.1 325.6,294.7 326.0,294.4 326.4,294.1 326.8,293.9 327.1,293.6 327.5,293.3 327.9,293.0 328.3,292.8 328.7,292.5 329.1,292.3 329.4,292.1 329.8,291.9 330.2,291.6 330.6,291.4 331.0,291.2 331.4,291.0 331.7,290.8 332.1,290.7 332.5,290.5 332.9,290.3 333.3,290.1 333.7,290.0 334.0,289.8 334.4,289.7 334.8,289.5 335.2,289.4 335.6,289.3 336.0,289.1 336.3,289.0 336.7,288.9 337.1,288.8 337.5,288.6 337.9,288.5 338.3,288.4 338.6,288.3 339.0,288.2 339.4,288.1 339.8,288.0 340.2,287.9 340.6,287.8 340.9,287.7 341.3,287.7 341.7,287.6 342.1,287.5 342.5,287.4 342.9,287.3 343.2,287.3 343.6,287.2 344.0,287.1 344.4,287.1 344.8,287.0 345.2,286.9 345.5,286.9 345.9,286.8 346.3,286.8 346.7,286.7 347.1,286.7 347.5,286.6 347.8,286.6 348.2,286.5 348.6,286.5 349.0,286.4 349.4,286.4 349.8,286.3 350.1,286.3 350.5,286.3 350.9,286.2 351.3,286.2 351.7,286.2 352.1,286.1 352.4,286.1 352.8,286.1 353.2,286.0 353.6,286.0 354.0,286.0 354.4,285.9 354.7,285.9 355.1,285.9 355.5,285.9 355.9,285.8 356.3,285.8 356.7,285.8 357.0,285.8 357.4,285.7 357.8,285.7 358.2,285.7 358.6,285.7 359.0,285.7 359.3,285.7 359.7,285.6 360.1,285.6 360.5,285.6 360.9,285.6 361.3,285.6 361.6,285.6 362.0,285.5 362.4,285.5 362.8,285.5 363.2,285.5 363.6,285.5 363.9,285.5 364.3,285.5 364.7,285.4 365.1,285.4 365.5,285.4 365.9,285.4 366.2,285.4 366.6,285.4 367.0,285.4 367.4,285.4 367.8,285.4 368.1,285.4 368.5,285.3 368.9,285.3 369.3,285.3 369.7,285.3 370.1,285.3 370.4,285.3 370.8,285.3 371.2,285.3 371.6,285.3 372.0,285.3 372.4,285.3 372.7,285.3 373.1,285.3 373.5,285.3 373.9,285.3 374.3,285.2 374.7,285.2 375.0,285.2 375.4,285.2 375.8,285.2 376.2,285.2 376.6,285.2 377.0,285.2 377.3,285.2 377.7,285.2 378.1,285.2 378.5,285.2 378.9,285.2 379.3,285.2 379.6,285.2 380.0,285.2 380.4,285.2 380.8,285.2 381.2,285.2 381.6,285.2 381.9,285.2 382.3,285.2 382.7,285.2 383.1,285.2 383.5,285.2 383.9,285.2 384.2,285.2 384.6,285.2 385.0,285.2 385.4,285.2 385.8,285.1 386.2,285.1 386.5,285.1 386.9,285.1 387.3,285.1 387.7,285.1 388.1,285.1 388.5,285.1 388.8,285.1 389.2,285.1 389.6,285.1 390.0,285.1 390.4,285.1 390.8,285.1 391.1,285.1 391.5,285.1 391.9,285.1 392.3,285.1 392.7,285.1 393.1,285.1 393.4,285.1 393.8,285.1 394.2,285.1 394.6,285.1 395.0,285.1 395.4,285.1 395.7,285.1 396.1,285.1 396.5,285.1 396.9,285.1 397.3,285.1 397.7,285.1 398.0,285.1 398.4,285.1 398.8,285.1 399.2,285.1 399.6,285.1 400.0,285.1 400.3,285.1 400.7,285.1 401.1,285.1 401.5,285.1 401.9,285.1 402.3,285.1 402.6,285.1 403.0,285.1 403.4,285.1 403.8,285.1 404.2,285.1 404.6,285.1 404.9,285.1 405.3,285.1 405.7,285.1 406.1,285.1 406.5,285.1 406.9,285.1 407.2,285.1 407.6,285.1 408.0,285.1 408.4,285.1 408.8,285.1 409.2,285.1 409.5,285.1 409.9,285.1 410.3,285.1 410.7,285.1 411.1,285.1 411.5,285.1 411.8,285.1 412.2,285.1 412.6,285.1 413.0,285.1 413.4,285.1 413.8,285.1 414.1,285.1 414.5,285.1 414.9,285.1" fill="none" stroke="#1d1d8a" stroke-width="1.05" stroke-linejoin="round" />
<polyline points="319.3,321.0 319.4,320.7 319.5,320.5 319.5,320.3 319.6,320.0 319.7,319.8 319.8,319.6 319.8,319.3 319.9,319.1 320.0,318.9 320.1,318.7 320.2,318.5 320.2,318.2 320.3,318.0 320.4,317.8 320.5,317.6 320.5,317.4 320.6,317.2 320.7,317.0 320.8,316.7 320.9,316.5 320.9,316.3 321.0,316.1 321.1,315.9 321.2,315.7 321.3,315.5 321.3,315.3 321.4,315.1 321.5,314.9 321.6,314.7 321.6,314.5 321.7,314.3 321.8,314.2 321.9,314.0 322.0,313.8 322.0,313.6 322.1,313.4 322.2,313.2 322.3,313.0 322.3,312.8 322.4,312.7 322.5,312.5 322.6,312.3 322.7,312.1 322.7,311.9 322.8,311.8 322.9,311.6 323.0,311.4 323.0,311.2 323.1,311.1 323.3,310.7 323.7,309.8 324.1,309.1 324.5,308.3 324.8,307.6 325.2,306.8 325.6,306.2 326.0,305.5 326.4,304.8 326.8,304.2 327.1,303.6 327.5,303.0 327.9,302.4 328.3,301.9 328.7,301.4 329.1,300.8 329.4,300.3 329.8,299.9 330.2,299.4 330.6,298.9 331.0,298.5 331.4,298.1 331.7,297.6 332.1,297.3 332.5,296.9 332.9,296.5 333.3,296.1 333.7,295.8 334.0,295.4 334.4,295.1 334.8,294.8 335.2,294.5 335.6,294.2 336.0,293.9 336.3,293.6 336.7,293.3 337.1,293.1 337.5,292.8 337.9,292.6 338.3,292.3 338.6,292.1 339.0,291.9 339.4,291.7 339.8,291.5 340.2,291.3 340.6,291.1 340.9,290.9 341.3,290.7 341.7,290.5 342.1,290.3 342.5,290.2 342.9,290.0 343.2,289.9 343.6,289.7 344.0,289.6 344.4,289.4 344.8,289.3 345.2,289.1 345.5,289.0 345.9,288.9 346.3,288.8 346.7,288.6 347.1,288.5 347.5,288.4 347.8,288.3 348.2,288.2 348.6,288.1 349.0,288.0 349.4,287.9 349.8,287.8 350.1,287.8 350.5,287.7 350.9,287.6 351.3,287.5 351.7,287.4 352.1,287.4 352.4,287.3 352.8,287.2 353.2,287.1 353.6,287.1 354.0,287.0 354.4,287.0 354.7,286.9 355.1,286.8 355.5,286.8 355.9,286.7 356.3,286.7 356.7,286.6 357.0,286.6 357.4,286.5 357.8,286.5 358.2,286.4 358.6,286.4 359.0,286.4 359.3,286.3 359.7,286.3 360.1,286.2 360.5,286.2 360.9,286.2 361.3,286.1 361.6,286.1 362.0,286.1 362.4,286.0 362.8,286.0 363.2,286.0 363.6,285.9 363.9,285.9 364.3,285.9 364.7,285.9 365.1,285.8 365.5,285.8 365.9,285.8 366.2,285.8 366.6,285.8 367.0,285.7 367.4,285.7 367.8,285.7 368.1,285.7 368.5,285.7 368.9,285.6 369.3,285.6 369.7,285.6 370.1,285.6 370.4,285.6 370.8,285.6 371.2,285.5 371.6,285.5 372.0,285.5 372.4,285.5 372.7,285.5 373.1,285.5 373.5,285.5 373.9,285.4 374.3,285.4 374.7,285.4 375.0,285.4 375.4,285.4 375.8,285.4 376.2,285.4 376.6,285.4 377.0,285.4 377.3,285.4 377.7,285.3 378.1,285.3 378.5,285.3 378.9,285.3 379.3,285.3 379.6,285.3 380.0,285.3 380.4,285.3 380.8,285.3 381.2,285.3 381.6,285.3 381.9,285.3 382.3,285.3 382.7,285.3 383.1,285.3 383.5,285.2 383.9,285.2 384.2,285.2 384.6,285.2 385.0,285.2 385.4,285.2 385.8,285.2 386.2,285.2 386.5,285.2 386.9,285.2 387.3,285.2 387.7,285.2 388.1,285.2 388.5,285.2 388.8,285.2 389.2,285.2 389.6,285.2 390.0,285.2 390.4,285.2 390.8,285.2 391.1,285.2 391.5,285.2 391.9,285.2 392.3,285.2 392.7,285.2 393.1,285.2 393.4,285.2 393.8,285.2 394.2,285.2 394.6,285.2 395.0,285.1 395.4,285.1 395.7,285.1 396.1,285.1 396.5,285.1 396.9,285.1 397.3,285.1 397.7,285.1 398.0,285.1 398.4,285.1 398.8,285.1 399.2,285.1 399.6,285.1 400.0,285.1 400.3,285.1 400.7,285.1 401.1,285.1 401.5,285.1 401.9,285.1 402.3,285.1 402.6,285.1 403.0,285.1 403.4,285.1 403.8,285.1 404.2,285.1 404.6,285.1 404.9,285.1 405.3,285.1 405.7,285.1 406.1,285.1 406.5,285.1 406.9,285.1 407.2,285.1 407.6,285.1 408.0,285.1 408.4,285.1 408.8,285.1 409.2,285.1 409.5,285.1 409.9,285.1 410.3,285.1 410.7,285.1 411.1,285.1 411.5,285.1 411.8,285.1 412.2,285.1 412.6,285.1 413.0,285.1 413.4,285.1 413.8,285.1 414.1,285.1 414.5,285.1 414.9,285.1" fill="none" stroke="#1d1d8a" stroke-width="1.05" stroke-linejoin="round" />
<polyline points="319.3,340.6 319.4,340.2 319.5,339.9 319.5,339.5 319.6,339.1 319.7,338.8 319.8,338.4 319.8,338.1 319.9,337.7 320.0,337.4 320.1,337.1 320.2,336.7 320.2,336.4 320.3,336.0 320.4,335.7 320.5,335.4 320.5,335.0 320.6,334.7 320.7,334.4 320.8,334.1 320.9,333.8 320.9,333.4 321.0,333.1 321.1,332.8 321.2,332.5 321.3,332.2 321.3,331.9 321.4,331.6 321.5,331.3 321.6,331.0 321.6,330.7 321.7,330.4 321.8,330.1 321.9,329.8 322.0,329.5 322.0,329.2 322.1,328.9 322.2,328.6 322.3,328.3 322.3,328.0 322.4,327.8 322.5,327.5 322.6,327.2 322.7,326.9 322.7,326.7 322.8,326.4 322.9,326.1 323.0,325.8 323.0,325.6 323.1,325.3 323.3,324.7 323.7,323.4 324.1,322.2 324.5,321.0 324.8,319.9 325.2,318.8 325.6,317.7 326.0,316.7 326.4,315.7 326.8,314.7 327.1,313.7 327.5,312.8 327.9,311.9 328.3,311.1 328.7,310.3 329.1,309.5 329.4,308.7 329.8,307.9 330.2,307.2 330.6,306.5 331.0,305.8 331.4,305.2 331.7,304.5 332.1,303.9 332.5,303.3 332.9,302.7 333.3,302.2 333.7,301.6 334.0,301.1 334.4,300.6 334.8,300.1 335.2,299.6 335.6,299.2 336.0,298.7 336.3,298.3 336.7,297.9 337.1,297.5 337.5,297.1 337.9,296.7 338.3,296.3 338.6,296.0 339.0,295.6 339.4,295.3 339.8,295.0 340.2,294.6 340.6,294.3 340.9,294.0 341.3,293.8 341.7,293.5 342.1,293.2 342.5,293.0 342.9,292.7 343.2,292.5 343.6,292.2 344.0,292.0 344.4,291.8 344.8,291.6 345.2,291.4 345.5,291.2 345.9,291.0 346.3,290.8 346.7,290.6 347.1,290.4 347.5,290.3 347.8,290.1 348.2,289.9 348.6,289.8 349.0,289.6 349.4,289.5 349.8,289.3 350.1,289.2 350.5,289.1 350.9,289.0 351.3,288.8 351.7,288.7 352.1,288.6 352.4,288.5 352.8,288.4 353.2,288.3 353.6,288.2 354.0,288.1 354.4,288.0 354.7,287.9 355.1,287.8 355.5,287.7 355.9,287.6 356.3,287.5 356.7,287.5 357.0,287.4 357.4,287.3 357.8,287.2 358.2,287.2 358.6,287.1 359.0,287.0 359.3,287.0 359.7,286.9 360.1,286.9 360.5,286.8 360.9,286.8 361.3,286.7 361.6,286.7 362.0,286.6 362.4,286.6 362.8,286.5 363.2,286.5 363.6,286.4 363.9,286.4 364.3,286.3 364.7,286.3 365.1,286.3 365.5,286.2 365.9,286.2 366.2,286.1 366.6,286.1 367.0,286.1 367.4,286.1 367.8,286.0 368.1,286.0 368.5,286.0 368.9,285.9 369.3,285.9 369.7,285.9 370.1,285.9 370.4,285.8 370.8,285.8 371.2,285.8 371.6,285.8 372.0,285.7 372.4,285.7 372.7,285.7 373.1,285.7 373.5,285.7 373.9,285.6 374.3,285.6 374.7,285.6 375.0,285.6 375.4,285.6 375.8,285.6 376.2,285.5 376.6,285.5 377.0,285.5 377.3,285.5 377.7,285.5 378.1,285.5 378.5,285.5 378.9,285.5 379.3,285.4 379.6,285.4 380.0,285.4 380.4,285.4 380.8,285.4 381.2,285.4 381.6,285.4 381.9,285.4 382.3,285.4 382.7,285.4 383.1,285.3 383.5,285.3 383.9,285.3 384.2,285.3 384.6,285.3 385.0,285.3 385.4,285.3 385.8,285.3 386.2,285.3 386.5,285.3 386.9,285.3 387.3,285.3 387.7,285.3 388.1,285.3 388.5,285.3 388.8,285.2 389.2,285.2 389.6,285.2 390.0,285.2 390.4,285.2 390.8,285.2 391.1,285.2 391.5,285.2 391.9,285.2 392.3,285.2 392.7,285.2 393.1,285.2 393.4,285.2 393.8,285.2 394.2,285.2 394.6,285.2 395.0,285.2 395.4,285.2 395.7,285.2 396.1,285.2 396.5,285.2 396.9,285.2 397.3,285.2 397.7,285.2 398.0,285.2 398.4,285.2 398.8,285.2 399.2,285.2 399.6,285.2 400.0,285.2 400.3,285.1 400.7,285.1 401.1,285.1 401.5,285.1 401.9,285.1 402.3,285.1 402.6,285.1 403.0,285.1 403.4,285.1 403.8,285.1 404.2,285.1 404.6,285.1 404.9,285.1 405.3,285.1 405.7,285.1 406.1,285.1 406.5,285.1 406.9,285.1 407.2,285.1 407.6,285.1 408.0,285.1 408.4,285.1 408.8,285.1 409.2,285.1 409.5,285.1 409.9,285.1 410.3,285.1 410.7,285.1 411.1,285.1 411.5,285.1 411.8,285.1 412.2,285.1 412.6,285.1 413.0,285.1 413.4,285.1 413.8,285.1 414.1,285.1 414.5,285.1 414.9,285.1" fill="none" stroke="#1d1d8a" stroke-width="1.05" stroke-linejoin="round" />
<polyline points="319.3,362.0 319.4,361.5 319.5,361.0 319.5,360.5 319.6,360.1 319.7,359.6 319.8,359.1 319.8,358.6 319.9,358.1 320.0,357.6 320.1,357.2 320.2,356.7 320.2,356.2 320.3,355.8 320.4,355.3 320.5,354.8 320.5,354.4 320.6,353.9 320.7,353.5 320.8,353.0 320.9,352.6 320.9,352.1 321.0,351.7 321.1,351.3 321.2,350.8 321.3,350.4 321.3,350.0 321.4,349.6 321.5,349.1 321.6,348.7 321.6,348.3 321.7,347.9 321.8,347.5 321.9,347.1 322.0,346.7 322.0,346.3 322.1,345.9 322.2,345.5 322.3,345.1 322.3,344.7 322.4,344.3 322.5,343.9 322.6,343.5 322.7,343.1 322.7,342.8 322.8,342.4 322.9,342.0 323.0,341.6 323.0,341.3 323.1,340.9 323.3,340.0 323.7,338.3 324.1,336.6 324.5,334.9 324.8,333.4 325.2,331.8 325.6,330.3 326.0,328.9 326.4,327.5 326.8,326.2 327.1,324.9 327.5,323.6 327.9,322.4 328.3,321.2 328.7,320.0 329.1,318.9 329.4,317.9 329.8,316.8 330.2,315.8 330.6,314.8 331.0,313.9 331.4,313.0 331.7,312.1 332.1,311.2 332.5,310.4 332.9,309.6 333.3,308.8 333.7,308.1 334.0,307.3 334.4,306.6 334.8,305.9 335.2,305.3 335.6,304.6 336.0,304.0 336.3,303.4 336.7,302.8 337.1,302.3 337.5,301.7 337.9,301.2 338.3,300.7 338.6,300.2 339.0,299.7 339.4,299.2 339.8,298.8 340.2,298.3 340.6,297.9 340.9,297.5 341.3,297.1 341.7,296.7 342.1,296.4 342.5,296.0 342.9,295.7 343.2,295.3 343.6,295.0 344.0,294.7 344.4,294.4 344.8,294.1 345.2,293.8 345.5,293.5 345.9,293.3 346.3,293.0 346.7,292.7 347.1,292.5 347.5,292.3 347.8,292.0 348.2,291.8 348.6,291.6 349.0,291.4 349.4,291.2 349.8,291.0 350.1,290.8 350.5,290.6 350.9,290.5 351.3,290.3 351.7,290.1 352.1,290.0 352.4,289.8 352.8,289.7 353.2,289.5 353.6,289.4 354.0,289.2 354.4,289.1 354.7,289.0 355.1,288.8 355.5,288.7 355.9,288.6 356.3,288.5 356.7,288.4 357.0,288.3 357.4,288.2 357.8,288.1 358.2,288.0 358.6,287.9 359.0,287.8 359.3,287.7 359.7,287.6 360.1,287.6 360.5,287.5 360.9,287.4 361.3,287.3 361.6,287.3 362.0,287.2 362.4,287.1 362.8,287.1 363.2,287.0 363.6,286.9 363.9,286.9 364.3,286.8 364.7,286.8 365.1,286.7 365.5,286.7 365.9,286.6 366.2,286.6 366.6,286.5 367.0,286.5 367.4,286.4 367.8,286.4 368.1,286.3 368.5,286.3 368.9,286.3 369.3,286.2 369.7,286.2 370.1,286.2 370.4,286.1 370.8,286.1 371.2,286.1 371.6,286.0 372.0,286.0 372.4,286.0 372.7,285.9 373.1,285.9 373.5,285.9 373.9,285.9 374.3,285.8 374.7,285.8 375.0,285.8 375.4,285.8 375.8,285.7 376.2,285.7 376.6,285.7 377.0,285.7 377.3,285.7 377.7,285.6 378.1,285.6 378.5,285.6 378.9,285.6 379.3,285.6 379.6,285.6 380.0,285.5 380.4,285.5 380.8,285.5 381.2,285.5 381.6,285.5 381.9,285.5 382.3,285.5 382.7,285.5 383.1,285.4 383.5,285.4 383.9,285.4 384.2,285.4 384.6,285.4 385.0,285.4 385.4,285.4 385.8,285.4 386.2,285.4 386.5,285.4 386.9,285.3 387.3,285.3 387.7,285.3 388.1,285.3 388.5,285.3 388.8,285.3 389.2,285.3 389.6,285.3 390.0,285.3 390.4,285.3 390.8,285.3 391.1,285.3 391.5,285.3 391.9,285.3 392.3,285.3 392.7,285.2 393.1,285.2 393.4,285.2 393.8,285.2 394.2,285.2 394.6,285.2 395.0,285.2 395.4,285.2 395.7,285.2 396.1,285.2 396.5,285.2 396.9,285.2 397.3,285.2 397.7,285.2 398.0,285.2 398.4,285.2 398.8,285.2 399.2,285.2 399.6,285.2 400.0,285.2 400.3,285.2 400.7,285.2 401.1,285.2 401.5,285.2 401.9,285.2 402.3,285.2 402.6,285.2 403.0,285.2 403.4,285.2 403.8,285.2 404.2,285.1 404.6,285.1 404.9,285.1 405.3,285.1 405.7,285.1 406.1,285.1 406.5,285.1 406.9,285.1 407.2,285.1 407.6,285.1 408.0,285.1 408.4,285.1 408.8,285.1 409.2,285.1 409.5,285.1 409.9,285.1 410.3,285.1 410.7,285.1 411.1,285.1 411.5,285.1 411.8,285.1 412.2,285.1 412.6,285.1 413.0,285.1 413.4,285.1 413.8,285.1 414.1,285.1 414.5,285.1 414.9,285.1" fill="none" stroke="#1d1d8a" stroke-width="1.05" stroke-linejoin="round" />
<line x1="319.30" y1="143.00" x2="319.30" y2="429.00" stroke="#8c8c8c" stroke-width="0.9" />
<line x1="319.30" y1="183.50" x2="322.10" y2="183.50" stroke="#444" stroke-width="1.0" />
<line x1="319.30" y1="234.50" x2="322.10" y2="234.50" stroke="#444" stroke-width="1.0" />
<line x1="319.30" y1="337.50" x2="322.10" y2="337.50" stroke="#444" stroke-width="1.0" />
<line x1="319.30" y1="388.50" x2="322.10" y2="388.50" stroke="#444" stroke-width="1.0" />
<line x1="319.30" y1="285.60" x2="414.90" y2="285.60" stroke="#707070" stroke-width="1.2" />
<line x1="414.90" y1="286.20" x2="414.90" y2="283.00" stroke="#707070" stroke-width="0.9" />
<text x="314.80" y="186.70" font-size="9.8" text-anchor="end" font-weight="normal" font-style="normal" fill="#111" >50</text>
<text x="314.80" y="237.80" font-size="9.8" text-anchor="end" font-weight="normal" font-style="normal" fill="#111" >25</text>
<text x="314.80" y="288.90" font-size="9.8" text-anchor="end" font-weight="normal" font-style="normal" fill="#111" >0</text>
<text x="314.80" y="340.00" font-size="9.8" text-anchor="end" font-weight="normal" font-style="normal" fill="#111" >&#8722;25</text>
<text x="314.80" y="391.10" font-size="9.8" text-anchor="end" font-weight="normal" font-style="normal" fill="#111" >&#8722;50</text>
<text x="319.30" y="296.50" font-size="9.8" text-anchor="middle" font-weight="normal" font-style="normal" fill="#111" >0</text>
<text x="414.90" y="296.50" font-size="9.8" text-anchor="middle" font-weight="normal" font-style="normal" fill="#111" >500</text>
<text x="391.20" y="273.40" font-size="9.3" fill="#111" word-spacing="1.1"><tspan font-style="italic">t</tspan> (<tspan font-style="italic">&#956;</tspan>s)</text>
<text x="324.70" y="141.80" font-size="9.3" fill="#111" word-spacing="1.1"><tspan font-style="italic">y</tspan> (<tspan font-style="italic">t</tspan>) (mV)</text>
<line x1="455.30" y1="137.40" x2="685.00" y2="137.40" stroke="#707070" stroke-width="1.1" />
<line x1="570.20" y1="13.80" x2="570.20" y2="137.40" stroke="#4a4a4a" stroke-width="1.0" />
<line x1="519.30" y1="137.40" x2="519.30" y2="135.20" stroke="#707070" stroke-width="0.9" />
<line x1="621.10" y1="137.40" x2="621.10" y2="135.20" stroke="#707070" stroke-width="0.9" />
<line x1="672.00" y1="137.40" x2="672.00" y2="135.20" stroke="#707070" stroke-width="0.9" />
<line x1="570.20" y1="49.50" x2="572.80" y2="49.50" stroke="#4a4a4a" stroke-width="1.0" />
<circle cx="468.40" cy="134.16" r="3.1" fill="#7a0a0a"/>
<circle cx="488.76" cy="132.92" r="3.1" fill="#7a0a0a"/>
<circle cx="509.12" cy="132.04" r="3.1" fill="#7a0a0a"/>
<circle cx="529.48" cy="127.99" r="3.1" fill="#7a0a0a"/>
<circle cx="549.84" cy="117.42" r="3.1" fill="#7a0a0a"/>
<circle cx="570.20" cy="105.61" r="3.1" fill="#7a0a0a"/>
<circle cx="590.56" cy="92.05" r="3.1" fill="#7a0a0a"/>
<circle cx="610.92" cy="79.54" r="3.1" fill="#7a0a0a"/>
<circle cx="631.28" cy="65.97" r="3.1" fill="#7a0a0a"/>
<circle cx="651.64" cy="56.63" r="3.1" fill="#7a0a0a"/>
<circle cx="672.00" cy="48.00" r="3.1" fill="#7a0a0a"/>
<circle cx="468.40" cy="133.98" r="3.1" fill="#f5862a"/>
<circle cx="488.76" cy="132.75" r="3.1" fill="#f5862a"/>
<circle cx="509.12" cy="130.46" r="3.1" fill="#f5862a"/>
<circle cx="529.48" cy="123.06" r="3.1" fill="#f5862a"/>
<circle cx="549.84" cy="112.48" r="3.1" fill="#f5862a"/>
<circle cx="570.20" cy="101.30" r="3.1" fill="#f5862a"/>
<circle cx="590.56" cy="88.87" r="3.1" fill="#f5862a"/>
<circle cx="610.92" cy="76.89" r="3.1" fill="#f5862a"/>
<circle cx="631.28" cy="65.44" r="3.1" fill="#f5862a"/>
<circle cx="651.64" cy="56.45" r="3.1" fill="#f5862a"/>
<circle cx="672.00" cy="47.82" r="3.1" fill="#f5862a"/>
<circle cx="468.40" cy="133.80" r="3.1" fill="#2ef08e"/>
<circle cx="488.76" cy="132.57" r="3.1" fill="#2ef08e"/>
<circle cx="509.12" cy="129.40" r="3.1" fill="#2ef08e"/>
<circle cx="529.48" cy="121.82" r="3.1" fill="#2ef08e"/>
<circle cx="549.84" cy="111.07" r="3.1" fill="#2ef08e"/>
<circle cx="570.20" cy="99.80" r="3.1" fill="#2ef08e"/>
<circle cx="590.56" cy="87.29" r="3.1" fill="#2ef08e"/>
<circle cx="610.92" cy="75.31" r="3.1" fill="#2ef08e"/>
<circle cx="631.28" cy="63.68" r="3.1" fill="#2ef08e"/>
<circle cx="651.64" cy="53.99" r="3.1" fill="#2ef08e"/>
<circle cx="672.00" cy="46.76" r="3.1" fill="#2ef08e"/>
<circle cx="468.40" cy="133.70" r="3.1" fill="#0a0a78"/>
<circle cx="488.76" cy="132.50" r="3.1" fill="#0a0a78"/>
<circle cx="509.12" cy="128.20" r="3.1" fill="#0a0a78"/>
<circle cx="529.48" cy="119.90" r="3.1" fill="#0a0a78"/>
<circle cx="549.84" cy="109.21" r="3.1" fill="#0a0a78"/>
<circle cx="570.20" cy="97.60" r="3.1" fill="#0a0a78"/>
<circle cx="590.56" cy="85.53" r="3.1" fill="#0a0a78"/>
<circle cx="610.92" cy="73.60" r="3.1" fill="#0a0a78"/>
<circle cx="631.28" cy="62.09" r="3.1" fill="#0a0a78"/>
<circle cx="651.64" cy="52.58" r="3.1" fill="#0a0a78"/>
<circle cx="672.00" cy="46.06" r="3.1" fill="#0a0a78"/>
<text x="468.40" y="147.00" font-size="9.8" text-anchor="middle" font-weight="normal" font-style="normal" fill="#111" >&#8722;200</text>
<text x="519.30" y="147.00" font-size="9.8" text-anchor="middle" font-weight="normal" font-style="normal" fill="#111" >&#8722;100</text>
<text x="570.20" y="147.00" font-size="9.8" text-anchor="middle" font-weight="normal" font-style="normal" fill="#111" >0</text>
<text x="621.10" y="147.00" font-size="9.8" text-anchor="middle" font-weight="normal" font-style="normal" fill="#111" >100</text>
<text x="672.00" y="147.00" font-size="9.8" text-anchor="middle" font-weight="normal" font-style="normal" fill="#111" >200</text>
<text x="566.20" y="50.70" font-size="9.8" text-anchor="end" font-weight="normal" font-style="normal" fill="#111" >500</text>
<text x="574.80" y="21.20" font-size="9.6" fill="#111" word-spacing="1.1"><tspan font-style="italic">S</tspan>(<tspan font-style="italic">y</tspan>) (mV<tspan font-size="7.0" dy="-3.0">2</tspan><tspan dy="3.0"><tspan font-style="italic">&#956;</tspan></tspan>s<tspan font-size="7.0" dy="-3.0">&#8722;1</tspan><tspan dy="3.0">)</tspan></text>
<text x="646.00" y="126.90" font-size="9.3" fill="#111" word-spacing="1.1"><tspan font-style="italic">y</tspan> (mV)</text>
<circle cx="465.50" cy="39.80" r="3.2" fill="#7a0a0a"/>
<text x="471.60" y="42.60" font-size="8.2" fill="#111" letter-spacing="0.35"><tspan font-family="Liberation Serif" font-style="italic">&#964;</tspan>=1.1<tspan font-family="Liberation Serif" font-style="italic">&#956;</tspan> s</text>
<circle cx="465.50" cy="51.60" r="3.2" fill="#f5862a"/>
<text x="471.60" y="54.40" font-size="8.2" fill="#111" letter-spacing="0.35"><tspan font-family="Liberation Serif" font-style="italic">&#964;</tspan>=0.6<tspan font-family="Liberation Serif" font-style="italic">&#956;</tspan> s</text>
<circle cx="465.50" cy="64.00" r="3.2" fill="#2ef08e"/>
<text x="471.60" y="66.80" font-size="8.2" fill="#111" letter-spacing="0.35"><tspan font-family="Liberation Serif" font-style="italic">&#964;</tspan>=0.2<tspan font-family="Liberation Serif" font-style="italic">&#956;</tspan> s</text>
<circle cx="465.50" cy="75.50" r="3.2" fill="#0a0a78"/>
<text x="471.60" y="78.30" font-size="8.2" fill="#111" letter-spacing="0.35"><tspan font-family="Liberation Serif" font-style="italic">&#964;</tspan>=0.1<tspan font-family="Liberation Serif" font-style="italic">&#956;</tspan> s</text>
<line x1="455.30" y1="194.61" x2="685.00" y2="289.02" stroke="#222" stroke-width="0.9" />
<polyline points="455.7,192.5 456.4,192.9 457.4,193.4 458.6,193.9 459.8,194.6 461.2,195.3 462.7,196.0 464.2,196.7 465.7,197.4 467.1,198.1 468.4,198.8 469.7,199.3 471.0,199.9 472.3,200.5 473.6,201.1 474.9,201.7 476.2,202.2 477.5,202.8 478.7,203.3 480.0,203.8 481.1,204.3 482.2,204.7 483.3,205.2 484.3,205.6 485.3,206.0 486.3,206.3 487.3,206.7 488.3,207.1 489.2,207.4 490.3,207.8 491.3,208.2 492.4,208.5 493.5,208.9 494.6,209.3 495.7,209.7 496.8,210.0 498.0,210.4 499.1,210.7 500.2,211.1 501.4,211.4 502.5,211.7 503.6,212.0 504.8,212.3 506.0,212.6 507.1,212.9 508.3,213.2 509.4,213.5 510.6,213.7 511.7,213.9 512.7,214.1 513.7,214.3 514.7,214.4 515.6,214.5 516.5,214.5 517.3,214.6 518.2,214.6 519.0,214.6 519.7,214.6 520.5,214.6 521.2,214.5 521.8,214.5 522.5,214.5 523.0,214.4 523.5,214.4 524.0,214.3 524.4,214.2 524.9,214.2 525.3,214.1 525.8,214.0 526.3,214.0 526.9,213.9 527.6,213.9 528.3,213.8 529.0,213.8 529.8,213.8 530.6,213.7 531.4,213.7 532.2,213.7 533.0,213.7 533.8,213.7 534.6,213.7 535.3,213.8 536.1,213.9 536.9,214.0 537.6,214.1 538.4,214.3 539.2,214.4 539.9,214.6 540.7,214.7 541.4,214.9 542.2,215.0 543.0,215.2 543.7,215.4 544.4,215.5 545.1,215.7 545.9,215.9 546.6,216.1 547.4,216.3 548.2,216.5 549.0,216.7 549.8,216.9 550.8,217.1 551.7,217.4 552.7,217.6 553.7,217.9 554.8,218.1 555.8,218.4 556.9,218.6 557.9,218.9 559.0,219.2 560.0,219.5 561.0,219.7 562.1,220.0 563.1,220.3 564.1,220.6 565.1,220.9 566.1,221.2 567.1,221.6 568.2,221.9 569.2,222.2 570.2,222.6 571.2,223.0 572.2,223.4 573.3,223.8 574.3,224.2 575.3,224.6 576.3,225.0 577.3,225.5 578.3,225.9 579.4,226.3 580.4,226.8 581.4,227.2 582.4,227.7 583.5,228.2 584.5,228.6 585.5,229.1 586.6,229.6 587.6,230.1 588.6,230.5 589.6,231.0 590.6,231.4 591.5,231.8 592.5,232.2 593.4,232.6 594.3,233.0 595.2,233.4 596.1,233.7 597.0,234.1 597.9,234.5 598.8,234.8 599.7,235.1 600.6,235.5 601.5,235.8 602.4,236.1 603.2,236.4 604.1,236.6 604.9,236.9 605.8,237.2 606.7,237.5 607.5,237.8 608.4,238.1 609.2,238.4 610.1,238.7 611.0,239.0 611.9,239.3 612.8,239.7 613.7,240.0 614.6,240.3 615.4,240.6 616.2,241.0 617.0,241.3 617.8,241.7 618.5,242.0 619.1,242.4 619.8,242.8 620.4,243.2 621.0,243.5 621.6,243.9 622.3,244.3 623.0,244.8 623.6,245.2 624.4,245.6 625.1,246.1 625.8,246.5 626.6,247.0 627.3,247.5 628.1,248.0 628.9,248.5 629.7,249.0 630.5,249.5 631.3,250.0 632.1,250.5 632.9,251.0 633.8,251.5 634.6,252.0 635.5,252.6 636.4,253.1 637.3,253.6 638.2,254.1 639.0,254.7 639.9,255.2 640.8,255.7 641.7,256.2 642.6,256.8 643.5,257.3 644.4,257.8 645.3,258.3 646.2,258.8 647.2,259.4 648.1,259.9 649.1,260.4 650.1,260.9 651.1,261.4 652.1,261.9 653.2,262.4 654.2,262.9 655.3,263.5 656.4,264.0 657.5,264.5 658.6,265.1 659.8,265.6 660.9,266.2 662.1,266.8 663.3,267.4 664.5,268.0 665.8,268.6 667.0,269.3 668.2,269.9 669.5,270.5 670.8,271.2 672.0,271.9 673.3,272.6 674.7,273.4 676.2,274.2 677.7,275.1 679.1,275.9 680.5,276.7 681.8,277.5 683.0,278.2 684.0,278.7 684.7,279.2" fill="none" stroke="#a83a3a" stroke-width="1.15" stroke-linejoin="round" stroke-dasharray="5 3.5"/>
<polyline points="455.7,192.9 456.4,193.3 457.4,193.7 458.6,194.2 459.8,194.8 461.2,195.5 462.7,196.2 464.2,196.9 465.7,197.5 467.1,198.2 468.4,198.8 469.7,199.3 471.0,199.9 472.3,200.4 473.6,201.0 474.9,201.5 476.2,202.1 477.5,202.6 478.7,203.1 479.9,203.5 481.1,204.0 482.3,204.4 483.4,204.8 484.5,205.1 485.6,205.5 486.7,205.8 487.7,206.1 488.7,206.3 489.8,206.6 490.8,206.9 491.8,207.1 492.8,207.4 493.8,207.6 494.8,207.8 495.8,208.0 496.8,208.2 497.7,208.4 498.7,208.6 499.6,208.7 500.6,208.9 501.5,209.0 502.4,209.2 503.3,209.3 504.2,209.4 505.1,209.5 506.0,209.6 506.9,209.7 507.7,209.7 508.6,209.8 509.4,209.9 510.1,209.9 510.9,210.0 511.6,210.0 512.2,210.0 512.9,210.0 513.5,210.0 514.1,210.0 514.7,210.0 515.4,210.1 516.0,210.1 516.8,210.1 517.5,210.2 518.3,210.3 519.0,210.4 519.8,210.5 520.6,210.6 521.4,210.7 522.3,210.8 523.1,211.0 524.0,211.1 524.9,211.2 525.8,211.4 526.8,211.5 527.8,211.7 528.8,211.8 529.9,212.0 530.9,212.2 532.0,212.3 533.0,212.5 534.1,212.7 535.1,212.9 536.1,213.1 537.1,213.4 538.1,213.6 539.2,213.9 540.2,214.2 541.2,214.4 542.2,214.7 543.3,214.9 544.3,215.2 545.3,215.5 546.2,215.7 547.1,215.9 548.0,216.1 548.9,216.3 549.8,216.5 550.7,216.7 551.6,216.9 552.6,217.2 553.7,217.4 554.9,217.8 556.3,218.2 557.7,218.6 559.3,219.0 560.9,219.5 562.5,220.0 564.2,220.6 565.8,221.1 567.4,221.6 568.9,222.1 570.2,222.6 571.4,223.1 572.6,223.5 573.6,224.0 574.6,224.4 575.6,224.9 576.6,225.4 577.5,225.8 578.4,226.3 579.4,226.7 580.4,227.2 581.4,227.7 582.4,228.2 583.4,228.6 584.5,229.1 585.5,229.6 586.5,230.1 587.5,230.6 588.5,231.1 589.5,231.5 590.6,232.0 591.6,232.5 592.6,232.9 593.6,233.4 594.6,233.9 595.7,234.3 596.7,234.8 597.7,235.2 598.7,235.7 599.7,236.1 600.7,236.6 601.8,237.1 602.8,237.5 603.8,238.0 604.8,238.4 605.8,238.9 606.8,239.3 607.9,239.8 608.9,240.3 609.9,240.7 610.9,241.2 611.9,241.7 613.0,242.1 614.0,242.6 615.0,243.1 616.0,243.5 617.0,244.0 618.0,244.5 619.1,245.0 620.1,245.5 621.1,246.0 622.1,246.5 623.1,247.0 624.2,247.6 625.2,248.1 626.2,248.7 627.2,249.2 628.2,249.8 629.2,250.3 630.3,250.9 631.3,251.4 632.3,252.0 633.3,252.5 634.3,253.0 635.4,253.6 636.4,254.1 637.4,254.7 638.4,255.2 639.4,255.8 640.4,256.3 641.5,256.8 642.5,257.4 643.5,258.0 644.5,258.5 645.5,259.1 646.6,259.7 647.6,260.3 648.6,260.8 649.6,261.4 650.6,261.9 651.6,262.5 652.7,263.0 653.7,263.5 654.7,264.0 655.7,264.5 656.7,265.0 657.7,265.5 658.8,266.0 659.8,266.5 660.8,267.0 661.8,267.5 662.8,268.0 663.8,268.5 664.8,269.0 665.8,269.4 666.8,269.9 667.7,270.4 668.8,270.9 669.8,271.4 670.9,272.0 672.0,272.5 673.2,273.1 674.6,273.7 676.0,274.4 677.5,275.1 679.0,275.8 680.4,276.5 681.8,277.2 683.0,277.7 684.0,278.2 684.7,278.6" fill="none" stroke="#f0aa60" stroke-width="1.15" stroke-linejoin="round" stroke-dasharray="5 3.5"/>
<polyline points="455.7,193.3 456.4,193.6 457.4,194.1 458.6,194.6 459.8,195.1 461.2,195.7 462.7,196.3 464.2,197.0 465.7,197.6 467.1,198.2 468.4,198.8 469.7,199.3 471.0,199.8 472.4,200.4 473.7,200.9 475.1,201.5 476.4,202.0 477.7,202.5 478.9,202.9 480.1,203.4 481.1,203.8 482.1,204.1 482.9,204.4 483.7,204.7 484.4,204.9 485.1,205.1 485.8,205.3 486.4,205.5 487.2,205.7 487.9,205.9 488.8,206.1 489.7,206.3 490.7,206.5 491.7,206.7 492.7,206.9 493.8,207.2 494.9,207.4 496.0,207.5 497.0,207.7 498.0,207.9 498.9,208.0 499.8,208.1 500.7,208.2 501.5,208.2 502.3,208.3 503.0,208.3 503.8,208.3 504.6,208.3 505.4,208.4 506.2,208.4 507.1,208.4 508.0,208.5 508.9,208.6 509.9,208.6 510.9,208.7 511.9,208.8 512.9,208.8 513.9,208.9 514.9,209.0 515.8,209.0 516.8,209.1 517.6,209.2 518.4,209.3 519.2,209.3 520.0,209.4 520.8,209.5 521.6,209.5 522.4,209.6 523.2,209.7 524.0,209.8 524.9,210.0 525.8,210.1 526.8,210.3 527.8,210.5 528.8,210.7 529.9,210.9 530.9,211.1 532.0,211.4 533.0,211.6 534.1,211.8 535.1,212.1 536.1,212.4 537.1,212.6 538.1,212.9 539.2,213.2 540.2,213.5 541.2,213.8 542.2,214.1 543.3,214.4 544.3,214.7 545.3,215.0 546.3,215.4 547.3,215.7 548.2,216.0 549.2,216.4 550.2,216.7 551.2,217.1 552.2,217.4 553.1,217.8 554.0,218.1 554.9,218.4 555.8,218.7 556.7,219.0 557.5,219.3 558.3,219.6 559.2,219.8 560.0,220.1 560.8,220.4 561.5,220.6 562.3,220.9 563.1,221.1 563.8,221.4 564.5,221.6 565.2,221.8 565.9,222.0 566.5,222.2 567.2,222.4 567.9,222.6 568.6,222.8 569.4,223.1 570.2,223.4 571.1,223.8 572.0,224.2 573.0,224.6 574.1,225.1 575.1,225.6 576.2,226.1 577.2,226.6 578.3,227.1 579.3,227.6 580.4,228.0 581.4,228.5 582.4,228.9 583.4,229.4 584.5,229.8 585.5,230.2 586.5,230.7 587.5,231.1 588.5,231.6 589.5,232.0 590.6,232.4 591.6,232.8 592.6,233.3 593.6,233.7 594.6,234.1 595.7,234.5 596.7,234.9 597.7,235.3 598.7,235.7 599.7,236.2 600.7,236.6 601.8,237.0 602.8,237.5 603.8,237.9 604.8,238.4 605.8,238.9 606.8,239.3 607.9,239.8 608.9,240.3 609.9,240.7 610.9,241.2 611.9,241.7 613.0,242.1 614.0,242.6 615.0,243.0 616.0,243.4 617.0,243.9 618.0,244.4 619.1,244.8 620.1,245.3 621.1,245.8 622.1,246.3 623.1,246.8 624.0,247.3 625.0,247.8 626.0,248.3 627.0,248.8 628.0,249.4 629.0,250.0 630.1,250.6 631.3,251.2 632.5,251.9 633.8,252.6 635.2,253.4 636.6,254.2 638.1,255.0 639.5,255.8 640.9,256.6 642.3,257.4 643.7,258.2 645.0,258.9 646.3,259.6 647.4,260.3 648.6,261.0 649.7,261.6 650.8,262.3 651.9,262.9 653.0,263.6 654.2,264.2 655.4,264.9 656.7,265.6 658.1,266.3 659.6,267.1 661.1,267.8 662.7,268.6 664.3,269.4 665.9,270.1 667.5,270.9 669.1,271.7 670.6,272.4 672.0,273.1 673.4,273.8 674.9,274.6 676.4,275.3 677.9,276.1 679.3,276.8 680.7,277.5 681.9,278.2 683.0,278.7 684.0,279.2 684.7,279.6" fill="none" stroke="#58dcb0" stroke-width="1.15" stroke-linejoin="round" stroke-dasharray="5 3.5"/>
<polyline points="455.7,193.3 456.4,193.6 457.4,194.1 458.6,194.6 460.0,195.2 461.4,195.8 462.9,196.4 464.4,197.1 465.8,197.7 467.2,198.2 468.4,198.8 469.5,199.2 470.6,199.7 471.7,200.1 472.7,200.5 473.7,201.0 474.7,201.4 475.6,201.7 476.6,202.1 477.6,202.4 478.6,202.7 479.6,203.0 480.5,203.2 481.5,203.5 482.4,203.6 483.4,203.8 484.3,204.0 485.3,204.1 486.2,204.3 487.2,204.5 488.3,204.6 489.3,204.8 490.4,205.0 491.6,205.2 492.8,205.4 493.9,205.6 495.1,205.7 496.3,205.9 497.4,206.1 498.4,206.2 499.4,206.3 500.4,206.5 501.3,206.6 502.1,206.6 502.9,206.7 503.6,206.8 504.4,206.9 505.2,206.9 505.9,207.0 506.8,207.1 507.6,207.2 508.5,207.3 509.4,207.5 510.3,207.6 511.2,207.8 512.2,207.9 513.1,208.1 514.0,208.3 515.0,208.4 515.9,208.6 516.8,208.7 517.6,208.8 518.4,208.9 519.2,209.0 520.0,209.1 520.8,209.2 521.5,209.3 522.3,209.4 523.2,209.5 524.0,209.6 524.9,209.8 525.8,209.9 526.8,210.1 527.8,210.3 528.8,210.5 529.9,210.7 530.9,210.9 532.0,211.1 533.0,211.4 534.1,211.6 535.1,211.9 536.1,212.2 537.1,212.5 538.1,212.8 539.2,213.1 540.2,213.4 541.2,213.7 542.2,214.0 543.3,214.4 544.3,214.7 545.3,215.0 546.3,215.4 547.3,215.7 548.2,216.1 549.2,216.4 550.2,216.8 551.2,217.1 552.2,217.4 553.1,217.8 554.0,218.1 554.9,218.4 555.8,218.7 556.7,219.0 557.5,219.2 558.3,219.5 559.2,219.7 560.0,220.0 560.8,220.2 561.5,220.4 562.3,220.7 563.1,220.9 563.8,221.1 564.5,221.4 565.2,221.5 565.9,221.7 566.5,221.9 567.2,222.1 567.9,222.4 568.6,222.6 569.4,222.9 570.2,223.2 571.1,223.6 572.0,224.0 573.0,224.5 574.1,225.0 575.1,225.5 576.2,226.0 577.2,226.5 578.3,227.1 579.3,227.6 580.4,228.0 581.4,228.5 582.4,228.9 583.4,229.4 584.5,229.8 585.5,230.2 586.5,230.7 587.5,231.1 588.5,231.5 589.5,232.0 590.6,232.4 591.6,232.9 592.6,233.3 593.6,233.7 594.6,234.2 595.7,234.6 596.7,235.1 597.7,235.5 598.7,235.9 599.7,236.4 600.7,236.8 601.8,237.2 602.8,237.7 603.8,238.1 604.8,238.6 605.8,239.0 606.8,239.4 607.9,239.9 608.9,240.3 609.9,240.8 610.9,241.2 611.9,241.6 613.0,242.1 614.0,242.6 615.0,243.0 616.1,243.5 617.1,243.9 618.1,244.4 619.1,244.9 620.1,245.3 621.1,245.8 622.0,246.2 622.9,246.7 623.7,247.1 624.6,247.5 625.4,247.9 626.2,248.4 627.1,248.9 628.1,249.4 629.1,250.0 630.3,250.6 631.5,251.3 632.9,252.1 634.4,253.0 635.9,253.9 637.5,254.8 639.1,255.8 640.6,256.7 642.2,257.6 643.6,258.5 645.0,259.3 646.3,260.1 647.5,260.9 648.6,261.6 649.8,262.3 650.8,263.0 651.9,263.7 653.1,264.3 654.2,265.0 655.4,265.7 656.7,266.4 658.1,267.2 659.6,267.9 661.1,268.6 662.7,269.4 664.3,270.1 665.9,270.9 667.5,271.6 669.1,272.3 670.6,273.0 672.0,273.7 673.4,274.5 674.9,275.2 676.4,275.9 677.9,276.7 679.3,277.4 680.7,278.1 681.9,278.8 683.0,279.3 684.0,279.8 684.7,280.2" fill="none" stroke="#3050b0" stroke-width="1.15" stroke-linejoin="round" stroke-dasharray="5 3.5"/>
<circle cx="468.40" cy="199.35" r="3.1" fill="#7a0a0a"/>
<circle cx="488.76" cy="211.13" r="3.1" fill="#7a0a0a"/>
<circle cx="509.12" cy="214.85" r="3.1" fill="#7a0a0a"/>
<circle cx="529.48" cy="220.02" r="3.1" fill="#7a0a0a"/>
<circle cx="549.84" cy="221.47" r="3.1" fill="#7a0a0a"/>
<circle cx="570.20" cy="227.05" r="3.1" fill="#7a0a0a"/>
<circle cx="590.56" cy="234.08" r="3.1" fill="#7a0a0a"/>
<circle cx="610.92" cy="243.17" r="3.1" fill="#7a0a0a"/>
<circle cx="631.28" cy="250.61" r="3.1" fill="#7a0a0a"/>
<circle cx="651.64" cy="261.98" r="3.1" fill="#7a0a0a"/>
<circle cx="672.00" cy="275.21" r="3.1" fill="#7a0a0a"/>
<circle cx="468.40" cy="200.18" r="3.1" fill="#f5862a"/>
<circle cx="488.76" cy="210.92" r="3.1" fill="#f5862a"/>
<circle cx="509.12" cy="215.06" r="3.1" fill="#f5862a"/>
<circle cx="529.48" cy="219.81" r="3.1" fill="#f5862a"/>
<circle cx="549.84" cy="227.25" r="3.1" fill="#f5862a"/>
<circle cx="570.20" cy="232.22" r="3.1" fill="#f5862a"/>
<circle cx="590.56" cy="239.76" r="3.1" fill="#f5862a"/>
<circle cx="610.92" cy="249.16" r="3.1" fill="#f5862a"/>
<circle cx="631.28" cy="259.91" r="3.1" fill="#f5862a"/>
<circle cx="651.64" cy="270.66" r="3.1" fill="#f5862a"/>
<circle cx="672.00" cy="281.00" r="3.1" fill="#f5862a"/>
<circle cx="468.40" cy="201.21" r="3.1" fill="#2ef08e"/>
<circle cx="488.76" cy="211.13" r="3.1" fill="#2ef08e"/>
<circle cx="509.12" cy="216.30" r="3.1" fill="#2ef08e"/>
<circle cx="529.48" cy="221.88" r="3.1" fill="#2ef08e"/>
<circle cx="549.84" cy="227.87" r="3.1" fill="#2ef08e"/>
<circle cx="570.20" cy="236.76" r="3.1" fill="#2ef08e"/>
<circle cx="590.56" cy="244.95" r="3.1" fill="#2ef08e"/>
<circle cx="610.92" cy="254.13" r="3.1" fill="#2ef08e"/>
<circle cx="631.28" cy="263.84" r="3.1" fill="#2ef08e"/>
<circle cx="651.64" cy="271.28" r="3.1" fill="#2ef08e"/>
<circle cx="672.00" cy="281.41" r="3.1" fill="#2ef08e"/>
<circle cx="468.40" cy="202.24" r="3.1" fill="#0a0a78"/>
<circle cx="488.76" cy="211.55" r="3.1" fill="#0a0a78"/>
<circle cx="509.12" cy="217.75" r="3.1" fill="#0a0a78"/>
<circle cx="529.48" cy="226.01" r="3.1" fill="#0a0a78"/>
<circle cx="549.84" cy="233.46" r="3.1" fill="#0a0a78"/>
<circle cx="570.20" cy="241.31" r="3.1" fill="#0a0a78"/>
<circle cx="590.56" cy="250.61" r="3.1" fill="#0a0a78"/>
<circle cx="610.92" cy="259.91" r="3.1" fill="#0a0a78"/>
<circle cx="631.28" cy="268.80" r="3.1" fill="#0a0a78"/>
<circle cx="651.64" cy="276.45" r="3.1" fill="#0a0a78"/>
<circle cx="672.00" cy="285.34" r="3.1" fill="#0a0a78"/>
<line x1="455.30" y1="242.55" x2="685.00" y2="242.55" stroke="#555" stroke-width="1.1" />
<line x1="570.20" y1="179.50" x2="570.20" y2="304.00" stroke="#4a4a4a" stroke-width="1.0" />
<line x1="468.40" y1="242.55" x2="468.40" y2="240.35" stroke="#707070" stroke-width="0.9" />
<line x1="519.30" y1="242.55" x2="519.30" y2="240.35" stroke="#707070" stroke-width="0.9" />
<line x1="621.10" y1="242.55" x2="621.10" y2="240.35" stroke="#707070" stroke-width="0.9" />
<line x1="672.00" y1="242.55" x2="672.00" y2="240.35" stroke="#707070" stroke-width="0.9" />
<line x1="570.20" y1="180.50" x2="572.80" y2="180.50" stroke="#4a4a4a" stroke-width="1.0" />
<line x1="570.20" y1="201.50" x2="572.80" y2="201.50" stroke="#4a4a4a" stroke-width="1.0" />
<line x1="570.20" y1="222.50" x2="572.80" y2="222.50" stroke="#4a4a4a" stroke-width="1.0" />
<line x1="570.20" y1="263.50" x2="572.80" y2="263.50" stroke="#4a4a4a" stroke-width="1.0" />
<line x1="570.20" y1="284.50" x2="572.80" y2="284.50" stroke="#4a4a4a" stroke-width="1.0" />
<line x1="570.20" y1="304.50" x2="572.80" y2="304.50" stroke="#4a4a4a" stroke-width="1.0" />
<text x="468.40" y="252.75" font-size="9.8" text-anchor="middle" font-weight="normal" font-style="normal" fill="#111" >&#8722;200</text>
<text x="519.30" y="252.75" font-size="9.8" text-anchor="middle" font-weight="normal" font-style="normal" fill="#111" >&#8722;100</text>
<text x="570.20" y="252.75" font-size="9.8" text-anchor="middle" font-weight="normal" font-style="normal" fill="#111" >0</text>
<text x="621.10" y="252.75" font-size="9.8" text-anchor="middle" font-weight="normal" font-style="normal" fill="#111" >100</text>
<text x="672.00" y="252.75" font-size="9.8" text-anchor="middle" font-weight="normal" font-style="normal" fill="#111" >200</text>
<text x="565.80" y="183.14" font-size="9.8" text-anchor="end" font-weight="normal" font-style="normal" fill="#111" >3</text>
<text x="565.80" y="203.81" font-size="9.8" text-anchor="end" font-weight="normal" font-style="normal" fill="#111" >2</text>
<text x="565.80" y="224.48" font-size="9.8" text-anchor="end" font-weight="normal" font-style="normal" fill="#111" >1</text>
<text x="565.80" y="245.15" font-size="9.8" text-anchor="end" font-weight="normal" font-style="normal" fill="#111" >0</text>
<text x="565.80" y="265.82" font-size="9.8" text-anchor="end" font-weight="normal" font-style="normal" fill="#111" >&#8722;1</text>
<text x="565.80" y="286.49" font-size="9.8" text-anchor="end" font-weight="normal" font-style="normal" fill="#111" >&#8722;2</text>
<text x="565.80" y="307.16" font-size="9.8" text-anchor="end" font-weight="normal" font-style="normal" fill="#111" >&#8722;3</text>
<text x="575.30" y="184.40" font-size="9.6" fill="#111" word-spacing="1.1"><tspan font-style="italic">D</tspan>(<tspan font-style="italic">y</tspan>) (mV<tspan font-style="italic">&#956;</tspan>s<tspan font-size="7.0" dy="-3.0">&#8722;1</tspan><tspan dy="3.0">)</tspan></text>
<text x="646.00" y="232.80" font-size="9.3" fill="#111" word-spacing="1.1"><tspan font-style="italic">y</tspan> (mV)</text>
<circle cx="471.00" cy="273.40" r="3.3" fill="#000"/>
<text x="482.40" y="274.60" font-size="9.4" fill="#111" ><tspan font-style="italic">D</tspan> <tspan font-size="7.6">(<tspan font-style="italic">y</tspan>)</tspan></text>
<line x1="463.00" y1="285.70" x2="477.70" y2="285.70" stroke="#222" stroke-width="0.9" />
<text x="482.40" y="287.10" font-size="9.4" fill="#111" ><tspan font-style="italic">G</tspan> <tspan font-size="7.6">(<tspan font-style="italic">y</tspan>)</tspan></text>
<line x1="463.30" y1="297.00" x2="468.50" y2="297.00" stroke="#111" stroke-width="1.6" />
<line x1="474.40" y1="297.00" x2="478.40" y2="297.00" stroke="#111" stroke-width="1.6" />
<text x="482.40" y="298.80" font-size="9.4" fill="#111" ><tspan font-style="italic">G</tspan> <tspan font-size="7.6">(<tspan font-style="italic">y</tspan>) + </tspan>0.5<tspan font-style="italic">S</tspan>&#8242;<tspan font-size="7.6">(<tspan font-style="italic">y</tspan>)</tspan></text>
<polyline points="455.7,424.0 456.4,424.2 457.4,424.4 458.6,424.8 459.8,425.1 461.2,425.5 462.7,425.8 464.2,426.2 465.7,426.5 467.1,426.8 468.4,427.1 469.7,427.3 471.0,427.4 472.3,427.6 473.6,427.7 474.9,427.8 476.2,427.9 477.5,427.9 478.7,428.0 480.0,428.0 481.1,428.0 482.2,428.0 483.3,428.0 484.3,427.9 485.3,427.9 486.3,427.8 487.3,427.7 488.3,427.6 489.2,427.4 490.3,427.3 491.3,427.1 492.4,426.9 493.5,426.6 494.6,426.4 495.7,426.1 496.8,425.9 498.0,425.5 499.1,425.2 500.2,424.8 501.4,424.4 502.5,424.0 503.6,423.5 504.8,423.0 506.0,422.4 507.1,421.9 508.3,421.3 509.4,420.6 510.6,420.0 511.7,419.3 512.7,418.5 513.7,417.8 514.7,417.0 515.6,416.1 516.5,415.2 517.3,414.2 518.2,413.2 519.0,412.3 519.7,411.3 520.5,410.3 521.2,409.4 521.8,408.5 522.5,407.6 523.0,406.8 523.5,406.0 524.0,405.3 524.4,404.5 524.9,403.7 525.3,402.9 525.8,402.1 526.3,401.3 526.9,400.4 527.6,399.5 528.3,398.5 529.0,397.4 529.8,396.4 530.6,395.3 531.4,394.2 532.2,393.2 533.0,392.2 533.8,391.3 534.6,390.5 535.3,389.8 536.1,389.1 536.9,388.4 537.6,387.9 538.4,387.3 539.2,386.8 539.9,386.3 540.7,385.8 541.4,385.4 542.2,384.9 543.0,384.5 543.7,384.1 544.4,383.7 545.1,383.4 545.9,383.0 546.6,382.7 547.4,382.3 548.2,382.0 549.0,381.6 549.8,381.2 550.8,380.7 551.7,380.3 552.7,379.7 553.7,379.2 554.8,378.7 555.8,378.1 556.9,377.6 557.9,377.1 559.0,376.7 560.0,376.2 561.0,375.8 562.1,375.5 563.1,375.1 564.1,374.7 565.1,374.4 566.1,374.1 567.1,373.8 568.2,373.5 569.2,373.3 570.2,373.1 571.2,373.0 572.2,372.9 573.3,372.9 574.3,372.9 575.3,372.9 576.3,372.9 577.3,373.0 578.3,373.0 579.4,373.1 580.4,373.1 581.4,373.2 582.4,373.3 583.5,373.5 584.5,373.6 585.5,373.8 586.6,373.9 587.6,374.1 588.6,374.2 589.6,374.3 590.6,374.4 591.5,374.4 592.5,374.5 593.4,374.5 594.3,374.6 595.2,374.6 596.1,374.6 597.0,374.6 597.9,374.5 598.8,374.5 599.7,374.4 600.6,374.3 601.5,374.1 602.4,373.9 603.2,373.7 604.1,373.5 604.9,373.3 605.8,373.1 606.7,372.9 607.5,372.7 608.4,372.5 609.2,372.4 610.1,372.2 611.0,372.0 611.9,371.9 612.8,371.7 613.7,371.6 614.6,371.5 615.4,371.5 616.2,371.5 617.0,371.6 617.8,371.7 618.5,372.0 619.1,372.2 619.8,372.6 620.4,372.9 621.0,373.3 621.6,373.7 622.3,374.1 623.0,374.6 623.6,375.0 624.4,375.4 625.1,375.9 625.8,376.4 626.6,376.9 627.3,377.4 628.1,377.9 628.9,378.4 629.7,378.9 630.5,379.5 631.3,380.0 632.1,380.5 632.9,381.0 633.8,381.5 634.6,382.0 635.5,382.5 636.4,383.0 637.3,383.5 638.2,384.0 639.0,384.4 639.9,384.9 640.8,385.4 641.7,385.9 642.6,386.3 643.5,386.8 644.4,387.2 645.3,387.7 646.2,388.1 647.2,388.5 648.1,388.9 649.1,389.3 650.1,389.6 651.1,389.9 652.1,390.1 653.2,390.3 654.2,390.5 655.3,390.7 656.4,391.0 657.5,391.2 658.6,391.5 659.8,391.7 660.9,392.1 662.1,392.4 663.3,392.7 664.5,393.0 665.8,393.4 667.0,393.7 668.2,394.1 669.5,394.5 670.8,395.0 672.0,395.5 673.3,396.0 674.7,396.6 676.2,397.3 677.7,398.1 679.1,398.8 680.5,399.5 681.8,400.2 683.0,400.8 684.0,401.3 684.7,401.7" fill="none" stroke="#a83a3a" stroke-width="1.0" stroke-linejoin="round" stroke-dasharray="5 3.5"/>
<polyline points="455.7,425.2 456.4,425.3 457.4,425.5 458.6,425.7 459.8,425.9 461.2,426.2 462.7,426.4 464.2,426.6 465.7,426.8 467.1,427.0 468.4,427.1 469.7,427.2 471.0,427.3 472.3,427.3 473.6,427.4 474.9,427.4 476.2,427.4 477.5,427.4 478.7,427.3 479.9,427.2 481.1,427.1 482.3,426.9 483.4,426.6 484.5,426.3 485.6,426.0 486.7,425.6 487.7,425.2 488.7,424.8 489.8,424.3 490.8,423.8 491.8,423.4 492.8,422.8 493.8,422.3 494.8,421.7 495.8,421.1 496.8,420.5 497.7,419.9 498.7,419.2 499.6,418.6 500.6,417.9 501.5,417.2 502.4,416.4 503.3,415.7 504.2,414.9 505.1,414.0 506.0,413.2 506.9,412.4 507.7,411.5 508.6,410.7 509.4,409.9 510.1,409.1 510.9,408.3 511.6,407.6 512.2,406.8 512.9,406.0 513.5,405.3 514.1,404.6 514.7,403.8 515.4,403.1 516.0,402.4 516.8,401.7 517.5,401.0 518.3,400.3 519.0,399.6 519.8,398.9 520.6,398.2 521.4,397.6 522.3,396.9 523.1,396.2 524.0,395.5 524.9,394.8 525.8,394.1 526.8,393.4 527.8,392.6 528.8,391.8 529.9,391.0 530.9,390.2 532.0,389.5 533.0,388.7 534.1,388.0 535.1,387.4 536.1,386.8 537.1,386.2 538.1,385.7 539.2,385.2 540.2,384.8 541.2,384.3 542.2,383.8 543.3,383.4 544.3,382.9 545.3,382.4 546.2,381.9 547.1,381.4 548.0,380.9 548.9,380.4 549.8,379.9 550.7,379.4 551.6,378.9 552.6,378.4 553.7,378.0 554.9,377.5 556.3,377.0 557.7,376.5 559.3,376.0 560.9,375.4 562.5,374.9 564.2,374.4 565.8,374.0 567.4,373.6 568.9,373.3 570.2,373.1 571.4,373.0 572.6,373.0 573.6,373.1 574.6,373.2 575.6,373.4 576.6,373.6 577.5,373.8 578.4,374.0 579.4,374.2 580.4,374.4 581.4,374.5 582.4,374.7 583.4,374.9 584.5,375.1 585.5,375.3 586.5,375.5 587.5,375.7 588.5,375.9 589.5,376.1 590.6,376.2 591.6,376.4 592.6,376.5 593.6,376.7 594.6,376.8 595.7,376.9 596.7,377.0 597.7,377.1 598.7,377.2 599.7,377.4 600.7,377.5 601.8,377.6 602.8,377.7 603.8,377.8 604.8,377.9 605.8,378.1 606.8,378.2 607.9,378.3 608.9,378.4 609.9,378.6 610.9,378.7 611.9,378.9 613.0,379.0 614.0,379.2 615.0,379.3 616.0,379.5 617.0,379.7 618.0,379.9 619.1,380.1 620.1,380.3 621.1,380.6 622.1,380.9 623.1,381.2 624.2,381.6 625.2,381.9 626.2,382.3 627.2,382.7 628.2,383.1 629.2,383.5 630.3,383.9 631.3,384.3 632.3,384.7 633.3,385.0 634.3,385.4 635.4,385.8 636.4,386.1 637.4,386.5 638.4,386.9 639.4,387.2 640.4,387.6 641.5,388.0 642.5,388.4 643.5,388.9 644.5,389.3 645.5,389.8 646.6,390.3 647.6,390.7 648.6,391.2 649.6,391.6 650.6,392.0 651.6,392.4 652.7,392.7 653.7,393.0 654.7,393.2 655.7,393.5 656.7,393.7 657.7,393.9 658.8,394.2 659.8,394.4 660.8,394.6 661.8,394.8 662.8,395.1 663.8,395.3 664.8,395.6 665.8,395.8 666.8,396.1 667.7,396.3 668.8,396.6 669.8,396.8 670.9,397.1 672.0,397.3 673.2,397.6 674.6,397.9 676.0,398.1 677.5,398.4 679.0,398.7 680.4,399.0 681.8,399.2 683.0,399.5 684.0,399.7 684.7,399.8" fill="none" stroke="#f0aa60" stroke-width="1.0" stroke-linejoin="round" stroke-dasharray="5 3.5"/>
<polyline points="455.7,426.5 456.4,426.5 457.4,426.6 458.6,426.6 459.8,426.7 461.2,426.8 462.7,426.9 464.2,427.0 465.7,427.0 467.1,427.1 468.4,427.1 469.7,427.1 471.0,427.1 472.4,427.0 473.7,427.0 475.1,427.0 476.4,426.9 477.7,426.8 478.9,426.7 480.1,426.6 481.1,426.5 482.1,426.3 482.9,426.2 483.7,426.0 484.4,425.8 485.1,425.6 485.8,425.4 486.4,425.1 487.2,424.8 487.9,424.4 488.8,424.0 489.7,423.5 490.7,422.9 491.7,422.3 492.7,421.7 493.8,421.0 494.9,420.2 496.0,419.5 497.0,418.7 498.0,417.9 498.9,417.2 499.8,416.4 500.7,415.6 501.5,414.7 502.3,413.9 503.0,413.0 503.8,412.1 504.6,411.2 505.4,410.3 506.2,409.4 507.1,408.5 508.0,407.5 508.9,406.5 509.9,405.5 510.9,404.5 511.9,403.4 512.9,402.4 513.9,401.4 514.9,400.4 515.8,399.5 516.8,398.6 517.6,397.7 518.4,396.9 519.2,396.1 520.0,395.3 520.8,394.6 521.6,393.9 522.4,393.2 523.2,392.5 524.0,391.8 524.9,391.1 525.8,390.4 526.8,389.8 527.8,389.1 528.8,388.4 529.9,387.8 530.9,387.2 532.0,386.6 533.0,386.0 534.1,385.4 535.1,384.9 536.1,384.4 537.1,384.0 538.1,383.6 539.2,383.2 540.2,382.8 541.2,382.4 542.2,382.1 543.3,381.8 544.3,381.5 545.3,381.2 546.3,380.9 547.3,380.7 548.2,380.5 549.2,380.3 550.2,380.2 551.2,380.0 552.2,379.8 553.1,379.7 554.0,379.5 554.9,379.3 555.8,379.2 556.7,379.0 557.5,378.8 558.3,378.6 559.2,378.4 560.0,378.2 560.8,378.0 561.5,377.9 562.3,377.7 563.1,377.5 563.8,377.3 564.5,377.1 565.2,376.8 565.9,376.6 566.5,376.4 567.2,376.1 567.9,376.0 568.6,375.8 569.4,375.7 570.2,375.6 571.1,375.6 572.0,375.7 573.0,375.8 574.1,375.9 575.1,376.1 576.2,376.3 577.2,376.4 578.3,376.6 579.3,376.7 580.4,376.9 581.4,376.9 582.4,377.0 583.4,377.1 584.5,377.2 585.5,377.2 586.5,377.3 587.5,377.4 588.5,377.4 589.5,377.4 590.6,377.5 591.6,377.5 592.6,377.5 593.6,377.5 594.6,377.5 595.7,377.4 596.7,377.4 597.7,377.4 598.7,377.4 599.7,377.4 600.7,377.5 601.8,377.6 602.8,377.6 603.8,377.8 604.8,377.9 605.8,378.0 606.8,378.2 607.9,378.3 608.9,378.5 609.9,378.6 610.9,378.7 611.9,378.8 613.0,378.9 614.0,379.0 615.0,379.1 616.0,379.2 617.0,379.3 618.0,379.4 619.1,379.6 620.1,379.7 621.1,380.0 622.1,380.2 623.1,380.5 624.0,380.8 625.0,381.2 626.0,381.5 627.0,381.9 628.0,382.3 629.0,382.7 630.1,383.2 631.3,383.7 632.5,384.2 633.8,384.8 635.2,385.4 636.6,386.0 638.1,386.7 639.5,387.3 640.9,388.0 642.3,388.6 643.7,389.3 645.0,389.9 646.3,390.5 647.4,391.1 648.6,391.7 649.7,392.2 650.8,392.8 651.9,393.4 653.0,393.9 654.2,394.5 655.4,395.0 656.7,395.5 658.1,395.9 659.6,396.3 661.1,396.7 662.7,397.1 664.3,397.4 665.9,397.8 667.5,398.1 669.1,398.5 670.6,398.8 672.0,399.2 673.4,399.6 674.9,400.0 676.4,400.4 677.9,400.8 679.3,401.3 680.7,401.7 681.9,402.1 683.0,402.4 684.0,402.7 684.7,402.9" fill="none" stroke="#58dcb0" stroke-width="1.0" stroke-linejoin="round" stroke-dasharray="5 3.5"/>
<polyline points="455.7,426.5 456.4,426.5 457.4,426.6 458.6,426.6 460.0,426.7 461.4,426.8 462.9,426.9 464.4,427.0 465.8,427.0 467.2,427.1 468.4,427.1 469.5,427.1 470.6,427.1 471.7,427.2 472.7,427.2 473.7,427.2 474.7,427.2 475.6,427.1 476.6,427.0 477.6,426.8 478.6,426.5 479.6,426.1 480.5,425.6 481.5,425.1 482.4,424.5 483.4,423.9 484.3,423.2 485.3,422.5 486.2,421.7 487.2,421.0 488.3,420.3 489.3,419.5 490.4,418.7 491.6,417.8 492.8,416.9 493.9,416.0 495.1,415.1 496.3,414.2 497.4,413.3 498.4,412.4 499.4,411.6 500.4,410.8 501.3,410.0 502.1,409.2 502.9,408.5 503.6,407.7 504.4,407.0 505.2,406.3 505.9,405.6 506.8,404.9 507.6,404.1 508.5,403.4 509.4,402.7 510.3,402.0 511.2,401.4 512.2,400.7 513.1,400.0 514.0,399.3 515.0,398.7 515.9,398.0 516.8,397.3 517.6,396.6 518.4,395.9 519.2,395.3 520.0,394.6 520.8,393.9 521.5,393.2 522.3,392.5 523.2,391.8 524.0,391.2 524.9,390.5 525.8,389.8 526.8,389.2 527.8,388.5 528.8,387.8 529.9,387.2 530.9,386.5 532.0,385.9 533.0,385.3 534.1,384.8 535.1,384.3 536.1,383.9 537.1,383.5 538.1,383.1 539.2,382.8 540.2,382.5 541.2,382.2 542.2,381.9 543.3,381.7 544.3,381.4 545.3,381.2 546.3,381.0 547.3,380.8 548.2,380.6 549.2,380.4 550.2,380.2 551.2,380.1 552.2,379.9 553.1,379.7 554.0,379.5 554.9,379.3 555.8,379.1 556.7,378.9 557.5,378.6 558.3,378.4 559.2,378.1 560.0,377.8 560.8,377.6 561.5,377.3 562.3,377.1 563.1,376.9 563.8,376.6 564.5,376.4 565.2,376.1 565.9,375.9 566.5,375.7 567.2,375.4 567.9,375.3 568.6,375.1 569.4,375.0 570.2,375.0 571.1,375.0 572.0,375.2 573.0,375.3 574.1,375.5 575.1,375.8 576.2,376.0 577.2,376.3 578.3,376.5 579.3,376.7 580.4,376.9 581.4,377.0 582.4,377.1 583.4,377.1 584.5,377.2 585.5,377.2 586.5,377.3 587.5,377.3 588.5,377.4 589.5,377.4 590.6,377.5 591.6,377.5 592.6,377.6 593.6,377.7 594.6,377.7 595.7,377.8 596.7,377.9 597.7,377.9 598.7,378.0 599.7,378.0 600.7,378.1 601.8,378.2 602.8,378.2 603.8,378.3 604.8,378.3 605.8,378.4 606.8,378.4 607.9,378.5 608.9,378.6 609.9,378.6 610.9,378.7 611.9,378.8 613.0,378.9 614.0,379.0 615.0,379.1 616.1,379.2 617.1,379.3 618.1,379.4 619.1,379.6 620.1,379.8 621.1,380.0 622.0,380.2 622.9,380.4 623.7,380.6 624.6,380.8 625.4,381.1 626.2,381.4 627.1,381.7 628.1,382.1 629.1,382.5 630.3,383.1 631.5,383.7 632.9,384.4 634.4,385.2 635.9,386.0 637.5,386.9 639.1,387.7 640.6,388.6 642.2,389.5 643.6,390.3 645.0,391.1 646.3,391.9 647.5,392.6 648.6,393.4 649.8,394.1 650.8,394.8 651.9,395.5 653.1,396.2 654.2,396.8 655.4,397.4 656.7,397.9 658.1,398.4 659.6,398.8 661.1,399.1 662.7,399.4 664.3,399.7 665.9,399.9 667.5,400.2 669.1,400.4 670.6,400.7 672.0,401.0 673.4,401.4 674.9,401.8 676.4,402.2 677.9,402.7 679.3,403.1 680.7,403.5 681.9,403.9 683.0,404.2 684.0,404.5 684.7,404.8" fill="none" stroke="#3050b0" stroke-width="1.0" stroke-linejoin="round" stroke-dasharray="5 3.5"/>
<circle cx="468.40" cy="426.77" r="3.1" fill="#7a0a0a"/>
<circle cx="488.76" cy="430.80" r="3.1" fill="#7a0a0a"/>
<circle cx="509.12" cy="423.05" r="3.1" fill="#7a0a0a"/>
<circle cx="529.48" cy="414.68" r="3.1" fill="#7a0a0a"/>
<circle cx="549.84" cy="392.36" r="3.1" fill="#7a0a0a"/>
<circle cx="570.20" cy="385.54" r="3.1" fill="#7a0a0a"/>
<circle cx="590.56" cy="382.44" r="3.1" fill="#7a0a0a"/>
<circle cx="610.92" cy="384.30" r="3.1" fill="#7a0a0a"/>
<circle cx="631.28" cy="381.20" r="3.1" fill="#7a0a0a"/>
<circle cx="651.64" cy="391.12" r="3.1" fill="#7a0a0a"/>
<circle cx="672.00" cy="406.00" r="3.1" fill="#7a0a0a"/>
<circle cx="468.40" cy="432.66" r="3.1" fill="#f5862a"/>
<circle cx="488.76" cy="430.80" r="3.1" fill="#f5862a"/>
<circle cx="509.12" cy="426.46" r="3.1" fill="#f5862a"/>
<circle cx="529.48" cy="414.06" r="3.1" fill="#f5862a"/>
<circle cx="549.84" cy="411.58" r="3.1" fill="#f5862a"/>
<circle cx="570.20" cy="402.59" r="3.1" fill="#f5862a"/>
<circle cx="590.56" cy="399.80" r="3.1" fill="#f5862a"/>
<circle cx="610.92" cy="404.14" r="3.1" fill="#f5862a"/>
<circle cx="631.28" cy="412.20" r="3.1" fill="#f5862a"/>
<circle cx="651.64" cy="419.64" r="3.1" fill="#f5862a"/>
<circle cx="672.00" cy="428.32" r="3.1" fill="#f5862a"/>
<circle cx="468.40" cy="432.97" r="3.1" fill="#2ef08e"/>
<circle cx="488.76" cy="436.81" r="3.1" fill="#2ef08e"/>
<circle cx="509.12" cy="428.94" r="3.1" fill="#2ef08e"/>
<circle cx="529.48" cy="419.64" r="3.1" fill="#2ef08e"/>
<circle cx="549.84" cy="415.92" r="3.1" fill="#2ef08e"/>
<circle cx="570.20" cy="414.68" r="3.1" fill="#2ef08e"/>
<circle cx="590.56" cy="414.68" r="3.1" fill="#2ef08e"/>
<circle cx="610.92" cy="418.40" r="3.1" fill="#2ef08e"/>
<circle cx="631.28" cy="423.61" r="3.1" fill="#2ef08e"/>
<circle cx="651.64" cy="423.98" r="3.1" fill="#2ef08e"/>
<circle cx="672.00" cy="431.17" r="3.1" fill="#2ef08e"/>
<circle cx="468.40" cy="436.38" r="3.1" fill="#0a0a78"/>
<circle cx="488.76" cy="437.31" r="3.1" fill="#0a0a78"/>
<circle cx="509.12" cy="432.04" r="3.1" fill="#0a0a78"/>
<circle cx="529.48" cy="431.17" r="3.1" fill="#0a0a78"/>
<circle cx="549.84" cy="429.56" r="3.1" fill="#0a0a78"/>
<circle cx="570.20" cy="428.94" r="3.1" fill="#0a0a78"/>
<circle cx="590.56" cy="431.17" r="3.1" fill="#0a0a78"/>
<circle cx="610.92" cy="434.52" r="3.1" fill="#0a0a78"/>
<circle cx="631.28" cy="435.14" r="3.1" fill="#0a0a78"/>
<circle cx="651.64" cy="435.14" r="3.1" fill="#0a0a78"/>
<circle cx="672.00" cy="435.57" r="3.1" fill="#0a0a78"/>
<line x1="455.20" y1="430.80" x2="685.00" y2="430.80" stroke="#707070" stroke-width="1.3" />
<line x1="570.20" y1="337.80" x2="570.20" y2="462.00" stroke="#4a4a4a" stroke-width="1.0" />
<line x1="468.40" y1="430.80" x2="468.40" y2="428.60" stroke="#707070" stroke-width="0.9" />
<line x1="519.30" y1="430.80" x2="519.30" y2="428.60" stroke="#707070" stroke-width="0.9" />
<line x1="621.10" y1="430.80" x2="621.10" y2="428.60" stroke="#707070" stroke-width="0.9" />
<line x1="672.00" y1="430.80" x2="672.00" y2="428.60" stroke="#707070" stroke-width="0.9" />
<line x1="570.20" y1="369.50" x2="572.80" y2="369.50" stroke="#4a4a4a" stroke-width="1.0" />
<line x1="570.20" y1="400.50" x2="572.80" y2="400.50" stroke="#4a4a4a" stroke-width="1.0" />
<text x="468.40" y="442.10" font-size="9.8" text-anchor="middle" font-weight="normal" font-style="normal" fill="#111" >&#8722;200</text>
<text x="519.30" y="442.10" font-size="9.8" text-anchor="middle" font-weight="normal" font-style="normal" fill="#111" >&#8722;100</text>
<text x="570.20" y="442.10" font-size="9.8" text-anchor="middle" font-weight="normal" font-style="normal" fill="#111" >0</text>
<text x="621.10" y="442.10" font-size="9.8" text-anchor="middle" font-weight="normal" font-style="normal" fill="#111" >100</text>
<text x="672.00" y="442.10" font-size="9.8" text-anchor="middle" font-weight="normal" font-style="normal" fill="#111" >200</text>
<text x="566.40" y="372.00" font-size="9.8" text-anchor="end" font-weight="normal" font-style="normal" fill="#111" >1</text>
<text x="566.40" y="403.00" font-size="9.8" text-anchor="end" font-weight="normal" font-style="normal" fill="#111" >0.5</text>
<text x="566.40" y="434.00" font-size="9.8" text-anchor="end" font-weight="normal" font-style="normal" fill="#111" >0</text>
<text x="574.30" y="344.60" font-size="9.6" fill="#111" word-spacing="1.1">&#916;<tspan font-style="italic">D</tspan>(<tspan font-style="italic">y</tspan>) (mV<tspan font-style="italic">&#956;</tspan>s<tspan font-size="7.0" dy="-3.0">&#8722;1</tspan><tspan dy="3.0">)</tspan></text>
<text x="646.00" y="421.00" font-size="9.3" fill="#111" word-spacing="1.1"><tspan font-style="italic">y</tspan> (mV)</text>
<circle cx="470.50" cy="360.50" r="3.3" fill="#000"/>
<text x="481.20" y="364.20" font-size="9.4" fill="#111" ><tspan font-size="7.4">&#916;</tspan><tspan font-style="italic">D</tspan>(<tspan font-style="italic">y</tspan>)</text>
<line x1="462.80" y1="378.00" x2="469.00" y2="378.00" stroke="#666" stroke-width="1.2" />
<line x1="474.70" y1="378.00" x2="479.00" y2="378.00" stroke="#666" stroke-width="1.2" />
<text x="480.40" y="381.20" font-size="9.4" fill="#111" >05<tspan font-style="italic">S</tspan>&#8242;(<tspan font-style="italic">y</tspan>)</text>
</svg></body></html>
